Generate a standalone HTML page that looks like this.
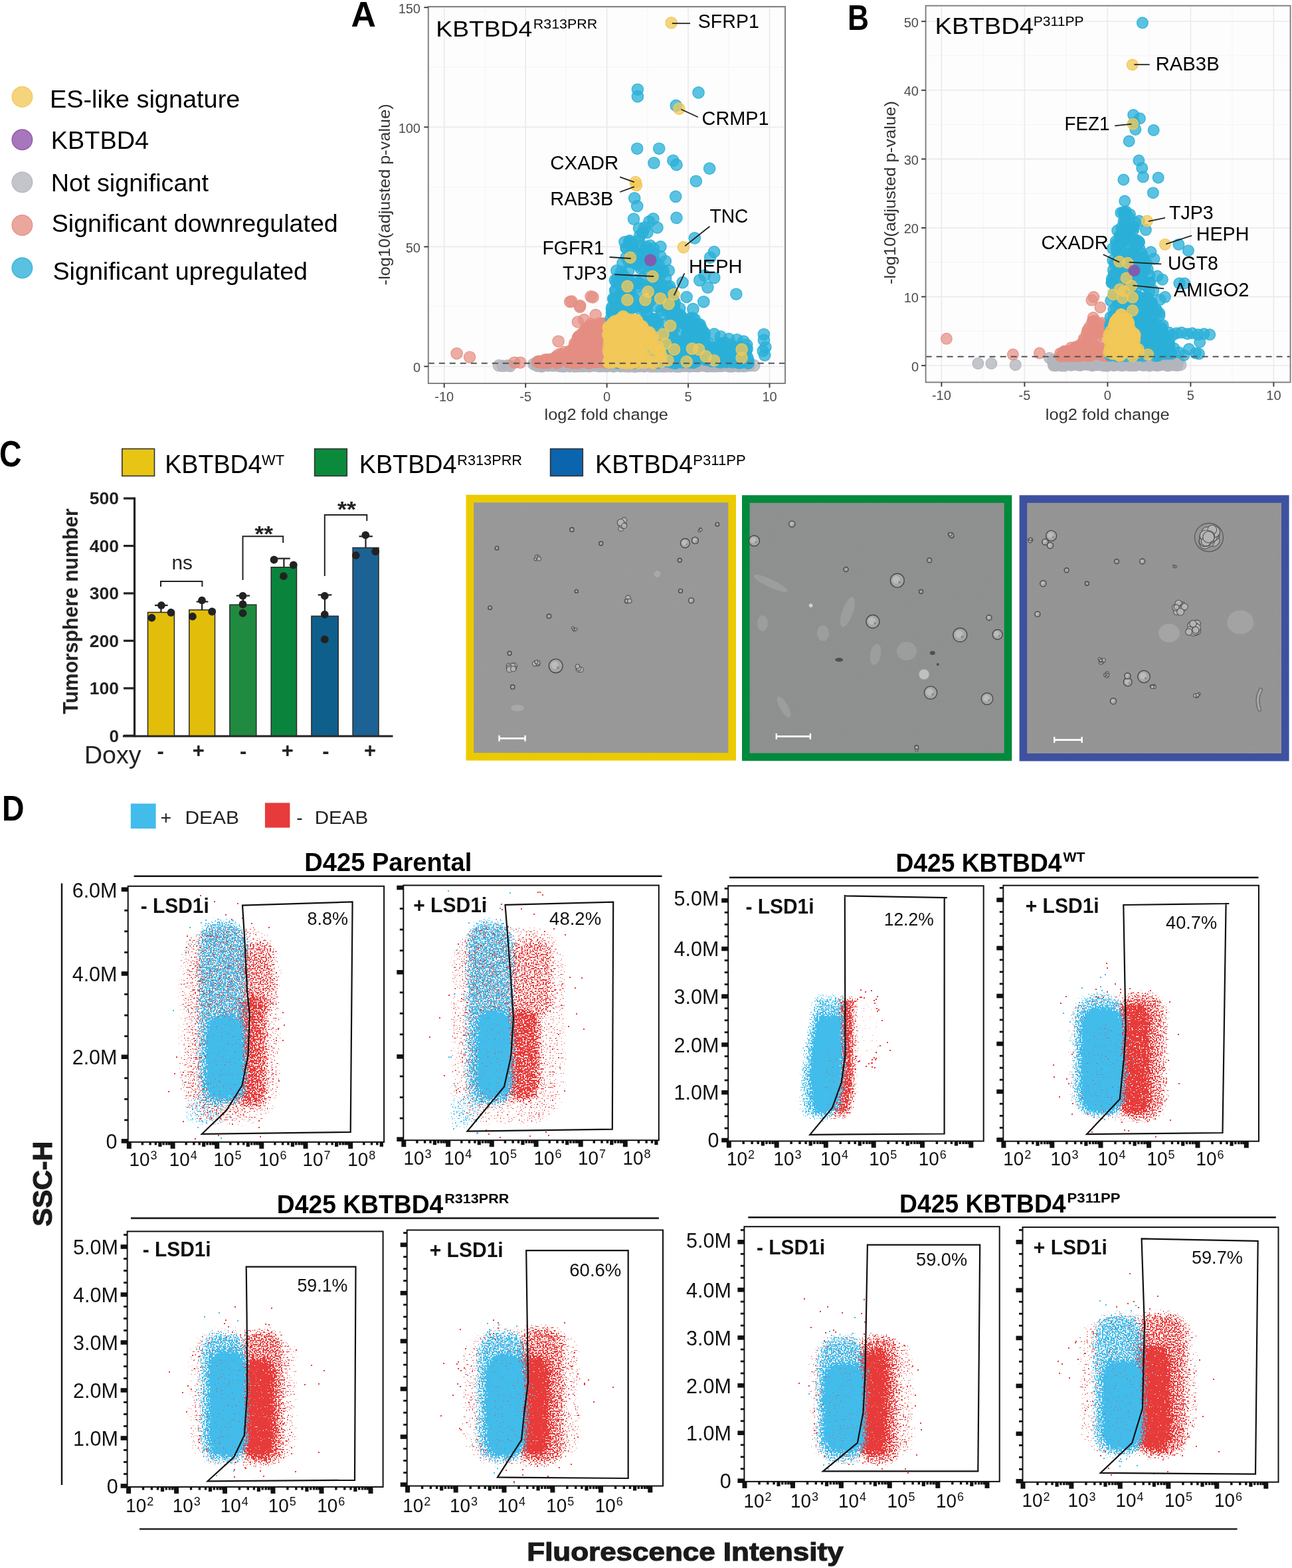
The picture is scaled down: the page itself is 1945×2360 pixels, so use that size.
<!DOCTYPE html><html><head><meta charset="utf-8"><style>html,body{margin:0;padding:0;background:#fff;}svg{display:block}text{font-family:"Liberation Sans",Arial,Helvetica,sans-serif}</style></head><body><svg width="1945" height="2360" viewBox="0 0 1945 2360"><rect width="1945" height="2360" fill="#fff"/><circle cx="33.4" cy="145.8" r="15.3" fill="#F2C858" fill-opacity="0.78" stroke="#F2C858" stroke-opacity="0.9" stroke-width="1.4"/><text x="74.9" y="161.9" font-size="36" textLength="286.5" lengthAdjust="spacingAndGlyphs">ES-like signature</text><circle cx="33.4" cy="210.3" r="15.3" fill="#8E4FA8" fill-opacity="0.78" stroke="#8E4FA8" stroke-opacity="0.9" stroke-width="1.4"/><text x="76.7" y="223.9" font-size="36" textLength="147.4" lengthAdjust="spacingAndGlyphs">KBTBD4</text><circle cx="33.4" cy="274.2" r="15.3" fill="#B3B5BD" fill-opacity="0.78" stroke="#B3B5BD" stroke-opacity="0.9" stroke-width="1.4"/><text x="76.7" y="287.7" font-size="36" textLength="237.3" lengthAdjust="spacingAndGlyphs">Not significant</text><circle cx="33.4" cy="339.0" r="15.3" fill="#E48E82" fill-opacity="0.78" stroke="#E48E82" stroke-opacity="0.9" stroke-width="1.4"/><text x="77.7" y="348.5" font-size="36" textLength="431.1" lengthAdjust="spacingAndGlyphs">Significant downregulated</text><circle cx="33.4" cy="403.3" r="15.3" fill="#2BB0D8" fill-opacity="0.78" stroke="#2BB0D8" stroke-opacity="0.9" stroke-width="1.4"/><text x="79.4" y="421.3" font-size="36" textLength="383.7" lengthAdjust="spacingAndGlyphs">Significant upregulated</text><rect x="644.8" y="10.0" width="537.2" height="567.0" fill="#fdfdfd"/><line x1="644.8" y1="461.4" x2="1182.0" y2="461.4" stroke="#f3f3f6" stroke-width="0.8"/><line x1="644.8" y1="281.4" x2="1182.0" y2="281.4" stroke="#f3f3f6" stroke-width="0.8"/><line x1="644.8" y1="101.2" x2="1182.0" y2="101.2" stroke="#f3f3f6" stroke-width="0.8"/><line x1="729.9" y1="10.0" x2="729.9" y2="577.0" stroke="#f3f3f6" stroke-width="0.8"/><line x1="852.4" y1="10.0" x2="852.4" y2="577.0" stroke="#f3f3f6" stroke-width="0.8"/><line x1="974.8" y1="10.0" x2="974.8" y2="577.0" stroke="#f3f3f6" stroke-width="0.8"/><line x1="1097.3" y1="10.0" x2="1097.3" y2="577.0" stroke="#f3f3f6" stroke-width="0.8"/><line x1="644.8" y1="551.5" x2="1182.0" y2="551.5" stroke="#e9e9ef" stroke-width="1.6"/><line x1="644.8" y1="371.4" x2="1182.0" y2="371.4" stroke="#e9e9ef" stroke-width="1.6"/><line x1="644.8" y1="191.3" x2="1182.0" y2="191.3" stroke="#e9e9ef" stroke-width="1.6"/><line x1="644.8" y1="11.2" x2="1182.0" y2="11.2" stroke="#e9e9ef" stroke-width="1.6"/><line x1="668.7" y1="10.0" x2="668.7" y2="577.0" stroke="#e9e9ef" stroke-width="1.6"/><line x1="791.2" y1="10.0" x2="791.2" y2="577.0" stroke="#e9e9ef" stroke-width="1.6"/><line x1="913.6" y1="10.0" x2="913.6" y2="577.0" stroke="#e9e9ef" stroke-width="1.6"/><line x1="1036.0" y1="10.0" x2="1036.0" y2="577.0" stroke="#e9e9ef" stroke-width="1.6"/><line x1="1158.5" y1="10.0" x2="1158.5" y2="577.0" stroke="#e9e9ef" stroke-width="1.6"/><g fill="#B3B5BD" fill-opacity="0.77" stroke="#B3B5BD" stroke-opacity="0.89" stroke-width="1.4"><circle cx="1004.9" cy="548.3" r="8.6"/><circle cx="1052.8" cy="550.7" r="8.6"/><circle cx="901.4" cy="548.4" r="8.6"/><circle cx="807.5" cy="548.5" r="8.6"/><circle cx="1059.6" cy="549.8" r="8.6"/><circle cx="902.3" cy="550.5" r="8.6"/><circle cx="887.0" cy="549.9" r="8.6"/><circle cx="966.5" cy="549.5" r="8.6"/><circle cx="1122.8" cy="548.6" r="8.6"/><circle cx="1003.9" cy="547.9" r="8.6"/><circle cx="874.4" cy="550.9" r="8.6"/><circle cx="1000.9" cy="551.3" r="8.6"/><circle cx="817.2" cy="549.6" r="8.6"/><circle cx="954.3" cy="548.2" r="8.6"/><circle cx="1006.2" cy="549.6" r="8.6"/><circle cx="964.0" cy="550.6" r="8.6"/><circle cx="809.6" cy="550.8" r="8.6"/><circle cx="1026.2" cy="550.8" r="8.6"/><circle cx="923.5" cy="551.5" r="8.6"/><circle cx="1070.1" cy="550.9" r="8.6"/><circle cx="891.0" cy="548.3" r="8.6"/><circle cx="968.1" cy="548.4" r="8.6"/><circle cx="1009.5" cy="548.8" r="8.6"/><circle cx="835.0" cy="549.6" r="8.6"/><circle cx="967.5" cy="548.4" r="8.6"/><circle cx="920.9" cy="549.3" r="8.6"/><circle cx="824.7" cy="550.1" r="8.6"/><circle cx="908.7" cy="551.0" r="8.6"/><circle cx="1065.7" cy="550.1" r="8.6"/><circle cx="1117.4" cy="549.4" r="8.6"/><circle cx="998.5" cy="549.2" r="8.6"/><circle cx="1021.2" cy="551.0" r="8.6"/><circle cx="946.0" cy="550.6" r="8.6"/><circle cx="934.0" cy="551.2" r="8.6"/><circle cx="1114.0" cy="550.7" r="8.6"/><circle cx="1019.7" cy="550.4" r="8.6"/><circle cx="1084.1" cy="549.1" r="8.6"/><circle cx="847.7" cy="548.5" r="8.6"/><circle cx="1106.7" cy="548.2" r="8.6"/><circle cx="987.2" cy="551.0" r="8.6"/><circle cx="867.1" cy="548.2" r="8.6"/><circle cx="981.7" cy="550.8" r="8.6"/><circle cx="1087.3" cy="549.2" r="8.6"/><circle cx="987.2" cy="550.1" r="8.6"/><circle cx="936.7" cy="550.6" r="8.6"/><circle cx="818.0" cy="548.3" r="8.6"/><circle cx="954.8" cy="549.5" r="8.6"/><circle cx="908.4" cy="548.8" r="8.6"/><circle cx="813.9" cy="550.2" r="8.6"/><circle cx="815.5" cy="551.1" r="8.6"/><circle cx="1113.8" cy="549.1" r="8.6"/><circle cx="942.2" cy="549.6" r="8.6"/><circle cx="1083.7" cy="550.3" r="8.6"/><circle cx="993.8" cy="549.0" r="8.6"/><circle cx="919.0" cy="549.6" r="8.6"/><circle cx="1049.5" cy="548.2" r="8.6"/><circle cx="853.9" cy="548.1" r="8.6"/><circle cx="807.5" cy="548.8" r="8.6"/><circle cx="1063.9" cy="551.0" r="8.6"/><circle cx="939.2" cy="548.6" r="8.6"/><circle cx="810.4" cy="549.2" r="8.6"/><circle cx="1058.3" cy="549.7" r="8.6"/><circle cx="1036.9" cy="550.7" r="8.6"/><circle cx="869.0" cy="550.2" r="8.6"/><circle cx="863.0" cy="550.3" r="8.6"/><circle cx="1107.7" cy="549.4" r="8.6"/><circle cx="914.1" cy="550.5" r="8.6"/><circle cx="1108.9" cy="549.9" r="8.6"/><circle cx="1118.0" cy="549.6" r="8.6"/><circle cx="971.8" cy="548.3" r="8.6"/><circle cx="1042.3" cy="549.4" r="8.6"/><circle cx="941.7" cy="548.3" r="8.6"/><circle cx="936.9" cy="548.2" r="8.6"/><circle cx="827.7" cy="550.0" r="8.6"/><circle cx="971.2" cy="548.1" r="8.6"/><circle cx="885.8" cy="548.6" r="8.6"/><circle cx="1021.2" cy="548.9" r="8.6"/><circle cx="1006.3" cy="548.0" r="8.6"/><circle cx="911.8" cy="550.1" r="8.6"/><circle cx="870.4" cy="551.3" r="8.6"/><circle cx="873.6" cy="548.2" r="8.6"/><circle cx="1073.3" cy="551.1" r="8.6"/><circle cx="998.1" cy="549.8" r="8.6"/><circle cx="995.2" cy="549.1" r="8.6"/><circle cx="903.5" cy="548.0" r="8.6"/><circle cx="954.2" cy="549.2" r="8.6"/><circle cx="1008.1" cy="550.8" r="8.6"/><circle cx="825.5" cy="550.0" r="8.6"/><circle cx="1049.1" cy="548.6" r="8.6"/><circle cx="1038.3" cy="551.1" r="8.6"/><circle cx="1096.6" cy="548.6" r="8.6"/><circle cx="1085.3" cy="549.6" r="8.6"/><circle cx="1097.4" cy="551.3" r="8.6"/><circle cx="815.5" cy="551.4" r="8.6"/><circle cx="886.3" cy="550.6" r="8.6"/><circle cx="865.5" cy="549.5" r="8.6"/><circle cx="818.3" cy="549.4" r="8.6"/><circle cx="858.7" cy="549.1" r="8.6"/><circle cx="812.6" cy="550.4" r="8.6"/><circle cx="1104.6" cy="549.6" r="8.6"/><circle cx="1064.2" cy="549.1" r="8.6"/><circle cx="1000.3" cy="550.8" r="8.6"/><circle cx="988.7" cy="551.4" r="8.6"/><circle cx="1061.1" cy="548.0" r="8.6"/><circle cx="1077.7" cy="551.3" r="8.6"/><circle cx="913.7" cy="550.4" r="8.6"/><circle cx="841.7" cy="549.2" r="8.6"/><circle cx="1059.7" cy="550.4" r="8.6"/><circle cx="1080.5" cy="548.6" r="8.6"/><circle cx="847.0" cy="548.7" r="8.6"/><circle cx="1086.8" cy="550.8" r="8.6"/><circle cx="988.5" cy="549.2" r="8.6"/><circle cx="999.8" cy="551.2" r="8.6"/><circle cx="1016.3" cy="549.2" r="8.6"/><circle cx="1068.1" cy="548.6" r="8.6"/><circle cx="910.0" cy="548.9" r="8.6"/><circle cx="1082.0" cy="548.3" r="8.6"/><circle cx="857.3" cy="551.4" r="8.6"/><circle cx="1013.0" cy="550.7" r="8.6"/><circle cx="985.3" cy="548.1" r="8.6"/><circle cx="926.6" cy="550.6" r="8.6"/><circle cx="951.2" cy="549.1" r="8.6"/><circle cx="838.0" cy="550.1" r="8.6"/><circle cx="848.4" cy="549.1" r="8.6"/><circle cx="1070.3" cy="550.1" r="8.6"/><circle cx="924.2" cy="549.6" r="8.6"/><circle cx="874.3" cy="550.6" r="8.6"/><circle cx="910.9" cy="549.9" r="8.6"/><circle cx="831.8" cy="548.8" r="8.6"/><circle cx="990.2" cy="550.4" r="8.6"/><circle cx="830.5" cy="548.8" r="8.6"/><circle cx="847.6" cy="551.0" r="8.6"/><circle cx="847.4" cy="551.2" r="8.6"/><circle cx="1094.4" cy="550.5" r="8.6"/><circle cx="903.4" cy="548.5" r="8.6"/><circle cx="1003.2" cy="550.8" r="8.6"/><circle cx="944.3" cy="548.3" r="8.6"/><circle cx="925.4" cy="548.9" r="8.6"/><circle cx="836.7" cy="548.9" r="8.6"/><circle cx="1053.0" cy="548.5" r="8.6"/><circle cx="1020.5" cy="550.2" r="8.6"/><circle cx="826.3" cy="549.6" r="8.6"/><circle cx="1047.0" cy="550.8" r="8.6"/><circle cx="890.6" cy="549.6" r="8.6"/><circle cx="1044.1" cy="548.3" r="8.6"/><circle cx="845.9" cy="550.8" r="8.6"/><circle cx="1060.4" cy="549.2" r="8.6"/><circle cx="1035.4" cy="547.9" r="8.6"/><circle cx="1104.9" cy="548.5" r="8.6"/><circle cx="1053.3" cy="550.1" r="8.6"/><circle cx="1010.0" cy="550.8" r="8.6"/><circle cx="1047.6" cy="548.8" r="8.6"/><circle cx="1035.5" cy="549.9" r="8.6"/><circle cx="926.2" cy="550.0" r="8.6"/><circle cx="816.5" cy="548.5" r="8.6"/><circle cx="978.5" cy="550.1" r="8.6"/><circle cx="980.3" cy="548.9" r="8.6"/><circle cx="927.3" cy="548.5" r="8.6"/><circle cx="1098.6" cy="550.1" r="8.6"/><circle cx="849.7" cy="548.8" r="8.6"/><circle cx="1122.0" cy="551.0" r="8.6"/><circle cx="1032.7" cy="548.5" r="8.6"/><circle cx="1098.9" cy="551.1" r="8.6"/><circle cx="835.1" cy="547.9" r="8.6"/><circle cx="843.0" cy="550.9" r="8.6"/><circle cx="988.9" cy="549.9" r="8.6"/><circle cx="1044.7" cy="550.8" r="8.6"/><circle cx="1097.0" cy="550.7" r="8.6"/><circle cx="1050.7" cy="551.3" r="8.6"/><circle cx="956.6" cy="551.4" r="8.6"/><circle cx="905.8" cy="550.4" r="8.6"/><circle cx="1035.0" cy="549.9" r="8.6"/><circle cx="823.9" cy="547.9" r="8.6"/><circle cx="1088.8" cy="548.2" r="8.6"/><circle cx="884.3" cy="550.1" r="8.6"/><circle cx="878.2" cy="551.1" r="8.6"/><circle cx="816.4" cy="549.7" r="8.6"/><circle cx="845.0" cy="550.9" r="8.6"/><circle cx="1079.8" cy="549.8" r="8.6"/><circle cx="864.3" cy="549.1" r="8.6"/><circle cx="890.5" cy="549.6" r="8.6"/><circle cx="895.9" cy="549.6" r="8.6"/><circle cx="1006.0" cy="549.6" r="8.6"/><circle cx="931.8" cy="548.7" r="8.6"/><circle cx="1083.9" cy="550.9" r="8.6"/><circle cx="849.2" cy="551.1" r="8.6"/><circle cx="1117.7" cy="548.1" r="8.6"/><circle cx="879.3" cy="548.0" r="8.6"/><circle cx="872.0" cy="549.7" r="8.6"/><circle cx="964.2" cy="548.2" r="8.6"/><circle cx="818.7" cy="550.4" r="8.6"/><circle cx="996.9" cy="551.3" r="8.6"/><circle cx="881.2" cy="549.8" r="8.6"/><circle cx="1086.3" cy="548.8" r="8.6"/><circle cx="1069.8" cy="548.8" r="8.6"/><circle cx="1031.2" cy="548.4" r="8.6"/><circle cx="1022.8" cy="548.9" r="8.6"/><circle cx="901.9" cy="550.9" r="8.6"/><circle cx="1046.7" cy="550.9" r="8.6"/><circle cx="1098.6" cy="549.4" r="8.6"/><circle cx="910.7" cy="548.1" r="8.6"/><circle cx="855.2" cy="549.6" r="8.6"/><circle cx="835.0" cy="548.0" r="8.6"/><circle cx="989.0" cy="548.6" r="8.6"/><circle cx="895.6" cy="548.6" r="8.6"/><circle cx="1029.6" cy="549.2" r="8.6"/><circle cx="1108.5" cy="549.9" r="8.6"/><circle cx="938.0" cy="549.0" r="8.6"/><circle cx="1071.7" cy="550.3" r="8.6"/><circle cx="1019.0" cy="550.7" r="8.6"/><circle cx="981.5" cy="548.7" r="8.6"/><circle cx="826.6" cy="548.9" r="8.6"/><circle cx="810.8" cy="548.0" r="8.6"/><circle cx="955.1" cy="550.0" r="8.6"/><circle cx="1035.2" cy="549.6" r="8.6"/><circle cx="1038.5" cy="551.2" r="8.6"/><circle cx="985.0" cy="549.5" r="8.6"/><circle cx="1102.6" cy="551.4" r="8.6"/><circle cx="950.0" cy="549.2" r="8.6"/><circle cx="981.2" cy="551.2" r="8.6"/><circle cx="994.7" cy="550.7" r="8.6"/><circle cx="868.1" cy="548.3" r="8.6"/><circle cx="868.8" cy="549.9" r="8.6"/><circle cx="1044.7" cy="549.0" r="8.6"/><circle cx="982.0" cy="548.6" r="8.6"/><circle cx="954.1" cy="549.3" r="8.6"/><circle cx="1066.6" cy="549.1" r="8.6"/><circle cx="1010.2" cy="550.0" r="8.6"/><circle cx="983.6" cy="550.1" r="8.6"/><circle cx="1042.8" cy="550.1" r="8.6"/><circle cx="954.4" cy="548.8" r="8.6"/><circle cx="966.2" cy="550.3" r="8.6"/><circle cx="1069.1" cy="550.1" r="8.6"/><circle cx="1074.8" cy="548.7" r="8.6"/><circle cx="948.2" cy="548.9" r="8.6"/><circle cx="816.8" cy="550.1" r="8.6"/><circle cx="1079.7" cy="549.4" r="8.6"/><circle cx="983.4" cy="549.1" r="8.6"/><circle cx="1021.6" cy="549.4" r="8.6"/><circle cx="939.8" cy="550.8" r="8.6"/><circle cx="899.0" cy="550.4" r="8.6"/><circle cx="943.0" cy="547.9" r="8.6"/><circle cx="918.1" cy="549.9" r="8.6"/><circle cx="924.2" cy="549.4" r="8.6"/><circle cx="1107.6" cy="548.3" r="8.6"/><circle cx="925.9" cy="550.5" r="8.6"/><circle cx="1087.4" cy="549.7" r="8.6"/><circle cx="1024.1" cy="551.2" r="8.6"/><circle cx="1081.7" cy="550.4" r="8.6"/><circle cx="963.3" cy="550.8" r="8.6"/><circle cx="939.6" cy="548.5" r="8.6"/><circle cx="1069.3" cy="549.8" r="8.6"/><circle cx="1050.3" cy="549.9" r="8.6"/><circle cx="924.7" cy="549.5" r="8.6"/><circle cx="869.9" cy="550.4" r="8.6"/><circle cx="1030.8" cy="548.7" r="8.6"/><circle cx="823.9" cy="548.9" r="8.6"/><circle cx="1066.1" cy="549.9" r="8.6"/><circle cx="825.7" cy="549.0" r="8.6"/><circle cx="884.2" cy="549.2" r="8.6"/><circle cx="925.7" cy="549.2" r="8.6"/><circle cx="888.0" cy="549.8" r="8.6"/><circle cx="972.9" cy="549.2" r="8.6"/><circle cx="870.5" cy="548.0" r="8.6"/><circle cx="897.9" cy="550.4" r="8.6"/><circle cx="887.4" cy="551.3" r="8.6"/><circle cx="940.5" cy="548.7" r="8.6"/><circle cx="1031.7" cy="550.8" r="8.6"/><circle cx="849.4" cy="550.3" r="8.6"/><circle cx="1050.4" cy="549.7" r="8.6"/><circle cx="1099.8" cy="549.1" r="8.6"/><circle cx="1003.5" cy="548.7" r="8.6"/><circle cx="1044.7" cy="550.3" r="8.6"/><circle cx="887.7" cy="549.9" r="8.6"/><circle cx="961.6" cy="551.0" r="8.6"/><circle cx="946.4" cy="549.2" r="8.6"/><circle cx="849.1" cy="551.0" r="8.6"/><circle cx="861.2" cy="550.5" r="8.6"/><circle cx="1112.0" cy="551.4" r="8.6"/><circle cx="864.3" cy="550.9" r="8.6"/><circle cx="956.9" cy="551.4" r="8.6"/><circle cx="951.7" cy="550.9" r="8.6"/><circle cx="891.7" cy="548.6" r="8.6"/><circle cx="864.4" cy="549.3" r="8.6"/><circle cx="935.2" cy="550.0" r="8.6"/><circle cx="1065.9" cy="550.9" r="8.6"/><circle cx="1100.0" cy="548.3" r="8.6"/><circle cx="1018.6" cy="551.3" r="8.6"/><circle cx="1017.0" cy="549.3" r="8.6"/><circle cx="1051.7" cy="550.7" r="8.6"/><circle cx="1109.4" cy="548.3" r="8.6"/><circle cx="842.3" cy="550.4" r="8.6"/><circle cx="816.2" cy="548.5" r="8.6"/><circle cx="1097.2" cy="547.9" r="8.6"/><circle cx="1000.7" cy="549.1" r="8.6"/><circle cx="1021.8" cy="549.4" r="8.6"/><circle cx="1109.1" cy="549.3" r="8.6"/><circle cx="912.7" cy="549.7" r="8.6"/><circle cx="811.8" cy="548.9" r="8.6"/><circle cx="1026.8" cy="550.0" r="8.6"/><circle cx="1076.9" cy="548.8" r="8.6"/><circle cx="913.0" cy="551.2" r="8.6"/><circle cx="847.9" cy="550.8" r="8.6"/><circle cx="902.6" cy="549.9" r="8.6"/><circle cx="1101.3" cy="550.5" r="8.6"/><circle cx="1091.9" cy="549.0" r="8.6"/><circle cx="1077.6" cy="550.0" r="8.6"/><circle cx="806.9" cy="548.7" r="8.6"/><circle cx="884.0" cy="551.0" r="8.6"/><circle cx="1060.4" cy="549.0" r="8.6"/><circle cx="873.5" cy="550.5" r="8.6"/><circle cx="1104.9" cy="550.5" r="8.6"/><circle cx="1029.5" cy="551.0" r="8.6"/><circle cx="1065.3" cy="551.1" r="8.6"/><circle cx="970.1" cy="551.4" r="8.6"/><circle cx="981.0" cy="548.5" r="8.6"/><circle cx="832.7" cy="550.5" r="8.6"/><circle cx="1049.3" cy="549.3" r="8.6"/><circle cx="905.4" cy="549.2" r="8.6"/><circle cx="950.6" cy="548.4" r="8.6"/><circle cx="899.1" cy="548.8" r="8.6"/><circle cx="1008.2" cy="548.8" r="8.6"/><circle cx="926.3" cy="548.9" r="8.6"/><circle cx="1028.2" cy="550.1" r="8.6"/><circle cx="814.3" cy="548.0" r="8.6"/><circle cx="1033.0" cy="550.8" r="8.6"/><circle cx="1038.5" cy="550.5" r="8.6"/><circle cx="955.3" cy="548.4" r="8.6"/><circle cx="948.5" cy="550.5" r="8.6"/><circle cx="903.1" cy="551.2" r="8.6"/><circle cx="1000.7" cy="550.4" r="8.6"/><circle cx="1004.0" cy="551.3" r="8.6"/><circle cx="908.5" cy="550.7" r="8.6"/><circle cx="915.9" cy="547.8" r="8.6"/><circle cx="963.1" cy="549.2" r="8.6"/><circle cx="953.9" cy="551.2" r="8.6"/><circle cx="995.2" cy="548.3" r="8.6"/><circle cx="928.8" cy="549.1" r="8.6"/><circle cx="1060.0" cy="548.1" r="8.6"/><circle cx="953.4" cy="549.4" r="8.6"/><circle cx="1025.4" cy="548.5" r="8.6"/><circle cx="902.5" cy="550.5" r="8.6"/><circle cx="972.5" cy="549.6" r="8.6"/><circle cx="869.7" cy="547.7" r="8.6"/><circle cx="982.9" cy="551.3" r="8.6"/><circle cx="943.4" cy="550.9" r="8.6"/><circle cx="980.7" cy="549.3" r="8.6"/><circle cx="974.8" cy="549.2" r="8.6"/><circle cx="932.6" cy="550.2" r="8.6"/><circle cx="1005.8" cy="548.5" r="8.6"/><circle cx="914.1" cy="548.3" r="8.6"/><circle cx="939.5" cy="550.7" r="8.6"/><circle cx="872.2" cy="549.6" r="8.6"/><circle cx="931.8" cy="549.0" r="8.6"/><circle cx="997.1" cy="551.0" r="8.6"/><circle cx="985.2" cy="548.6" r="8.6"/><circle cx="938.9" cy="550.4" r="8.6"/><circle cx="1009.7" cy="549.4" r="8.6"/><circle cx="983.2" cy="549.3" r="8.6"/><circle cx="1044.6" cy="548.3" r="8.6"/><circle cx="978.1" cy="551.1" r="8.6"/><circle cx="851.0" cy="548.1" r="8.6"/><circle cx="940.8" cy="551.3" r="8.6"/><circle cx="983.8" cy="550.7" r="8.6"/><circle cx="867.5" cy="547.8" r="8.6"/><circle cx="914.0" cy="550.8" r="8.6"/><circle cx="920.7" cy="549.4" r="8.6"/><circle cx="837.2" cy="549.8" r="8.6"/><circle cx="962.7" cy="550.1" r="8.6"/><circle cx="1047.3" cy="548.5" r="8.6"/><circle cx="862.1" cy="548.3" r="8.6"/><circle cx="891.2" cy="548.4" r="8.6"/><circle cx="954.2" cy="548.0" r="8.6"/><circle cx="967.1" cy="549.7" r="8.6"/><circle cx="964.9" cy="549.5" r="8.6"/><circle cx="935.0" cy="550.9" r="8.6"/><circle cx="923.9" cy="551.3" r="8.6"/><circle cx="867.9" cy="551.0" r="8.6"/><circle cx="1040.7" cy="550.1" r="8.6"/><circle cx="1015.1" cy="550.4" r="8.6"/><circle cx="917.2" cy="550.2" r="8.6"/><circle cx="947.6" cy="550.5" r="8.6"/><circle cx="936.1" cy="548.5" r="8.6"/><circle cx="929.0" cy="548.0" r="8.6"/><circle cx="897.2" cy="550.3" r="8.6"/><circle cx="1062.0" cy="550.5" r="8.6"/><circle cx="938.6" cy="549.8" r="8.6"/><circle cx="985.0" cy="547.8" r="8.6"/><circle cx="940.2" cy="548.7" r="8.6"/><circle cx="963.6" cy="551.0" r="8.6"/><circle cx="1026.5" cy="548.7" r="8.6"/><circle cx="954.4" cy="547.9" r="8.6"/><circle cx="1023.3" cy="551.1" r="8.6"/><circle cx="917.5" cy="547.8" r="8.6"/><circle cx="982.8" cy="547.9" r="8.6"/><circle cx="1018.7" cy="551.2" r="8.6"/><circle cx="987.1" cy="549.7" r="8.6"/><circle cx="917.7" cy="548.6" r="8.6"/><circle cx="905.3" cy="547.5" r="8.6"/><circle cx="932.2" cy="548.3" r="8.6"/><circle cx="918.6" cy="548.4" r="8.6"/><circle cx="965.6" cy="547.6" r="8.6"/><circle cx="940.6" cy="549.7" r="8.6"/><circle cx="913.3" cy="547.8" r="8.6"/><circle cx="890.7" cy="547.8" r="8.6"/><circle cx="918.7" cy="550.0" r="8.6"/><circle cx="947.8" cy="549.6" r="8.6"/><circle cx="984.5" cy="550.0" r="8.6"/><circle cx="967.8" cy="550.9" r="8.6"/><circle cx="981.3" cy="548.5" r="8.6"/><circle cx="1010.9" cy="548.8" r="8.6"/><circle cx="969.5" cy="550.6" r="8.6"/><circle cx="879.0" cy="550.4" r="8.6"/><circle cx="937.6" cy="548.5" r="8.6"/><circle cx="883.8" cy="550.2" r="8.6"/><circle cx="955.4" cy="550.8" r="8.6"/><circle cx="866.6" cy="548.7" r="8.6"/><circle cx="945.9" cy="550.3" r="8.6"/><circle cx="954.8" cy="551.4" r="8.6"/><circle cx="977.4" cy="549.2" r="8.6"/><circle cx="948.4" cy="550.1" r="8.6"/><circle cx="1076.3" cy="549.2" r="8.6"/><circle cx="927.6" cy="548.7" r="8.6"/><circle cx="988.8" cy="547.7" r="8.6"/><circle cx="926.6" cy="550.5" r="8.6"/><circle cx="902.4" cy="547.6" r="8.6"/><circle cx="927.0" cy="549.1" r="8.6"/><circle cx="879.5" cy="547.7" r="8.6"/><circle cx="957.6" cy="549.4" r="8.6"/><circle cx="863.4" cy="548.7" r="8.6"/><circle cx="989.4" cy="550.2" r="8.6"/><circle cx="946.5" cy="551.4" r="8.6"/><circle cx="981.3" cy="551.2" r="8.6"/><circle cx="893.1" cy="550.2" r="8.6"/><circle cx="1021.3" cy="551.4" r="8.6"/><circle cx="1007.1" cy="549.8" r="8.6"/><circle cx="996.3" cy="548.7" r="8.6"/><circle cx="942.6" cy="550.5" r="8.6"/><circle cx="987.9" cy="547.9" r="8.6"/><circle cx="946.2" cy="551.1" r="8.6"/><circle cx="1009.6" cy="551.4" r="8.6"/><circle cx="865.0" cy="551.4" r="8.6"/><circle cx="951.1" cy="549.0" r="8.6"/><circle cx="1014.8" cy="550.9" r="8.6"/><circle cx="990.2" cy="550.2" r="8.6"/><circle cx="992.8" cy="551.2" r="8.6"/><circle cx="988.2" cy="548.8" r="8.6"/><circle cx="957.9" cy="549.1" r="8.6"/><circle cx="904.9" cy="550.5" r="8.6"/><circle cx="972.9" cy="547.7" r="8.6"/><circle cx="751.0" cy="550.1" r="8.6"/><circle cx="756.9" cy="550.8" r="8.6"/><circle cx="764.2" cy="550.2" r="8.6"/><circle cx="767.9" cy="550.8" r="8.6"/><circle cx="803.4" cy="547.9" r="8.6"/><circle cx="807.1" cy="549.7" r="8.6"/><circle cx="1127.9" cy="550.4" r="8.6"/><circle cx="1135.2" cy="550.1" r="8.6"/><circle cx="1119.3" cy="551.1" r="8.6"/></g><g fill="#E48E82" fill-opacity="0.72" stroke="#E48E82" stroke-opacity="0.84" stroke-width="1.4"><circle cx="902.5" cy="508.4" r="8.6"/><circle cx="885.1" cy="546.3" r="8.6"/><circle cx="906.7" cy="544.2" r="8.6"/><circle cx="862.3" cy="529.9" r="8.6"/><circle cx="902.2" cy="497.6" r="8.6"/><circle cx="881.2" cy="540.0" r="8.6"/><circle cx="856.9" cy="532.9" r="8.6"/><circle cx="911.8" cy="535.5" r="8.6"/><circle cx="905.3" cy="525.2" r="8.6"/><circle cx="873.0" cy="527.9" r="8.6"/><circle cx="855.3" cy="541.4" r="8.6"/><circle cx="866.5" cy="524.6" r="8.6"/><circle cx="884.1" cy="499.1" r="8.6"/><circle cx="907.1" cy="530.8" r="8.6"/><circle cx="871.2" cy="509.2" r="8.6"/><circle cx="884.2" cy="543.2" r="8.6"/><circle cx="857.5" cy="529.1" r="8.6"/><circle cx="888.6" cy="544.8" r="8.6"/><circle cx="884.6" cy="521.7" r="8.6"/><circle cx="880.2" cy="498.2" r="8.6"/><circle cx="910.1" cy="541.6" r="8.6"/><circle cx="863.7" cy="537.0" r="8.6"/><circle cx="903.4" cy="509.9" r="8.6"/><circle cx="897.4" cy="512.6" r="8.6"/><circle cx="867.1" cy="519.8" r="8.6"/><circle cx="855.6" cy="537.2" r="8.6"/><circle cx="866.2" cy="533.4" r="8.6"/><circle cx="911.7" cy="517.9" r="8.6"/><circle cx="858.1" cy="539.8" r="8.6"/><circle cx="893.3" cy="544.6" r="8.6"/><circle cx="869.6" cy="546.3" r="8.6"/><circle cx="886.3" cy="528.4" r="8.6"/><circle cx="884.2" cy="533.6" r="8.6"/><circle cx="893.1" cy="539.0" r="8.6"/><circle cx="907.7" cy="487.1" r="8.6"/><circle cx="883.6" cy="524.4" r="8.6"/><circle cx="904.9" cy="532.2" r="8.6"/><circle cx="901.6" cy="531.9" r="8.6"/><circle cx="896.8" cy="529.0" r="8.6"/><circle cx="889.9" cy="491.4" r="8.6"/><circle cx="858.0" cy="532.3" r="8.6"/><circle cx="886.4" cy="528.5" r="8.6"/><circle cx="875.2" cy="544.8" r="8.6"/><circle cx="869.9" cy="524.6" r="8.6"/><circle cx="860.5" cy="532.5" r="8.6"/><circle cx="910.9" cy="487.3" r="8.6"/><circle cx="906.7" cy="497.9" r="8.6"/><circle cx="865.2" cy="516.8" r="8.6"/><circle cx="866.6" cy="518.4" r="8.6"/><circle cx="906.0" cy="510.8" r="8.6"/><circle cx="885.2" cy="538.3" r="8.6"/><circle cx="885.1" cy="533.7" r="8.6"/><circle cx="862.2" cy="544.4" r="8.6"/><circle cx="901.5" cy="486.9" r="8.6"/><circle cx="863.1" cy="546.5" r="8.6"/><circle cx="870.2" cy="543.1" r="8.6"/><circle cx="865.8" cy="529.9" r="8.6"/><circle cx="879.4" cy="528.3" r="8.6"/><circle cx="866.8" cy="526.0" r="8.6"/><circle cx="871.7" cy="533.0" r="8.6"/><circle cx="881.8" cy="499.3" r="8.6"/><circle cx="869.2" cy="521.2" r="8.6"/><circle cx="872.9" cy="509.5" r="8.6"/><circle cx="877.8" cy="525.3" r="8.6"/><circle cx="906.0" cy="507.2" r="8.6"/><circle cx="860.3" cy="544.6" r="8.6"/><circle cx="912.6" cy="545.8" r="8.6"/><circle cx="872.4" cy="506.8" r="8.6"/><circle cx="855.7" cy="545.0" r="8.6"/><circle cx="867.3" cy="544.8" r="8.6"/><circle cx="882.3" cy="517.8" r="8.6"/><circle cx="873.4" cy="543.6" r="8.6"/><circle cx="902.1" cy="496.2" r="8.6"/><circle cx="887.6" cy="541.2" r="8.6"/><circle cx="886.4" cy="513.4" r="8.6"/><circle cx="879.8" cy="503.9" r="8.6"/><circle cx="877.6" cy="525.1" r="8.6"/><circle cx="861.5" cy="534.3" r="8.6"/><circle cx="899.5" cy="500.7" r="8.6"/><circle cx="869.8" cy="508.3" r="8.6"/><circle cx="896.8" cy="523.2" r="8.6"/><circle cx="879.0" cy="509.6" r="8.6"/><circle cx="865.1" cy="528.7" r="8.6"/><circle cx="896.7" cy="517.0" r="8.6"/><circle cx="905.7" cy="521.1" r="8.6"/><circle cx="881.9" cy="534.8" r="8.6"/><circle cx="908.4" cy="531.0" r="8.6"/><circle cx="895.3" cy="524.5" r="8.6"/><circle cx="909.3" cy="488.9" r="8.6"/><circle cx="856.6" cy="530.6" r="8.6"/><circle cx="890.1" cy="544.0" r="8.6"/><circle cx="883.8" cy="545.1" r="8.6"/><circle cx="886.8" cy="538.9" r="8.6"/><circle cx="876.3" cy="535.4" r="8.6"/><circle cx="889.9" cy="498.7" r="8.6"/><circle cx="909.4" cy="530.4" r="8.6"/><circle cx="888.0" cy="546.5" r="8.6"/><circle cx="876.5" cy="501.9" r="8.6"/><circle cx="861.8" cy="525.5" r="8.6"/><circle cx="892.9" cy="532.2" r="8.6"/><circle cx="900.2" cy="531.6" r="8.6"/><circle cx="907.0" cy="543.5" r="8.6"/><circle cx="861.8" cy="528.9" r="8.6"/><circle cx="881.0" cy="541.4" r="8.6"/><circle cx="884.8" cy="533.4" r="8.6"/><circle cx="886.8" cy="505.8" r="8.6"/><circle cx="904.8" cy="544.5" r="8.6"/><circle cx="889.4" cy="487.7" r="8.6"/><circle cx="881.6" cy="507.8" r="8.6"/><circle cx="860.5" cy="527.2" r="8.6"/><circle cx="888.7" cy="494.8" r="8.6"/><circle cx="900.7" cy="490.7" r="8.6"/><circle cx="858.2" cy="534.0" r="8.6"/><circle cx="866.3" cy="539.9" r="8.6"/><circle cx="873.8" cy="523.5" r="8.6"/><circle cx="891.4" cy="490.0" r="8.6"/><circle cx="855.6" cy="544.6" r="8.6"/><circle cx="875.9" cy="510.3" r="8.6"/><circle cx="886.9" cy="520.5" r="8.6"/><circle cx="899.1" cy="506.3" r="8.6"/><circle cx="871.7" cy="544.4" r="8.6"/><circle cx="881.8" cy="500.8" r="8.6"/><circle cx="889.7" cy="544.8" r="8.6"/><circle cx="880.5" cy="530.2" r="8.6"/><circle cx="888.8" cy="515.1" r="8.6"/><circle cx="910.3" cy="530.0" r="8.6"/><circle cx="878.6" cy="519.1" r="8.6"/><circle cx="906.5" cy="505.1" r="8.6"/><circle cx="882.3" cy="504.4" r="8.6"/><circle cx="883.1" cy="494.0" r="8.6"/><circle cx="871.3" cy="543.2" r="8.6"/><circle cx="903.2" cy="531.5" r="8.6"/><circle cx="904.2" cy="511.1" r="8.6"/><circle cx="884.5" cy="543.6" r="8.6"/><circle cx="900.7" cy="544.1" r="8.6"/><circle cx="911.1" cy="494.8" r="8.6"/><circle cx="872.5" cy="543.1" r="8.6"/><circle cx="906.4" cy="520.5" r="8.6"/><circle cx="862.1" cy="535.5" r="8.6"/><circle cx="869.2" cy="533.7" r="8.6"/><circle cx="892.1" cy="490.7" r="8.6"/><circle cx="901.5" cy="539.3" r="8.6"/><circle cx="882.6" cy="523.4" r="8.6"/><circle cx="912.5" cy="543.4" r="8.6"/><circle cx="884.6" cy="495.8" r="8.6"/><circle cx="878.1" cy="536.9" r="8.6"/><circle cx="887.2" cy="531.7" r="8.6"/><circle cx="908.9" cy="543.4" r="8.6"/><circle cx="866.9" cy="544.9" r="8.6"/><circle cx="896.3" cy="531.7" r="8.6"/><circle cx="907.3" cy="491.9" r="8.6"/><circle cx="909.4" cy="534.6" r="8.6"/><circle cx="854.9" cy="542.4" r="8.6"/><circle cx="910.9" cy="502.7" r="8.6"/><circle cx="858.3" cy="534.1" r="8.6"/><circle cx="908.3" cy="486.9" r="8.6"/><circle cx="896.6" cy="491.8" r="8.6"/><circle cx="903.9" cy="527.8" r="8.6"/><circle cx="860.6" cy="530.9" r="8.6"/><circle cx="862.8" cy="538.1" r="8.6"/><circle cx="912.9" cy="516.7" r="8.6"/><circle cx="885.2" cy="493.1" r="8.6"/><circle cx="871.4" cy="506.0" r="8.6"/><circle cx="908.0" cy="528.1" r="8.6"/><circle cx="873.9" cy="543.0" r="8.6"/><circle cx="908.2" cy="538.4" r="8.6"/><circle cx="855.3" cy="534.4" r="8.6"/><circle cx="889.7" cy="509.2" r="8.6"/><circle cx="897.6" cy="545.1" r="8.6"/><circle cx="860.2" cy="536.9" r="8.6"/><circle cx="810.8" cy="545.1" r="8.6"/><circle cx="844.4" cy="536.9" r="8.6"/><circle cx="838.5" cy="546.1" r="8.6"/><circle cx="819.9" cy="541.7" r="8.6"/><circle cx="814.3" cy="544.5" r="8.6"/><circle cx="810.7" cy="543.8" r="8.6"/><circle cx="816.7" cy="544.7" r="8.6"/><circle cx="835.1" cy="538.9" r="8.6"/><circle cx="854.2" cy="532.6" r="8.6"/><circle cx="825.3" cy="546.1" r="8.6"/><circle cx="842.9" cy="532.8" r="8.6"/><circle cx="809.1" cy="544.6" r="8.6"/><circle cx="816.9" cy="544.5" r="8.6"/><circle cx="833.9" cy="540.3" r="8.6"/><circle cx="856.8" cy="532.8" r="8.6"/><circle cx="827.5" cy="541.2" r="8.6"/><circle cx="831.2" cy="542.9" r="8.6"/><circle cx="826.2" cy="543.0" r="8.6"/><circle cx="822.1" cy="545.2" r="8.6"/><circle cx="815.6" cy="544.7" r="8.6"/><circle cx="822.7" cy="541.4" r="8.6"/><circle cx="849.8" cy="540.7" r="8.6"/><circle cx="838.6" cy="535.5" r="8.6"/><circle cx="825.9" cy="542.6" r="8.6"/><circle cx="830.0" cy="541.0" r="8.6"/><circle cx="855.3" cy="543.9" r="8.6"/><circle cx="855.6" cy="533.6" r="8.6"/><circle cx="847.3" cy="536.4" r="8.6"/><circle cx="850.9" cy="540.9" r="8.6"/><circle cx="843.0" cy="542.9" r="8.6"/><circle cx="833.2" cy="539.8" r="8.6"/><circle cx="818.1" cy="546.3" r="8.6"/><circle cx="847.0" cy="533.7" r="8.6"/><circle cx="840.9" cy="542.4" r="8.6"/><circle cx="840.5" cy="545.5" r="8.6"/><circle cx="899.6" cy="508.3" r="8.6"/><circle cx="897.8" cy="514.6" r="8.6"/><circle cx="883.0" cy="509.7" r="8.6"/><circle cx="892.0" cy="502.2" r="8.6"/><circle cx="888.2" cy="537.3" r="8.6"/><circle cx="895.0" cy="506.2" r="8.6"/><circle cx="909.4" cy="494.8" r="8.6"/><circle cx="876.6" cy="513.0" r="8.6"/><circle cx="884.3" cy="509.8" r="8.6"/><circle cx="888.8" cy="523.3" r="8.6"/><circle cx="893.0" cy="511.1" r="8.6"/><circle cx="900.8" cy="505.5" r="8.6"/><circle cx="900.2" cy="517.8" r="8.6"/><circle cx="900.1" cy="519.9" r="8.6"/><circle cx="897.5" cy="513.9" r="8.6"/><circle cx="895.8" cy="543.3" r="8.6"/><circle cx="893.3" cy="527.3" r="8.6"/><circle cx="889.1" cy="538.3" r="8.6"/><circle cx="899.4" cy="494.5" r="8.6"/><circle cx="887.9" cy="536.2" r="8.6"/><circle cx="898.0" cy="533.3" r="8.6"/><circle cx="908.3" cy="533.7" r="8.6"/><circle cx="888.2" cy="515.5" r="8.6"/><circle cx="878.9" cy="527.6" r="8.6"/><circle cx="884.9" cy="508.8" r="8.6"/><circle cx="911.9" cy="518.9" r="8.6"/><circle cx="904.4" cy="532.4" r="8.6"/><circle cx="896.4" cy="515.3" r="8.6"/><circle cx="885.4" cy="504.4" r="8.6"/><circle cx="902.7" cy="532.8" r="8.6"/><circle cx="885.5" cy="504.4" r="8.6"/><circle cx="912.1" cy="506.7" r="8.6"/><circle cx="907.5" cy="490.9" r="8.6"/><circle cx="902.5" cy="505.2" r="8.6"/><circle cx="882.8" cy="523.6" r="8.6"/><circle cx="898.1" cy="493.2" r="8.6"/><circle cx="885.9" cy="521.1" r="8.6"/><circle cx="875.3" cy="516.2" r="8.6"/><circle cx="891.3" cy="500.7" r="8.6"/><circle cx="883.3" cy="511.9" r="8.6"/><circle cx="687.6" cy="532.0" r="8.6"/><circle cx="707.1" cy="537.5" r="8.6"/><circle cx="774.5" cy="545.7" r="8.6"/><circle cx="783.3" cy="545.7" r="8.6"/><circle cx="840.6" cy="513.7" r="8.6"/><circle cx="860.5" cy="453.5" r="8.6"/><circle cx="872.9" cy="461.8" r="8.6"/><circle cx="892.5" cy="447.4" r="8.6"/><circle cx="869.8" cy="484.5" r="8.6"/><circle cx="896.7" cy="474.1" r="8.6"/><circle cx="889.6" cy="446.3" r="8.6"/><circle cx="858.3" cy="454.2" r="8.6"/><circle cx="873.2" cy="460.0" r="8.6"/><circle cx="825.4" cy="543.2" r="8.6"/><circle cx="818.1" cy="544.3" r="8.6"/><circle cx="849.9" cy="529.9" r="8.6"/><circle cx="879.3" cy="481.3" r="8.6"/></g><g fill="#2BB0D8" fill-opacity="0.77" stroke="#2BB0D8" stroke-opacity="0.89" stroke-width="1.4"><circle cx="985.4" cy="480.2" r="8.6"/><circle cx="917.6" cy="532.9" r="8.6"/><circle cx="1001.4" cy="529.9" r="8.6"/><circle cx="1004.0" cy="498.0" r="8.6"/><circle cx="964.5" cy="389.6" r="8.6"/><circle cx="991.9" cy="399.2" r="8.6"/><circle cx="985.4" cy="446.0" r="8.6"/><circle cx="1011.7" cy="461.4" r="8.6"/><circle cx="988.5" cy="431.3" r="8.6"/><circle cx="926.0" cy="451.1" r="8.6"/><circle cx="1040.0" cy="503.1" r="8.6"/><circle cx="976.3" cy="495.2" r="8.6"/><circle cx="1004.3" cy="534.3" r="8.6"/><circle cx="1008.0" cy="513.0" r="8.6"/><circle cx="1009.1" cy="453.3" r="8.6"/><circle cx="1053.7" cy="488.6" r="8.6"/><circle cx="1058.8" cy="524.5" r="8.6"/><circle cx="930.4" cy="505.6" r="8.6"/><circle cx="989.2" cy="539.0" r="8.6"/><circle cx="972.9" cy="371.5" r="8.6"/><circle cx="957.8" cy="392.8" r="8.6"/><circle cx="1081.0" cy="537.4" r="8.6"/><circle cx="964.8" cy="519.8" r="8.6"/><circle cx="921.6" cy="525.7" r="8.6"/><circle cx="1021.0" cy="523.8" r="8.6"/><circle cx="951.1" cy="366.8" r="8.6"/><circle cx="974.4" cy="350.0" r="8.6"/><circle cx="923.3" cy="481.4" r="8.6"/><circle cx="927.3" cy="539.1" r="8.6"/><circle cx="1053.0" cy="530.5" r="8.6"/><circle cx="995.9" cy="411.9" r="8.6"/><circle cx="1008.9" cy="536.3" r="8.6"/><circle cx="1014.6" cy="536.3" r="8.6"/><circle cx="983.9" cy="381.7" r="8.6"/><circle cx="933.4" cy="529.1" r="8.6"/><circle cx="960.9" cy="426.1" r="8.6"/><circle cx="943.3" cy="545.9" r="8.6"/><circle cx="973.4" cy="393.9" r="8.6"/><circle cx="943.2" cy="462.9" r="8.6"/><circle cx="1011.4" cy="438.6" r="8.6"/><circle cx="1017.5" cy="543.2" r="8.6"/><circle cx="1053.6" cy="537.0" r="8.6"/><circle cx="1055.6" cy="539.3" r="8.6"/><circle cx="1023.1" cy="464.0" r="8.6"/><circle cx="1060.2" cy="506.0" r="8.6"/><circle cx="977.4" cy="500.2" r="8.6"/><circle cx="973.5" cy="472.0" r="8.6"/><circle cx="927.4" cy="504.4" r="8.6"/><circle cx="980.6" cy="539.2" r="8.6"/><circle cx="972.2" cy="462.5" r="8.6"/><circle cx="925.4" cy="477.6" r="8.6"/><circle cx="972.4" cy="534.0" r="8.6"/><circle cx="1045.6" cy="531.1" r="8.6"/><circle cx="998.7" cy="446.9" r="8.6"/><circle cx="921.1" cy="493.3" r="8.6"/><circle cx="937.3" cy="512.1" r="8.6"/><circle cx="1011.8" cy="448.3" r="8.6"/><circle cx="933.5" cy="508.9" r="8.6"/><circle cx="984.1" cy="446.7" r="8.6"/><circle cx="1027.9" cy="525.2" r="8.6"/><circle cx="1017.0" cy="546.6" r="8.6"/><circle cx="957.4" cy="380.2" r="8.6"/><circle cx="918.7" cy="504.6" r="8.6"/><circle cx="942.4" cy="540.5" r="8.6"/><circle cx="944.0" cy="441.8" r="8.6"/><circle cx="931.3" cy="496.9" r="8.6"/><circle cx="997.3" cy="407.5" r="8.6"/><circle cx="1014.3" cy="478.5" r="8.6"/><circle cx="952.9" cy="538.2" r="8.6"/><circle cx="1126.5" cy="546.1" r="8.6"/><circle cx="1036.6" cy="536.7" r="8.6"/><circle cx="992.2" cy="508.5" r="8.6"/><circle cx="1042.7" cy="492.7" r="8.6"/><circle cx="992.0" cy="537.4" r="8.6"/><circle cx="926.8" cy="490.5" r="8.6"/><circle cx="958.9" cy="507.3" r="8.6"/><circle cx="994.7" cy="523.6" r="8.6"/><circle cx="1086.6" cy="521.3" r="8.6"/><circle cx="1011.2" cy="545.6" r="8.6"/><circle cx="962.1" cy="501.1" r="8.6"/><circle cx="992.2" cy="416.7" r="8.6"/><circle cx="1012.1" cy="457.0" r="8.6"/><circle cx="971.0" cy="376.7" r="8.6"/><circle cx="989.7" cy="515.8" r="8.6"/><circle cx="1050.2" cy="530.3" r="8.6"/><circle cx="977.3" cy="390.3" r="8.6"/><circle cx="955.6" cy="525.6" r="8.6"/><circle cx="974.4" cy="468.2" r="8.6"/><circle cx="1060.9" cy="501.5" r="8.6"/><circle cx="1020.2" cy="485.1" r="8.6"/><circle cx="1007.9" cy="523.8" r="8.6"/><circle cx="1015.8" cy="546.6" r="8.6"/><circle cx="924.2" cy="523.4" r="8.6"/><circle cx="1060.4" cy="535.0" r="8.6"/><circle cx="923.8" cy="469.8" r="8.6"/><circle cx="974.5" cy="514.0" r="8.6"/><circle cx="987.0" cy="407.2" r="8.6"/><circle cx="963.5" cy="446.6" r="8.6"/><circle cx="1024.3" cy="474.0" r="8.6"/><circle cx="970.4" cy="455.3" r="8.6"/><circle cx="932.5" cy="526.4" r="8.6"/><circle cx="967.9" cy="540.3" r="8.6"/><circle cx="938.7" cy="486.7" r="8.6"/><circle cx="1006.2" cy="509.8" r="8.6"/><circle cx="927.1" cy="510.2" r="8.6"/><circle cx="960.9" cy="460.8" r="8.6"/><circle cx="1015.8" cy="471.3" r="8.6"/><circle cx="990.1" cy="485.4" r="8.6"/><circle cx="1006.7" cy="462.4" r="8.6"/><circle cx="1096.1" cy="523.5" r="8.6"/><circle cx="946.1" cy="422.4" r="8.6"/><circle cx="992.1" cy="445.9" r="8.6"/><circle cx="971.9" cy="507.9" r="8.6"/><circle cx="978.5" cy="485.8" r="8.6"/><circle cx="950.4" cy="432.3" r="8.6"/><circle cx="959.1" cy="397.6" r="8.6"/><circle cx="965.1" cy="427.5" r="8.6"/><circle cx="928.3" cy="544.7" r="8.6"/><circle cx="933.2" cy="519.8" r="8.6"/><circle cx="1046.3" cy="539.2" r="8.6"/><circle cx="936.6" cy="506.0" r="8.6"/><circle cx="944.3" cy="463.0" r="8.6"/><circle cx="980.8" cy="514.3" r="8.6"/><circle cx="992.8" cy="440.6" r="8.6"/><circle cx="920.6" cy="543.9" r="8.6"/><circle cx="985.7" cy="485.7" r="8.6"/><circle cx="974.9" cy="457.1" r="8.6"/><circle cx="923.5" cy="524.9" r="8.6"/><circle cx="1066.1" cy="516.5" r="8.6"/><circle cx="929.1" cy="544.4" r="8.6"/><circle cx="983.8" cy="374.0" r="8.6"/><circle cx="918.2" cy="523.6" r="8.6"/><circle cx="1034.3" cy="544.7" r="8.6"/><circle cx="978.8" cy="369.5" r="8.6"/><circle cx="918.3" cy="529.5" r="8.6"/><circle cx="1095.4" cy="543.4" r="8.6"/><circle cx="936.3" cy="434.1" r="8.6"/><circle cx="957.7" cy="421.7" r="8.6"/><circle cx="978.6" cy="516.0" r="8.6"/><circle cx="980.0" cy="425.2" r="8.6"/><circle cx="983.7" cy="481.2" r="8.6"/><circle cx="944.6" cy="544.9" r="8.6"/><circle cx="963.4" cy="502.6" r="8.6"/><circle cx="986.3" cy="519.7" r="8.6"/><circle cx="944.7" cy="484.7" r="8.6"/><circle cx="952.5" cy="527.8" r="8.6"/><circle cx="991.4" cy="525.8" r="8.6"/><circle cx="984.6" cy="396.8" r="8.6"/><circle cx="945.3" cy="420.9" r="8.6"/><circle cx="918.4" cy="537.1" r="8.6"/><circle cx="1036.9" cy="508.8" r="8.6"/><circle cx="1057.0" cy="525.0" r="8.6"/><circle cx="940.9" cy="480.5" r="8.6"/><circle cx="945.9" cy="470.6" r="8.6"/><circle cx="935.5" cy="498.2" r="8.6"/><circle cx="948.4" cy="505.2" r="8.6"/><circle cx="973.3" cy="510.1" r="8.6"/><circle cx="996.6" cy="536.9" r="8.6"/><circle cx="928.6" cy="489.5" r="8.6"/><circle cx="927.7" cy="525.6" r="8.6"/><circle cx="918.9" cy="522.2" r="8.6"/><circle cx="1002.2" cy="418.8" r="8.6"/><circle cx="918.2" cy="529.4" r="8.6"/><circle cx="993.9" cy="521.0" r="8.6"/><circle cx="1040.3" cy="544.1" r="8.6"/><circle cx="921.4" cy="493.1" r="8.6"/><circle cx="1028.2" cy="530.0" r="8.6"/><circle cx="1029.4" cy="520.1" r="8.6"/><circle cx="1039.8" cy="543.1" r="8.6"/><circle cx="961.6" cy="534.6" r="8.6"/><circle cx="977.2" cy="377.2" r="8.6"/><circle cx="950.5" cy="393.9" r="8.6"/><circle cx="936.9" cy="544.5" r="8.6"/><circle cx="988.0" cy="541.3" r="8.6"/><circle cx="989.4" cy="546.2" r="8.6"/><circle cx="1005.6" cy="529.8" r="8.6"/><circle cx="972.8" cy="458.5" r="8.6"/><circle cx="1006.9" cy="441.7" r="8.6"/><circle cx="1018.7" cy="519.4" r="8.6"/><circle cx="1008.2" cy="458.9" r="8.6"/><circle cx="1014.9" cy="463.7" r="8.6"/><circle cx="931.1" cy="473.0" r="8.6"/><circle cx="918.7" cy="497.6" r="8.6"/><circle cx="951.2" cy="494.8" r="8.6"/><circle cx="1037.4" cy="485.2" r="8.6"/><circle cx="926.1" cy="527.2" r="8.6"/><circle cx="1036.4" cy="529.6" r="8.6"/><circle cx="1015.8" cy="520.4" r="8.6"/><circle cx="957.6" cy="493.2" r="8.6"/><circle cx="943.1" cy="519.4" r="8.6"/><circle cx="928.0" cy="425.2" r="8.6"/><circle cx="971.8" cy="500.8" r="8.6"/><circle cx="1014.4" cy="541.1" r="8.6"/><circle cx="996.1" cy="428.3" r="8.6"/><circle cx="989.3" cy="461.3" r="8.6"/><circle cx="938.5" cy="443.7" r="8.6"/><circle cx="1027.2" cy="521.5" r="8.6"/><circle cx="924.5" cy="521.6" r="8.6"/><circle cx="923.1" cy="449.7" r="8.6"/><circle cx="973.9" cy="489.0" r="8.6"/><circle cx="1009.2" cy="499.9" r="8.6"/><circle cx="991.4" cy="503.8" r="8.6"/><circle cx="994.3" cy="506.8" r="8.6"/><circle cx="935.2" cy="408.7" r="8.6"/><circle cx="1022.1" cy="479.1" r="8.6"/><circle cx="986.7" cy="431.0" r="8.6"/><circle cx="924.9" cy="452.2" r="8.6"/><circle cx="941.9" cy="430.7" r="8.6"/><circle cx="927.7" cy="521.3" r="8.6"/><circle cx="989.2" cy="522.7" r="8.6"/><circle cx="1011.7" cy="507.8" r="8.6"/><circle cx="922.4" cy="472.3" r="8.6"/><circle cx="963.1" cy="354.8" r="8.6"/><circle cx="1075.9" cy="539.0" r="8.6"/><circle cx="982.0" cy="387.6" r="8.6"/><circle cx="1050.4" cy="530.5" r="8.6"/><circle cx="1026.7" cy="480.0" r="8.6"/><circle cx="1033.4" cy="487.9" r="8.6"/><circle cx="946.2" cy="474.1" r="8.6"/><circle cx="986.1" cy="494.6" r="8.6"/><circle cx="1099.3" cy="533.3" r="8.6"/><circle cx="919.5" cy="516.3" r="8.6"/><circle cx="929.2" cy="419.1" r="8.6"/><circle cx="1038.4" cy="545.4" r="8.6"/><circle cx="930.6" cy="486.5" r="8.6"/><circle cx="968.3" cy="383.2" r="8.6"/><circle cx="1000.9" cy="457.6" r="8.6"/><circle cx="942.0" cy="464.5" r="8.6"/><circle cx="951.4" cy="394.0" r="8.6"/><circle cx="931.9" cy="425.8" r="8.6"/><circle cx="956.9" cy="396.7" r="8.6"/><circle cx="940.1" cy="500.2" r="8.6"/><circle cx="988.7" cy="504.6" r="8.6"/><circle cx="971.3" cy="512.8" r="8.6"/><circle cx="1028.2" cy="541.5" r="8.6"/><circle cx="950.1" cy="480.1" r="8.6"/><circle cx="1027.5" cy="529.4" r="8.6"/><circle cx="1033.5" cy="492.7" r="8.6"/><circle cx="1037.8" cy="508.3" r="8.6"/><circle cx="1009.6" cy="492.2" r="8.6"/><circle cx="990.9" cy="515.8" r="8.6"/><circle cx="980.8" cy="429.9" r="8.6"/><circle cx="937.4" cy="396.4" r="8.6"/><circle cx="961.2" cy="387.1" r="8.6"/><circle cx="962.2" cy="361.8" r="8.6"/><circle cx="1086.9" cy="532.2" r="8.6"/><circle cx="934.8" cy="415.4" r="8.6"/><circle cx="948.8" cy="445.3" r="8.6"/><circle cx="979.6" cy="452.2" r="8.6"/><circle cx="918.6" cy="498.4" r="8.6"/><circle cx="1006.9" cy="464.8" r="8.6"/><circle cx="926.6" cy="542.5" r="8.6"/><circle cx="985.3" cy="480.2" r="8.6"/><circle cx="966.3" cy="501.1" r="8.6"/><circle cx="996.4" cy="430.7" r="8.6"/><circle cx="999.2" cy="516.7" r="8.6"/><circle cx="938.4" cy="414.0" r="8.6"/><circle cx="983.1" cy="405.8" r="8.6"/><circle cx="1050.4" cy="532.3" r="8.6"/><circle cx="1015.2" cy="487.0" r="8.6"/><circle cx="963.8" cy="370.3" r="8.6"/><circle cx="967.4" cy="402.0" r="8.6"/><circle cx="974.8" cy="484.5" r="8.6"/><circle cx="951.2" cy="376.7" r="8.6"/><circle cx="937.9" cy="534.4" r="8.6"/><circle cx="934.2" cy="443.9" r="8.6"/><circle cx="931.6" cy="477.5" r="8.6"/><circle cx="1045.6" cy="540.6" r="8.6"/><circle cx="964.3" cy="404.0" r="8.6"/><circle cx="986.5" cy="514.9" r="8.6"/><circle cx="985.3" cy="391.8" r="8.6"/><circle cx="1050.4" cy="519.7" r="8.6"/><circle cx="1090.9" cy="535.4" r="8.6"/><circle cx="1008.3" cy="498.3" r="8.6"/><circle cx="1074.3" cy="542.9" r="8.6"/><circle cx="964.1" cy="540.0" r="8.6"/><circle cx="1041.3" cy="501.8" r="8.6"/><circle cx="947.1" cy="363.9" r="8.6"/><circle cx="975.5" cy="432.5" r="8.6"/><circle cx="947.0" cy="478.3" r="8.6"/><circle cx="944.8" cy="508.2" r="8.6"/><circle cx="998.6" cy="408.3" r="8.6"/><circle cx="973.2" cy="457.3" r="8.6"/><circle cx="942.9" cy="504.1" r="8.6"/><circle cx="958.9" cy="512.6" r="8.6"/><circle cx="1008.4" cy="525.4" r="8.6"/><circle cx="958.0" cy="544.7" r="8.6"/><circle cx="953.0" cy="448.1" r="8.6"/><circle cx="1002.5" cy="451.2" r="8.6"/><circle cx="958.4" cy="515.8" r="8.6"/><circle cx="1039.1" cy="541.4" r="8.6"/><circle cx="921.6" cy="531.9" r="8.6"/><circle cx="1050.9" cy="487.8" r="8.6"/><circle cx="929.1" cy="483.7" r="8.6"/><circle cx="938.2" cy="444.6" r="8.6"/><circle cx="969.3" cy="492.9" r="8.6"/><circle cx="930.9" cy="528.7" r="8.6"/><circle cx="927.3" cy="476.4" r="8.6"/><circle cx="1004.5" cy="544.1" r="8.6"/><circle cx="947.7" cy="489.7" r="8.6"/><circle cx="919.0" cy="515.7" r="8.6"/><circle cx="1005.7" cy="450.9" r="8.6"/><circle cx="967.7" cy="418.9" r="8.6"/><circle cx="995.7" cy="467.1" r="8.6"/><circle cx="1048.1" cy="544.0" r="8.6"/><circle cx="962.2" cy="464.3" r="8.6"/><circle cx="982.1" cy="416.0" r="8.6"/><circle cx="1126.4" cy="546.6" r="8.6"/><circle cx="982.8" cy="504.3" r="8.6"/><circle cx="974.1" cy="517.3" r="8.6"/><circle cx="946.0" cy="407.5" r="8.6"/><circle cx="957.8" cy="383.2" r="8.6"/><circle cx="1013.8" cy="496.2" r="8.6"/><circle cx="938.1" cy="520.4" r="8.6"/><circle cx="921.3" cy="525.2" r="8.6"/><circle cx="954.8" cy="546.5" r="8.6"/><circle cx="1009.7" cy="478.5" r="8.6"/><circle cx="981.6" cy="540.1" r="8.6"/><circle cx="1044.5" cy="505.1" r="8.6"/><circle cx="981.3" cy="393.2" r="8.6"/><circle cx="921.2" cy="516.7" r="8.6"/><circle cx="1068.2" cy="524.5" r="8.6"/><circle cx="1040.8" cy="538.4" r="8.6"/><circle cx="956.3" cy="461.6" r="8.6"/><circle cx="992.3" cy="439.9" r="8.6"/><circle cx="1022.8" cy="535.1" r="8.6"/><circle cx="927.2" cy="538.3" r="8.6"/><circle cx="988.1" cy="485.4" r="8.6"/><circle cx="999.1" cy="538.1" r="8.6"/><circle cx="976.6" cy="409.8" r="8.6"/><circle cx="1091.7" cy="537.1" r="8.6"/><circle cx="923.2" cy="497.2" r="8.6"/><circle cx="920.9" cy="470.8" r="8.6"/><circle cx="990.2" cy="402.8" r="8.6"/><circle cx="941.0" cy="500.5" r="8.6"/><circle cx="1018.0" cy="471.4" r="8.6"/><circle cx="998.6" cy="516.6" r="8.6"/><circle cx="1053.1" cy="495.6" r="8.6"/><circle cx="1076.5" cy="532.4" r="8.6"/><circle cx="952.5" cy="387.5" r="8.6"/><circle cx="947.3" cy="542.6" r="8.6"/><circle cx="1052.8" cy="508.4" r="8.6"/><circle cx="967.8" cy="453.2" r="8.6"/><circle cx="924.1" cy="517.1" r="8.6"/><circle cx="971.0" cy="342.4" r="8.6"/><circle cx="974.0" cy="459.4" r="8.6"/><circle cx="928.8" cy="537.5" r="8.6"/><circle cx="941.1" cy="426.7" r="8.6"/><circle cx="938.6" cy="464.4" r="8.6"/><circle cx="1002.8" cy="487.4" r="8.6"/><circle cx="927.7" cy="515.3" r="8.6"/><circle cx="1069.1" cy="531.9" r="8.6"/><circle cx="949.9" cy="518.2" r="8.6"/><circle cx="987.2" cy="538.5" r="8.6"/><circle cx="934.0" cy="429.0" r="8.6"/><circle cx="933.2" cy="449.3" r="8.6"/><circle cx="1014.8" cy="540.7" r="8.6"/><circle cx="924.6" cy="449.3" r="8.6"/><circle cx="960.1" cy="431.0" r="8.6"/><circle cx="1080.1" cy="543.4" r="8.6"/><circle cx="966.7" cy="462.3" r="8.6"/><circle cx="1060.7" cy="537.6" r="8.6"/><circle cx="1028.6" cy="527.1" r="8.6"/><circle cx="950.1" cy="510.9" r="8.6"/><circle cx="969.2" cy="485.1" r="8.6"/><circle cx="921.7" cy="462.2" r="8.6"/><circle cx="1038.8" cy="497.3" r="8.6"/><circle cx="1036.3" cy="486.9" r="8.6"/><circle cx="962.0" cy="343.5" r="8.6"/><circle cx="954.2" cy="428.5" r="8.6"/><circle cx="1011.2" cy="495.3" r="8.6"/><circle cx="1025.8" cy="540.4" r="8.6"/><circle cx="920.3" cy="488.9" r="8.6"/><circle cx="981.3" cy="515.1" r="8.6"/><circle cx="1012.4" cy="470.1" r="8.6"/><circle cx="943.1" cy="373.0" r="8.6"/><circle cx="1008.1" cy="430.8" r="8.6"/><circle cx="969.8" cy="461.5" r="8.6"/><circle cx="1030.2" cy="542.3" r="8.6"/><circle cx="937.0" cy="459.2" r="8.6"/><circle cx="952.7" cy="372.3" r="8.6"/><circle cx="1005.4" cy="432.3" r="8.6"/><circle cx="917.8" cy="505.6" r="8.6"/><circle cx="983.8" cy="399.3" r="8.6"/><circle cx="1009.4" cy="473.7" r="8.6"/><circle cx="926.2" cy="490.9" r="8.6"/><circle cx="964.5" cy="487.4" r="8.6"/><circle cx="935.6" cy="414.9" r="8.6"/><circle cx="1003.3" cy="453.0" r="8.6"/><circle cx="994.9" cy="528.4" r="8.6"/><circle cx="996.1" cy="472.8" r="8.6"/><circle cx="1000.6" cy="523.4" r="8.6"/><circle cx="971.4" cy="495.0" r="8.6"/><circle cx="952.1" cy="545.0" r="8.6"/><circle cx="969.6" cy="541.7" r="8.6"/><circle cx="927.1" cy="437.4" r="8.6"/><circle cx="946.3" cy="393.7" r="8.6"/><circle cx="983.5" cy="419.0" r="8.6"/><circle cx="925.8" cy="533.5" r="8.6"/><circle cx="926.1" cy="437.1" r="8.6"/><circle cx="967.8" cy="481.9" r="8.6"/><circle cx="942.9" cy="387.1" r="8.6"/><circle cx="976.9" cy="515.9" r="8.6"/><circle cx="1004.2" cy="465.9" r="8.6"/><circle cx="955.2" cy="492.2" r="8.6"/><circle cx="958.9" cy="501.8" r="8.6"/><circle cx="922.5" cy="528.0" r="8.6"/><circle cx="930.9" cy="546.3" r="8.6"/><circle cx="1049.9" cy="498.9" r="8.6"/><circle cx="947.4" cy="447.8" r="8.6"/><circle cx="1018.9" cy="489.9" r="8.6"/><circle cx="926.3" cy="464.0" r="8.6"/><circle cx="942.5" cy="373.0" r="8.6"/><circle cx="1118.5" cy="534.0" r="8.6"/><circle cx="1023.4" cy="529.4" r="8.6"/><circle cx="924.5" cy="479.1" r="8.6"/><circle cx="953.8" cy="504.7" r="8.6"/><circle cx="1081.0" cy="544.6" r="8.6"/><circle cx="989.9" cy="536.3" r="8.6"/><circle cx="933.4" cy="446.5" r="8.6"/><circle cx="1019.2" cy="514.2" r="8.6"/><circle cx="1033.6" cy="482.4" r="8.6"/><circle cx="1021.0" cy="519.6" r="8.6"/><circle cx="1110.1" cy="528.5" r="8.6"/><circle cx="1092.5" cy="516.3" r="8.6"/><circle cx="1014.3" cy="480.6" r="8.6"/><circle cx="1097.3" cy="525.0" r="8.6"/><circle cx="1093.7" cy="544.9" r="8.6"/><circle cx="1021.2" cy="479.6" r="8.6"/><circle cx="1082.0" cy="538.9" r="8.6"/><circle cx="1012.6" cy="493.2" r="8.6"/><circle cx="1022.0" cy="482.5" r="8.6"/><circle cx="1050.8" cy="496.4" r="8.6"/><circle cx="1022.6" cy="506.3" r="8.6"/><circle cx="1023.0" cy="480.3" r="8.6"/><circle cx="1076.0" cy="539.4" r="8.6"/><circle cx="1122.4" cy="530.6" r="8.6"/><circle cx="1050.3" cy="492.8" r="8.6"/><circle cx="1055.3" cy="493.3" r="8.6"/><circle cx="1045.8" cy="480.6" r="8.6"/><circle cx="1018.8" cy="479.6" r="8.6"/><circle cx="1045.1" cy="520.3" r="8.6"/><circle cx="1084.8" cy="545.5" r="8.6"/><circle cx="1037.3" cy="540.5" r="8.6"/><circle cx="1096.7" cy="540.9" r="8.6"/><circle cx="1068.9" cy="535.5" r="8.6"/><circle cx="1038.7" cy="479.4" r="8.6"/><circle cx="1070.0" cy="523.2" r="8.6"/><circle cx="1092.6" cy="522.0" r="8.6"/><circle cx="1041.9" cy="542.4" r="8.6"/><circle cx="1065.3" cy="540.6" r="8.6"/><circle cx="1013.9" cy="451.7" r="8.6"/><circle cx="1083.7" cy="534.0" r="8.6"/><circle cx="1027.3" cy="485.2" r="8.6"/><circle cx="1072.9" cy="541.3" r="8.6"/><circle cx="1124.6" cy="525.1" r="8.6"/><circle cx="1118.3" cy="526.0" r="8.6"/><circle cx="1072.7" cy="536.8" r="8.6"/><circle cx="1086.6" cy="542.6" r="8.6"/><circle cx="1082.6" cy="544.9" r="8.6"/><circle cx="1013.1" cy="473.5" r="8.6"/><circle cx="1051.0" cy="504.1" r="8.6"/><circle cx="1101.3" cy="522.8" r="8.6"/><circle cx="1082.4" cy="518.7" r="8.6"/><circle cx="1087.4" cy="517.2" r="8.6"/><circle cx="1114.8" cy="545.8" r="8.6"/><circle cx="1042.4" cy="522.0" r="8.6"/><circle cx="1040.6" cy="536.1" r="8.6"/><circle cx="1112.1" cy="546.2" r="8.6"/><circle cx="1032.5" cy="489.0" r="8.6"/><circle cx="1037.3" cy="530.1" r="8.6"/><circle cx="1122.9" cy="528.6" r="8.6"/><circle cx="1063.2" cy="541.6" r="8.6"/><circle cx="1042.5" cy="478.5" r="8.6"/><circle cx="1102.6" cy="545.1" r="8.6"/><circle cx="1092.9" cy="536.2" r="8.6"/><circle cx="1094.4" cy="538.7" r="8.6"/><circle cx="1026.5" cy="545.5" r="8.6"/><circle cx="1045.6" cy="489.5" r="8.6"/><circle cx="1114.1" cy="529.3" r="8.6"/><circle cx="1097.6" cy="541.7" r="8.6"/><circle cx="1052.3" cy="492.2" r="8.6"/><circle cx="1125.1" cy="537.9" r="8.6"/><circle cx="1100.9" cy="519.6" r="8.6"/><circle cx="1126.3" cy="542.0" r="8.6"/><circle cx="1086.8" cy="535.2" r="8.6"/><circle cx="1065.1" cy="528.5" r="8.6"/><circle cx="1043.6" cy="545.8" r="8.6"/><circle cx="1099.8" cy="526.9" r="8.6"/><circle cx="1108.3" cy="543.1" r="8.6"/><circle cx="1038.8" cy="505.7" r="8.6"/><circle cx="1119.4" cy="535.6" r="8.6"/><circle cx="1034.7" cy="503.9" r="8.6"/><circle cx="1121.8" cy="525.6" r="8.6"/><circle cx="1115.0" cy="536.8" r="8.6"/><circle cx="1041.8" cy="486.4" r="8.6"/><circle cx="1102.3" cy="522.4" r="8.6"/><circle cx="1056.6" cy="532.8" r="8.6"/><circle cx="1039.2" cy="484.8" r="8.6"/><circle cx="1117.4" cy="538.1" r="8.6"/><circle cx="1112.2" cy="537.3" r="8.6"/><circle cx="1063.1" cy="522.4" r="8.6"/><circle cx="1037.0" cy="529.4" r="8.6"/><circle cx="1042.3" cy="530.8" r="8.6"/><circle cx="1070.9" cy="543.7" r="8.6"/><circle cx="1101.4" cy="542.4" r="8.6"/><circle cx="1062.7" cy="518.4" r="8.6"/><circle cx="1027.4" cy="515.6" r="8.6"/><circle cx="1076.4" cy="528.2" r="8.6"/><circle cx="1114.3" cy="526.4" r="8.6"/><circle cx="1025.5" cy="477.3" r="8.6"/><circle cx="1074.8" cy="523.1" r="8.6"/><circle cx="1030.0" cy="511.5" r="8.6"/><circle cx="1092.1" cy="522.7" r="8.6"/><circle cx="1104.3" cy="541.3" r="8.6"/><circle cx="1107.4" cy="531.6" r="8.6"/><circle cx="1088.5" cy="520.1" r="8.6"/><circle cx="1058.2" cy="498.7" r="8.6"/><circle cx="1113.0" cy="525.5" r="8.6"/><circle cx="1055.3" cy="518.4" r="8.6"/><circle cx="1031.5" cy="488.4" r="8.6"/><circle cx="1114.1" cy="543.1" r="8.6"/><circle cx="1097.3" cy="526.7" r="8.6"/><circle cx="1015.8" cy="455.5" r="8.6"/><circle cx="1066.7" cy="537.2" r="8.6"/><circle cx="1015.0" cy="469.0" r="8.6"/><circle cx="1050.4" cy="516.0" r="8.6"/><circle cx="1034.0" cy="502.5" r="8.6"/><circle cx="1057.3" cy="504.0" r="8.6"/><circle cx="1088.3" cy="524.5" r="8.6"/><circle cx="1040.5" cy="543.2" r="8.6"/><circle cx="1112.8" cy="521.8" r="8.6"/><circle cx="1085.6" cy="516.9" r="8.6"/><circle cx="1092.9" cy="529.0" r="8.6"/><circle cx="1059.8" cy="530.5" r="8.6"/><circle cx="1067.9" cy="539.3" r="8.6"/><circle cx="1060.8" cy="523.5" r="8.6"/><circle cx="1015.2" cy="510.2" r="8.6"/><circle cx="1044.3" cy="505.2" r="8.6"/><circle cx="1105.0" cy="530.0" r="8.6"/><circle cx="959.9" cy="134.7" r="8.6"/><circle cx="959.9" cy="145.2" r="8.6"/><circle cx="1051.5" cy="139.4" r="8.6"/><circle cx="1017.7" cy="158.9" r="8.6"/><circle cx="959.2" cy="223.7" r="8.6"/><circle cx="992.2" cy="223.7" r="8.6"/><circle cx="984.4" cy="245.3" r="8.6"/><circle cx="1013.3" cy="241.7" r="8.6"/><circle cx="1018.4" cy="247.9" r="8.6"/><circle cx="1068.1" cy="253.6" r="8.6"/><circle cx="1047.8" cy="272.7" r="8.6"/><circle cx="955.2" cy="298.3" r="8.6"/><circle cx="959.2" cy="310.2" r="8.6"/><circle cx="954.0" cy="329.6" r="8.6"/><circle cx="1017.2" cy="295.8" r="8.6"/><circle cx="1018.4" cy="327.8" r="8.6"/><circle cx="1045.8" cy="358.4" r="8.6"/><circle cx="1075.0" cy="379.0" r="8.6"/><circle cx="1069.1" cy="387.6" r="8.6"/><circle cx="1027.5" cy="425.1" r="8.6"/><circle cx="1108.3" cy="442.7" r="8.6"/><circle cx="1149.9" cy="503.2" r="8.6"/><circle cx="1149.9" cy="511.9" r="8.6"/><circle cx="1148.7" cy="528.1" r="8.6"/><circle cx="1151.2" cy="534.6" r="8.6"/><circle cx="1152.4" cy="522.7" r="8.6"/><circle cx="977.3" cy="333.6" r="8.6"/><circle cx="983.4" cy="329.3" r="8.6"/><circle cx="989.5" cy="342.6" r="8.6"/><circle cx="967.5" cy="349.8" r="8.6"/><circle cx="994.4" cy="371.4" r="8.6"/><circle cx="947.9" cy="362.4" r="8.6"/><circle cx="940.5" cy="364.2" r="8.6"/><circle cx="962.6" cy="382.2" r="8.6"/><circle cx="1060.5" cy="414.6" r="8.6"/><circle cx="1065.4" cy="432.6" r="8.6"/><circle cx="1053.2" cy="421.8" r="8.6"/><circle cx="1075.2" cy="418.2" r="8.6"/><circle cx="1059.3" cy="454.2" r="8.6"/><circle cx="1033.6" cy="447.0" r="8.6"/><circle cx="1043.4" cy="465.1" r="8.6"/><circle cx="1006.7" cy="407.4" r="8.6"/><circle cx="1001.8" cy="393.0" r="8.6"/><circle cx="994.4" cy="385.8" r="8.6"/><circle cx="928.3" cy="407.4" r="8.6"/><circle cx="925.8" cy="421.8" r="8.6"/><circle cx="1119.3" cy="513.7" r="8.6"/><circle cx="1124.2" cy="519.1" r="8.6"/><circle cx="1109.5" cy="511.2" r="8.6"/><circle cx="1097.3" cy="510.1" r="8.6"/><circle cx="1085.0" cy="506.5" r="8.6"/><circle cx="1075.2" cy="502.9" r="8.6"/><circle cx="920.9" cy="465.1" r="8.6"/><circle cx="919.7" cy="479.5" r="8.6"/></g><g fill="#F2C858" fill-opacity="0.77" stroke="#F2C858" stroke-opacity="0.89" stroke-width="1.4"><circle cx="920.0" cy="511.8" r="8.6"/><circle cx="939.9" cy="522.7" r="8.6"/><circle cx="934.2" cy="481.1" r="8.6"/><circle cx="961.4" cy="546.2" r="8.6"/><circle cx="983.0" cy="512.2" r="8.6"/><circle cx="921.6" cy="497.3" r="8.6"/><circle cx="950.0" cy="486.4" r="8.6"/><circle cx="963.3" cy="520.8" r="8.6"/><circle cx="922.1" cy="535.1" r="8.6"/><circle cx="917.8" cy="533.6" r="8.6"/><circle cx="928.2" cy="493.2" r="8.6"/><circle cx="953.6" cy="481.2" r="8.6"/><circle cx="936.3" cy="495.0" r="8.6"/><circle cx="948.4" cy="540.5" r="8.6"/><circle cx="917.0" cy="494.5" r="8.6"/><circle cx="939.0" cy="482.8" r="8.6"/><circle cx="963.2" cy="491.1" r="8.6"/><circle cx="938.5" cy="504.2" r="8.6"/><circle cx="957.2" cy="502.3" r="8.6"/><circle cx="968.3" cy="516.9" r="8.6"/><circle cx="942.2" cy="546.6" r="8.6"/><circle cx="952.1" cy="492.1" r="8.6"/><circle cx="963.6" cy="543.0" r="8.6"/><circle cx="961.7" cy="515.6" r="8.6"/><circle cx="971.8" cy="498.7" r="8.6"/><circle cx="945.0" cy="480.3" r="8.6"/><circle cx="941.0" cy="517.6" r="8.6"/><circle cx="932.8" cy="480.8" r="8.6"/><circle cx="994.7" cy="532.6" r="8.6"/><circle cx="942.1" cy="490.9" r="8.6"/><circle cx="952.8" cy="521.0" r="8.6"/><circle cx="989.7" cy="520.5" r="8.6"/><circle cx="949.6" cy="506.0" r="8.6"/><circle cx="928.7" cy="536.5" r="8.6"/><circle cx="946.8" cy="495.9" r="8.6"/><circle cx="983.2" cy="506.3" r="8.6"/><circle cx="969.6" cy="538.0" r="8.6"/><circle cx="949.8" cy="514.3" r="8.6"/><circle cx="967.9" cy="515.3" r="8.6"/><circle cx="922.1" cy="497.2" r="8.6"/><circle cx="924.3" cy="494.4" r="8.6"/><circle cx="992.8" cy="526.8" r="8.6"/><circle cx="921.7" cy="491.7" r="8.6"/><circle cx="931.1" cy="540.8" r="8.6"/><circle cx="924.6" cy="505.3" r="8.6"/><circle cx="940.0" cy="519.4" r="8.6"/><circle cx="925.3" cy="535.8" r="8.6"/><circle cx="954.3" cy="544.2" r="8.6"/><circle cx="944.2" cy="526.7" r="8.6"/><circle cx="966.8" cy="491.0" r="8.6"/><circle cx="938.5" cy="490.6" r="8.6"/><circle cx="941.2" cy="480.3" r="8.6"/><circle cx="957.1" cy="523.9" r="8.6"/><circle cx="916.2" cy="523.2" r="8.6"/><circle cx="957.5" cy="536.5" r="8.6"/><circle cx="969.4" cy="495.7" r="8.6"/><circle cx="929.8" cy="514.2" r="8.6"/><circle cx="917.8" cy="536.0" r="8.6"/><circle cx="933.8" cy="531.7" r="8.6"/><circle cx="978.5" cy="523.6" r="8.6"/><circle cx="981.5" cy="509.0" r="8.6"/><circle cx="948.3" cy="544.5" r="8.6"/><circle cx="946.0" cy="507.2" r="8.6"/><circle cx="944.6" cy="515.9" r="8.6"/><circle cx="973.3" cy="513.3" r="8.6"/><circle cx="929.9" cy="532.0" r="8.6"/><circle cx="965.1" cy="528.5" r="8.6"/><circle cx="959.6" cy="517.1" r="8.6"/><circle cx="983.6" cy="546.6" r="8.6"/><circle cx="963.3" cy="528.6" r="8.6"/><circle cx="928.6" cy="518.6" r="8.6"/><circle cx="948.6" cy="516.9" r="8.6"/><circle cx="947.8" cy="530.7" r="8.6"/><circle cx="916.0" cy="545.6" r="8.6"/><circle cx="927.2" cy="516.7" r="8.6"/><circle cx="919.0" cy="529.3" r="8.6"/><circle cx="929.9" cy="513.6" r="8.6"/><circle cx="954.5" cy="527.3" r="8.6"/><circle cx="922.1" cy="544.9" r="8.6"/><circle cx="941.9" cy="527.2" r="8.6"/><circle cx="920.7" cy="512.4" r="8.6"/><circle cx="965.1" cy="511.7" r="8.6"/><circle cx="948.1" cy="521.5" r="8.6"/><circle cx="949.0" cy="545.9" r="8.6"/><circle cx="960.7" cy="519.4" r="8.6"/><circle cx="941.2" cy="485.6" r="8.6"/><circle cx="919.0" cy="500.1" r="8.6"/><circle cx="939.0" cy="535.3" r="8.6"/><circle cx="948.8" cy="509.2" r="8.6"/><circle cx="936.6" cy="478.8" r="8.6"/><circle cx="945.7" cy="525.6" r="8.6"/><circle cx="921.5" cy="540.5" r="8.6"/><circle cx="944.5" cy="542.9" r="8.6"/><circle cx="995.2" cy="544.4" r="8.6"/><circle cx="959.8" cy="502.8" r="8.6"/><circle cx="929.1" cy="540.6" r="8.6"/><circle cx="946.9" cy="502.5" r="8.6"/><circle cx="953.3" cy="500.4" r="8.6"/><circle cx="945.7" cy="510.9" r="8.6"/><circle cx="916.8" cy="543.1" r="8.6"/><circle cx="976.5" cy="510.5" r="8.6"/><circle cx="951.8" cy="513.4" r="8.6"/><circle cx="942.6" cy="519.1" r="8.6"/><circle cx="979.5" cy="517.6" r="8.6"/><circle cx="951.7" cy="530.6" r="8.6"/><circle cx="966.3" cy="508.7" r="8.6"/><circle cx="958.2" cy="491.0" r="8.6"/><circle cx="951.8" cy="481.3" r="8.6"/><circle cx="924.1" cy="488.8" r="8.6"/><circle cx="962.1" cy="502.9" r="8.6"/><circle cx="954.9" cy="542.0" r="8.6"/><circle cx="951.6" cy="508.2" r="8.6"/><circle cx="915.9" cy="504.9" r="8.6"/><circle cx="930.1" cy="483.0" r="8.6"/><circle cx="959.0" cy="522.3" r="8.6"/><circle cx="920.8" cy="528.3" r="8.6"/><circle cx="923.7" cy="534.9" r="8.6"/><circle cx="920.3" cy="538.6" r="8.6"/><circle cx="916.1" cy="493.8" r="8.6"/><circle cx="925.8" cy="543.9" r="8.6"/><circle cx="939.7" cy="481.6" r="8.6"/><circle cx="966.2" cy="507.1" r="8.6"/><circle cx="956.1" cy="535.6" r="8.6"/><circle cx="970.3" cy="546.0" r="8.6"/><circle cx="920.4" cy="514.4" r="8.6"/><circle cx="939.5" cy="534.1" r="8.6"/><circle cx="958.3" cy="507.7" r="8.6"/><circle cx="924.9" cy="526.9" r="8.6"/><circle cx="917.1" cy="496.4" r="8.6"/><circle cx="924.7" cy="492.4" r="8.6"/><circle cx="950.6" cy="511.0" r="8.6"/><circle cx="989.3" cy="526.0" r="8.6"/><circle cx="991.7" cy="527.0" r="8.6"/><circle cx="954.4" cy="527.6" r="8.6"/><circle cx="925.2" cy="522.7" r="8.6"/><circle cx="956.3" cy="485.7" r="8.6"/><circle cx="970.0" cy="542.0" r="8.6"/><circle cx="941.6" cy="502.1" r="8.6"/><circle cx="954.1" cy="490.5" r="8.6"/><circle cx="981.7" cy="544.8" r="8.6"/><circle cx="926.6" cy="533.4" r="8.6"/><circle cx="934.7" cy="490.9" r="8.6"/><circle cx="952.8" cy="545.6" r="8.6"/><circle cx="919.6" cy="524.5" r="8.6"/><circle cx="980.2" cy="510.6" r="8.6"/><circle cx="922.3" cy="486.3" r="8.6"/><circle cx="950.5" cy="546.5" r="8.6"/><circle cx="921.7" cy="512.2" r="8.6"/><circle cx="920.6" cy="542.8" r="8.6"/><circle cx="932.2" cy="521.7" r="8.6"/><circle cx="953.0" cy="531.0" r="8.6"/><circle cx="944.0" cy="532.4" r="8.6"/><circle cx="947.2" cy="511.1" r="8.6"/><circle cx="920.5" cy="509.8" r="8.6"/><circle cx="922.6" cy="527.4" r="8.6"/><circle cx="935.4" cy="522.2" r="8.6"/><circle cx="920.4" cy="499.3" r="8.6"/><circle cx="932.2" cy="518.2" r="8.6"/><circle cx="939.2" cy="540.4" r="8.6"/><circle cx="919.9" cy="542.2" r="8.6"/><circle cx="975.2" cy="515.6" r="8.6"/><circle cx="915.9" cy="492.5" r="8.6"/><circle cx="941.2" cy="538.2" r="8.6"/><circle cx="931.9" cy="518.6" r="8.6"/><circle cx="939.5" cy="494.0" r="8.6"/><circle cx="972.7" cy="517.6" r="8.6"/><circle cx="917.2" cy="515.8" r="8.6"/><circle cx="957.0" cy="486.6" r="8.6"/><circle cx="918.0" cy="491.0" r="8.6"/><circle cx="951.1" cy="541.0" r="8.6"/><circle cx="922.7" cy="498.5" r="8.6"/><circle cx="930.6" cy="507.1" r="8.6"/><circle cx="918.8" cy="536.6" r="8.6"/><circle cx="925.5" cy="543.0" r="8.6"/><circle cx="961.5" cy="533.9" r="8.6"/><circle cx="964.7" cy="529.1" r="8.6"/><circle cx="936.5" cy="491.5" r="8.6"/><circle cx="920.4" cy="544.4" r="8.6"/><circle cx="960.4" cy="509.3" r="8.6"/><circle cx="920.1" cy="533.7" r="8.6"/><circle cx="928.2" cy="515.4" r="8.6"/><circle cx="934.4" cy="509.9" r="8.6"/><circle cx="934.1" cy="544.7" r="8.6"/><circle cx="942.2" cy="527.6" r="8.6"/><circle cx="936.8" cy="544.0" r="8.6"/><circle cx="960.1" cy="503.5" r="8.6"/><circle cx="916.0" cy="544.3" r="8.6"/><circle cx="933.4" cy="500.1" r="8.6"/><circle cx="918.2" cy="494.7" r="8.6"/><circle cx="926.6" cy="494.7" r="8.6"/><circle cx="925.2" cy="518.7" r="8.6"/><circle cx="936.3" cy="484.3" r="8.6"/><circle cx="968.6" cy="516.7" r="8.6"/><circle cx="966.6" cy="522.9" r="8.6"/><circle cx="938.0" cy="476.2" r="8.6"/><circle cx="923.9" cy="522.7" r="8.6"/><circle cx="975.7" cy="508.2" r="8.6"/><circle cx="958.6" cy="494.8" r="8.6"/><circle cx="928.1" cy="519.5" r="8.6"/><circle cx="964.3" cy="524.1" r="8.6"/><circle cx="931.8" cy="520.3" r="8.6"/><circle cx="953.1" cy="542.1" r="8.6"/><circle cx="915.7" cy="503.0" r="8.6"/><circle cx="945.0" cy="514.5" r="8.6"/><circle cx="977.9" cy="507.4" r="8.6"/><circle cx="935.7" cy="501.2" r="8.6"/><circle cx="917.9" cy="515.3" r="8.6"/><circle cx="950.0" cy="517.7" r="8.6"/><circle cx="940.3" cy="532.1" r="8.6"/><circle cx="915.7" cy="528.6" r="8.6"/><circle cx="932.8" cy="510.6" r="8.6"/><circle cx="954.6" cy="494.1" r="8.6"/><circle cx="947.8" cy="483.8" r="8.6"/><circle cx="922.0" cy="514.1" r="8.6"/><circle cx="942.2" cy="490.3" r="8.6"/><circle cx="935.5" cy="545.9" r="8.6"/><circle cx="943.2" cy="528.4" r="8.6"/><circle cx="924.4" cy="513.7" r="8.6"/><circle cx="958.2" cy="483.0" r="8.6"/><circle cx="921.4" cy="541.8" r="8.6"/><circle cx="962.0" cy="514.7" r="8.6"/><circle cx="956.6" cy="499.9" r="8.6"/><circle cx="958.8" cy="482.2" r="8.6"/><circle cx="980.0" cy="538.9" r="8.6"/><circle cx="932.1" cy="512.7" r="8.6"/><circle cx="959.9" cy="516.8" r="8.6"/><circle cx="930.7" cy="544.3" r="8.6"/><circle cx="919.1" cy="495.1" r="8.6"/><circle cx="942.5" cy="515.9" r="8.6"/><circle cx="969.5" cy="518.1" r="8.6"/><circle cx="929.9" cy="486.7" r="8.6"/><circle cx="917.2" cy="510.8" r="8.6"/><circle cx="940.2" cy="526.5" r="8.6"/><circle cx="964.1" cy="490.2" r="8.6"/><circle cx="964.5" cy="532.9" r="8.6"/><circle cx="961.1" cy="511.2" r="8.6"/><circle cx="924.5" cy="540.8" r="8.6"/><circle cx="953.7" cy="500.2" r="8.6"/><circle cx="995.2" cy="536.2" r="8.6"/><circle cx="944.8" cy="546.2" r="8.6"/><circle cx="948.6" cy="506.0" r="8.6"/><circle cx="977.5" cy="500.0" r="8.6"/><circle cx="915.5" cy="503.8" r="8.6"/><circle cx="974.9" cy="499.8" r="8.6"/><circle cx="931.8" cy="532.5" r="8.6"/><circle cx="927.6" cy="521.7" r="8.6"/><circle cx="925.7" cy="483.2" r="8.6"/><circle cx="961.4" cy="511.3" r="8.6"/><circle cx="922.8" cy="510.9" r="8.6"/><circle cx="957.7" cy="523.7" r="8.6"/><circle cx="938.5" cy="478.0" r="8.6"/><circle cx="935.7" cy="497.4" r="8.6"/><circle cx="946.4" cy="528.2" r="8.6"/><circle cx="937.6" cy="539.8" r="8.6"/><circle cx="952.3" cy="520.5" r="8.6"/><circle cx="941.9" cy="513.1" r="8.6"/><circle cx="964.1" cy="519.5" r="8.6"/><circle cx="924.2" cy="502.6" r="8.6"/><circle cx="951.9" cy="537.4" r="8.6"/><circle cx="950.6" cy="542.0" r="8.6"/><circle cx="1010.6" cy="34.3" r="8.6"/><circle cx="1022.3" cy="163.6" r="8.6"/><circle cx="956.7" cy="274.1" r="8.6"/><circle cx="957.9" cy="278.8" r="8.6"/><circle cx="1028.9" cy="372.1" r="8.6"/><circle cx="948.9" cy="387.6" r="8.6"/><circle cx="982.4" cy="416.1" r="8.6"/><circle cx="1014.5" cy="443.1" r="8.6"/><circle cx="944.5" cy="430.8" r="8.6"/><circle cx="944.5" cy="451.4" r="8.6"/><circle cx="975.6" cy="439.1" r="8.6"/><circle cx="971.4" cy="451.4" r="8.6"/><circle cx="994.2" cy="449.2" r="8.6"/><circle cx="1006.7" cy="457.5" r="8.6"/><circle cx="998.3" cy="503.2" r="8.6"/><circle cx="1005.4" cy="542.5" r="8.6"/><circle cx="1015.0" cy="525.9" r="8.6"/><circle cx="1041.9" cy="524.8" r="8.6"/><circle cx="1052.2" cy="525.9" r="8.6"/><circle cx="1062.5" cy="536.4" r="8.6"/><circle cx="1075.0" cy="542.5" r="8.6"/><circle cx="1116.6" cy="525.9" r="8.6"/><circle cx="1116.6" cy="538.5" r="8.6"/><circle cx="1033.6" cy="544.3" r="8.6"/><circle cx="1001.8" cy="517.3" r="8.6"/><circle cx="1009.1" cy="490.3" r="8.6"/></g><circle cx="979.2" cy="391.6" r="9.3" fill="#8E4FA8" fill-opacity="0.85"/><line x1="644.8" y1="546.8" x2="1182.0" y2="546.8" stroke="#555" stroke-width="2" stroke-dasharray="9 7"/><rect x="644.8" y="10.0" width="537.2" height="567.0" fill="none" stroke="#7d7d7d" stroke-width="1.9"/><line x1="638.3" y1="551.5" x2="644.8" y2="551.5" stroke="#3a3a3a" stroke-width="1.9"/><text x="633.0" y="559.8" font-size="20" text-anchor="end" fill="#4d4d4d">0</text><line x1="638.3" y1="371.4" x2="644.8" y2="371.4" stroke="#3a3a3a" stroke-width="1.9"/><text x="633.0" y="379.7" font-size="20" text-anchor="end" fill="#4d4d4d">50</text><line x1="638.3" y1="191.3" x2="644.8" y2="191.3" stroke="#3a3a3a" stroke-width="1.9"/><text x="633.0" y="199.6" font-size="20" text-anchor="end" fill="#4d4d4d">100</text><line x1="638.3" y1="11.2" x2="644.8" y2="11.2" stroke="#3a3a3a" stroke-width="1.9"/><text x="633.0" y="19.5" font-size="20" text-anchor="end" fill="#4d4d4d">150</text><line x1="668.7" y1="577.0" x2="668.7" y2="583.5" stroke="#3a3a3a" stroke-width="1.9"/><text x="668.7" y="603.5" font-size="20" text-anchor="middle" fill="#4d4d4d">-10</text><line x1="791.2" y1="577.0" x2="791.2" y2="583.5" stroke="#3a3a3a" stroke-width="1.9"/><text x="791.2" y="603.5" font-size="20" text-anchor="middle" fill="#4d4d4d">-5</text><line x1="913.6" y1="577.0" x2="913.6" y2="583.5" stroke="#3a3a3a" stroke-width="1.9"/><text x="913.6" y="603.5" font-size="20" text-anchor="middle" fill="#4d4d4d">0</text><line x1="1036.0" y1="577.0" x2="1036.0" y2="583.5" stroke="#3a3a3a" stroke-width="1.9"/><text x="1036.0" y="603.5" font-size="20" text-anchor="middle" fill="#4d4d4d">5</text><line x1="1158.5" y1="577.0" x2="1158.5" y2="583.5" stroke="#3a3a3a" stroke-width="1.9"/><text x="1158.5" y="603.5" font-size="20" text-anchor="middle" fill="#4d4d4d">10</text><text x="1050.8" y="42.3" font-size="29" textLength="92.0" lengthAdjust="spacingAndGlyphs">SFRP1</text><text x="1056.6" y="188.0" font-size="29" textLength="101.0" lengthAdjust="spacingAndGlyphs">CRMP1</text><text x="828.3" y="255.4" font-size="29" textLength="103.0" lengthAdjust="spacingAndGlyphs">CXADR</text><text x="828.3" y="308.7" font-size="29" textLength="95.0" lengthAdjust="spacingAndGlyphs">RAB3B</text><text x="1068.4" y="334.9" font-size="29" textLength="58.0" lengthAdjust="spacingAndGlyphs">TNC</text><text x="816.5" y="383.0" font-size="29" textLength="93.0" lengthAdjust="spacingAndGlyphs">FGFR1</text><text x="847.0" y="421.0" font-size="29" textLength="66.7" lengthAdjust="spacingAndGlyphs">TJP3</text><text x="1037.0" y="411.3" font-size="29" textLength="80.3" lengthAdjust="spacingAndGlyphs">HEPH</text><line x1="1011.8" y1="35.2" x2="1039.0" y2="35.2" stroke="#222" stroke-width="1.8"/><line x1="1025.3" y1="164.5" x2="1050.8" y2="176.3" stroke="#222" stroke-width="1.8"/><line x1="933.2" y1="266.4" x2="954.8" y2="274.2" stroke="#222" stroke-width="1.8"/><line x1="933.2" y1="289.0" x2="954.8" y2="281.2" stroke="#222" stroke-width="1.8"/><line x1="1031.2" y1="370.2" x2="1068.4" y2="340.8" stroke="#222" stroke-width="1.8"/><line x1="917.6" y1="387.0" x2="949.7" y2="389.0" stroke="#222" stroke-width="1.8"/><line x1="925.4" y1="413.2" x2="984.2" y2="416.0" stroke="#222" stroke-width="1.8"/><line x1="1030.4" y1="411.3" x2="1014.7" y2="444.6" stroke="#222" stroke-width="1.8"/><text x="656.3" y="54.8" font-size="33" textLength="144.9" lengthAdjust="spacingAndGlyphs">KBTBD4</text><text x="802.8" y="43.1" font-size="21" textLength="96.4" lengthAdjust="spacingAndGlyphs">R313PRR</text><text x="819.5" y="632.4" font-size="24.5" fill="#333" textLength="186.5" lengthAdjust="spacingAndGlyphs">log2 fold change</text><text x="0.0" y="0.0" font-size="24" text-anchor="middle" fill="#333" textLength="273.0" lengthAdjust="spacingAndGlyphs" transform="translate(587.3 292.8) rotate(-90)">-log10(adjusted p-value)</text><text x="528.5" y="40.1" font-size="54.5" font-weight="bold" textLength="37.4" lengthAdjust="spacingAndGlyphs">A</text><rect x="1393.6" y="8.6" width="549.0" height="566.8" fill="#fdfdfd"/><line x1="1393.6" y1="498.4" x2="1942.6" y2="498.4" stroke="#f3f3f6" stroke-width="0.8"/><line x1="1393.6" y1="394.8" x2="1942.6" y2="394.8" stroke="#f3f3f6" stroke-width="0.8"/><line x1="1393.6" y1="291.2" x2="1942.6" y2="291.2" stroke="#f3f3f6" stroke-width="0.8"/><line x1="1393.6" y1="187.6" x2="1942.6" y2="187.6" stroke="#f3f3f6" stroke-width="0.8"/><line x1="1393.6" y1="84.0" x2="1942.6" y2="84.0" stroke="#f3f3f6" stroke-width="0.8"/><line x1="1479.9" y1="8.6" x2="1479.9" y2="575.4" stroke="#f3f3f6" stroke-width="0.8"/><line x1="1604.9" y1="8.6" x2="1604.9" y2="575.4" stroke="#f3f3f6" stroke-width="0.8"/><line x1="1729.9" y1="8.6" x2="1729.9" y2="575.4" stroke="#f3f3f6" stroke-width="0.8"/><line x1="1854.9" y1="8.6" x2="1854.9" y2="575.4" stroke="#f3f3f6" stroke-width="0.8"/><line x1="1393.6" y1="550.2" x2="1942.6" y2="550.2" stroke="#e9e9ef" stroke-width="1.6"/><line x1="1393.6" y1="446.6" x2="1942.6" y2="446.6" stroke="#e9e9ef" stroke-width="1.6"/><line x1="1393.6" y1="343.0" x2="1942.6" y2="343.0" stroke="#e9e9ef" stroke-width="1.6"/><line x1="1393.6" y1="239.4" x2="1942.6" y2="239.4" stroke="#e9e9ef" stroke-width="1.6"/><line x1="1393.6" y1="135.8" x2="1942.6" y2="135.8" stroke="#e9e9ef" stroke-width="1.6"/><line x1="1393.6" y1="32.2" x2="1942.6" y2="32.2" stroke="#e9e9ef" stroke-width="1.6"/><line x1="1417.4" y1="8.6" x2="1417.4" y2="575.4" stroke="#e9e9ef" stroke-width="1.6"/><line x1="1542.4" y1="8.6" x2="1542.4" y2="575.4" stroke="#e9e9ef" stroke-width="1.6"/><line x1="1667.4" y1="8.6" x2="1667.4" y2="575.4" stroke="#e9e9ef" stroke-width="1.6"/><line x1="1792.4" y1="8.6" x2="1792.4" y2="575.4" stroke="#e9e9ef" stroke-width="1.6"/><line x1="1917.4" y1="8.6" x2="1917.4" y2="575.4" stroke="#e9e9ef" stroke-width="1.6"/><g fill="#B3B5BD" fill-opacity="0.77" stroke="#B3B5BD" stroke-opacity="0.89" stroke-width="1.4"><circle cx="1669.9" cy="546.1" r="8.3"/><circle cx="1733.9" cy="549.7" r="8.3"/><circle cx="1660.3" cy="543.4" r="8.3"/><circle cx="1649.2" cy="542.9" r="8.3"/><circle cx="1721.4" cy="550.3" r="8.3"/><circle cx="1658.1" cy="543.6" r="8.3"/><circle cx="1684.9" cy="544.4" r="8.3"/><circle cx="1773.0" cy="544.4" r="8.3"/><circle cx="1688.6" cy="542.8" r="8.3"/><circle cx="1666.6" cy="550.6" r="8.3"/><circle cx="1636.7" cy="545.2" r="8.3"/><circle cx="1765.1" cy="545.1" r="8.3"/><circle cx="1638.8" cy="541.5" r="8.3"/><circle cx="1660.9" cy="548.6" r="8.3"/><circle cx="1690.0" cy="547.5" r="8.3"/><circle cx="1606.1" cy="544.1" r="8.3"/><circle cx="1716.3" cy="541.7" r="8.3"/><circle cx="1610.9" cy="542.2" r="8.3"/><circle cx="1736.4" cy="548.4" r="8.3"/><circle cx="1676.0" cy="544.8" r="8.3"/><circle cx="1644.7" cy="549.7" r="8.3"/><circle cx="1743.9" cy="549.2" r="8.3"/><circle cx="1678.1" cy="546.6" r="8.3"/><circle cx="1756.5" cy="545.5" r="8.3"/><circle cx="1665.5" cy="541.6" r="8.3"/><circle cx="1651.9" cy="543.9" r="8.3"/><circle cx="1629.4" cy="543.7" r="8.3"/><circle cx="1727.6" cy="543.0" r="8.3"/><circle cx="1677.0" cy="548.6" r="8.3"/><circle cx="1705.0" cy="542.2" r="8.3"/><circle cx="1643.8" cy="550.5" r="8.3"/><circle cx="1620.0" cy="542.0" r="8.3"/><circle cx="1586.1" cy="550.2" r="8.3"/><circle cx="1603.6" cy="542.4" r="8.3"/><circle cx="1657.7" cy="544.3" r="8.3"/><circle cx="1719.0" cy="546.7" r="8.3"/><circle cx="1724.1" cy="546.4" r="8.3"/><circle cx="1687.9" cy="547.9" r="8.3"/><circle cx="1585.3" cy="545.2" r="8.3"/><circle cx="1635.4" cy="548.2" r="8.3"/><circle cx="1751.9" cy="547.3" r="8.3"/><circle cx="1604.3" cy="544.8" r="8.3"/><circle cx="1687.2" cy="550.2" r="8.3"/><circle cx="1651.2" cy="545.0" r="8.3"/><circle cx="1638.0" cy="541.5" r="8.3"/><circle cx="1736.7" cy="546.0" r="8.3"/><circle cx="1758.9" cy="550.4" r="8.3"/><circle cx="1627.6" cy="542.2" r="8.3"/><circle cx="1681.6" cy="549.1" r="8.3"/><circle cx="1693.2" cy="543.9" r="8.3"/><circle cx="1699.5" cy="550.3" r="8.3"/><circle cx="1591.9" cy="546.9" r="8.3"/><circle cx="1588.0" cy="549.9" r="8.3"/><circle cx="1707.0" cy="546.6" r="8.3"/><circle cx="1601.1" cy="542.5" r="8.3"/><circle cx="1654.9" cy="542.5" r="8.3"/><circle cx="1700.7" cy="544.9" r="8.3"/><circle cx="1665.5" cy="544.5" r="8.3"/><circle cx="1631.2" cy="548.3" r="8.3"/><circle cx="1751.1" cy="548.8" r="8.3"/><circle cx="1658.2" cy="543.8" r="8.3"/><circle cx="1647.6" cy="547.3" r="8.3"/><circle cx="1757.6" cy="548.8" r="8.3"/><circle cx="1630.7" cy="542.5" r="8.3"/><circle cx="1637.2" cy="547.6" r="8.3"/><circle cx="1752.5" cy="547.7" r="8.3"/><circle cx="1774.3" cy="543.1" r="8.3"/><circle cx="1745.8" cy="548.6" r="8.3"/><circle cx="1626.1" cy="543.7" r="8.3"/><circle cx="1742.0" cy="548.6" r="8.3"/><circle cx="1624.0" cy="548.4" r="8.3"/><circle cx="1611.0" cy="546.8" r="8.3"/><circle cx="1680.5" cy="544.9" r="8.3"/><circle cx="1595.4" cy="548.9" r="8.3"/><circle cx="1607.1" cy="548.2" r="8.3"/><circle cx="1620.2" cy="542.0" r="8.3"/><circle cx="1655.8" cy="549.4" r="8.3"/><circle cx="1711.5" cy="541.6" r="8.3"/><circle cx="1735.8" cy="544.7" r="8.3"/><circle cx="1656.8" cy="547.0" r="8.3"/><circle cx="1642.3" cy="543.2" r="8.3"/><circle cx="1737.5" cy="546.2" r="8.3"/><circle cx="1748.7" cy="544.6" r="8.3"/><circle cx="1715.2" cy="548.2" r="8.3"/><circle cx="1630.8" cy="548.6" r="8.3"/><circle cx="1758.3" cy="543.3" r="8.3"/><circle cx="1755.8" cy="543.0" r="8.3"/><circle cx="1737.8" cy="546.7" r="8.3"/><circle cx="1730.4" cy="549.2" r="8.3"/><circle cx="1709.5" cy="550.3" r="8.3"/><circle cx="1768.4" cy="542.5" r="8.3"/><circle cx="1616.2" cy="543.6" r="8.3"/><circle cx="1741.4" cy="550.3" r="8.3"/><circle cx="1692.5" cy="546.8" r="8.3"/><circle cx="1702.5" cy="542.5" r="8.3"/><circle cx="1722.3" cy="548.7" r="8.3"/><circle cx="1690.3" cy="545.5" r="8.3"/><circle cx="1587.1" cy="549.5" r="8.3"/><circle cx="1653.2" cy="549.1" r="8.3"/><circle cx="1630.0" cy="544.4" r="8.3"/><circle cx="1767.5" cy="546.4" r="8.3"/><circle cx="1707.7" cy="543.6" r="8.3"/><circle cx="1712.8" cy="544.6" r="8.3"/><circle cx="1585.1" cy="542.6" r="8.3"/><circle cx="1615.5" cy="549.0" r="8.3"/><circle cx="1681.8" cy="545.2" r="8.3"/><circle cx="1728.5" cy="548.0" r="8.3"/><circle cx="1764.5" cy="544.9" r="8.3"/><circle cx="1745.3" cy="546.3" r="8.3"/><circle cx="1598.4" cy="550.6" r="8.3"/><circle cx="1706.5" cy="546.7" r="8.3"/><circle cx="1668.6" cy="547.7" r="8.3"/><circle cx="1618.8" cy="546.3" r="8.3"/><circle cx="1633.3" cy="542.4" r="8.3"/><circle cx="1618.9" cy="541.7" r="8.3"/><circle cx="1748.4" cy="547.1" r="8.3"/><circle cx="1731.7" cy="545.3" r="8.3"/><circle cx="1673.4" cy="543.1" r="8.3"/><circle cx="1742.8" cy="548.8" r="8.3"/><circle cx="1757.0" cy="550.4" r="8.3"/><circle cx="1585.9" cy="546.2" r="8.3"/><circle cx="1642.2" cy="546.8" r="8.3"/><circle cx="1675.9" cy="546.4" r="8.3"/><circle cx="1757.4" cy="542.2" r="8.3"/><circle cx="1650.7" cy="548.0" r="8.3"/><circle cx="1709.2" cy="548.9" r="8.3"/><circle cx="1661.0" cy="544.0" r="8.3"/><circle cx="1586.0" cy="543.5" r="8.3"/><circle cx="1724.3" cy="547.1" r="8.3"/><circle cx="1632.0" cy="545.7" r="8.3"/><circle cx="1641.1" cy="543.1" r="8.3"/><circle cx="1697.1" cy="547.9" r="8.3"/><circle cx="1738.4" cy="545.1" r="8.3"/><circle cx="1610.0" cy="546.9" r="8.3"/><circle cx="1677.9" cy="541.9" r="8.3"/><circle cx="1645.8" cy="546.5" r="8.3"/><circle cx="1770.5" cy="546.7" r="8.3"/><circle cx="1742.1" cy="549.8" r="8.3"/><circle cx="1659.7" cy="549.0" r="8.3"/><circle cx="1752.9" cy="545.6" r="8.3"/><circle cx="1626.4" cy="549.9" r="8.3"/><circle cx="1664.9" cy="549.8" r="8.3"/><circle cx="1677.1" cy="543.9" r="8.3"/><circle cx="1643.9" cy="549.2" r="8.3"/><circle cx="1653.6" cy="549.2" r="8.3"/><circle cx="1745.2" cy="549.8" r="8.3"/><circle cx="1725.7" cy="547.6" r="8.3"/><circle cx="1723.3" cy="543.5" r="8.3"/><circle cx="1610.6" cy="543.7" r="8.3"/><circle cx="1764.6" cy="545.4" r="8.3"/><circle cx="1707.4" cy="547.7" r="8.3"/><circle cx="1618.1" cy="543.8" r="8.3"/><circle cx="1740.8" cy="548.8" r="8.3"/><circle cx="1606.5" cy="547.4" r="8.3"/><circle cx="1703.9" cy="547.3" r="8.3"/><circle cx="1768.1" cy="543.3" r="8.3"/><circle cx="1759.0" cy="545.1" r="8.3"/><circle cx="1728.5" cy="541.9" r="8.3"/><circle cx="1591.7" cy="545.4" r="8.3"/><circle cx="1620.4" cy="543.3" r="8.3"/><circle cx="1629.1" cy="543.8" r="8.3"/><circle cx="1648.1" cy="544.6" r="8.3"/><circle cx="1713.9" cy="542.2" r="8.3"/><circle cx="1750.7" cy="546.6" r="8.3"/><circle cx="1715.8" cy="549.0" r="8.3"/><circle cx="1603.5" cy="544.1" r="8.3"/><circle cx="1757.2" cy="543.8" r="8.3"/><circle cx="1683.1" cy="544.8" r="8.3"/><circle cx="1723.6" cy="545.4" r="8.3"/><circle cx="1653.9" cy="542.8" r="8.3"/><circle cx="1655.1" cy="542.3" r="8.3"/><circle cx="1736.8" cy="543.3" r="8.3"/><circle cx="1743.3" cy="541.5" r="8.3"/><circle cx="1773.0" cy="546.0" r="8.3"/><circle cx="1656.6" cy="543.9" r="8.3"/><circle cx="1768.8" cy="544.8" r="8.3"/><circle cx="1589.8" cy="550.4" r="8.3"/><circle cx="1673.1" cy="543.4" r="8.3"/><circle cx="1753.5" cy="547.2" r="8.3"/><circle cx="1683.2" cy="545.9" r="8.3"/><circle cx="1602.9" cy="550.7" r="8.3"/><circle cx="1684.4" cy="546.0" r="8.3"/><circle cx="1749.0" cy="549.0" r="8.3"/><circle cx="1746.9" cy="548.2" r="8.3"/><circle cx="1687.4" cy="544.1" r="8.3"/><circle cx="1612.5" cy="541.9" r="8.3"/><circle cx="1766.9" cy="541.7" r="8.3"/><circle cx="1585.3" cy="544.7" r="8.3"/><circle cx="1712.4" cy="542.5" r="8.3"/><circle cx="1623.2" cy="549.6" r="8.3"/><circle cx="1738.7" cy="548.3" r="8.3"/><circle cx="1597.4" cy="549.9" r="8.3"/><circle cx="1707.5" cy="545.7" r="8.3"/><circle cx="1727.0" cy="543.2" r="8.3"/><circle cx="1585.4" cy="542.0" r="8.3"/><circle cx="1752.0" cy="542.0" r="8.3"/><circle cx="1730.9" cy="547.1" r="8.3"/><circle cx="1632.1" cy="542.2" r="8.3"/><circle cx="1664.7" cy="546.2" r="8.3"/><circle cx="1717.6" cy="544.3" r="8.3"/><circle cx="1716.7" cy="544.9" r="8.3"/><circle cx="1681.5" cy="543.6" r="8.3"/><circle cx="1660.1" cy="548.3" r="8.3"/><circle cx="1757.6" cy="542.8" r="8.3"/><circle cx="1721.3" cy="549.1" r="8.3"/><circle cx="1593.6" cy="542.1" r="8.3"/><circle cx="1764.1" cy="548.2" r="8.3"/><circle cx="1704.5" cy="550.5" r="8.3"/><circle cx="1659.7" cy="544.2" r="8.3"/><circle cx="1653.5" cy="543.2" r="8.3"/><circle cx="1758.3" cy="549.4" r="8.3"/><circle cx="1715.7" cy="547.2" r="8.3"/><circle cx="1618.0" cy="547.5" r="8.3"/><circle cx="1676.4" cy="542.4" r="8.3"/><circle cx="1730.3" cy="550.7" r="8.3"/><circle cx="1595.6" cy="541.5" r="8.3"/><circle cx="1690.7" cy="545.0" r="8.3"/><circle cx="1651.9" cy="543.0" r="8.3"/><circle cx="1690.7" cy="545.2" r="8.3"/><circle cx="1632.3" cy="543.5" r="8.3"/><circle cx="1625.6" cy="549.4" r="8.3"/><circle cx="1698.4" cy="543.0" r="8.3"/><circle cx="1640.6" cy="547.9" r="8.3"/><circle cx="1613.3" cy="545.1" r="8.3"/><circle cx="1731.3" cy="549.5" r="8.3"/><circle cx="1686.6" cy="545.7" r="8.3"/><circle cx="1605.2" cy="545.8" r="8.3"/><circle cx="1636.6" cy="548.9" r="8.3"/><circle cx="1772.2" cy="549.9" r="8.3"/><circle cx="1650.2" cy="544.9" r="8.3"/><circle cx="1661.8" cy="550.6" r="8.3"/><circle cx="1749.5" cy="548.5" r="8.3"/><circle cx="1663.2" cy="542.2" r="8.3"/><circle cx="1769.1" cy="542.2" r="8.3"/><circle cx="1663.0" cy="543.8" r="8.3"/><circle cx="1746.1" cy="548.9" r="8.3"/><circle cx="1769.1" cy="549.8" r="8.3"/><circle cx="1709.9" cy="548.5" r="8.3"/><circle cx="1625.8" cy="549.4" r="8.3"/><circle cx="1763.9" cy="549.5" r="8.3"/><circle cx="1758.3" cy="549.2" r="8.3"/><circle cx="1647.5" cy="548.7" r="8.3"/><circle cx="1772.6" cy="549.9" r="8.3"/><circle cx="1748.5" cy="547.9" r="8.3"/><circle cx="1765.8" cy="543.7" r="8.3"/><circle cx="1635.0" cy="546.0" r="8.3"/><circle cx="1615.5" cy="546.9" r="8.3"/><circle cx="1589.9" cy="544.4" r="8.3"/><circle cx="1697.6" cy="548.2" r="8.3"/><circle cx="1587.4" cy="542.0" r="8.3"/><circle cx="1608.6" cy="547.7" r="8.3"/><circle cx="1589.7" cy="547.1" r="8.3"/><circle cx="1661.2" cy="545.7" r="8.3"/><circle cx="1646.4" cy="548.4" r="8.3"/><circle cx="1734.2" cy="548.1" r="8.3"/><circle cx="1648.0" cy="546.1" r="8.3"/><circle cx="1636.9" cy="543.9" r="8.3"/><circle cx="1600.9" cy="547.7" r="8.3"/><circle cx="1664.9" cy="548.3" r="8.3"/><circle cx="1744.5" cy="547.4" r="8.3"/><circle cx="1685.3" cy="546.1" r="8.3"/><circle cx="1699.0" cy="548.6" r="8.3"/><circle cx="1706.0" cy="541.4" r="8.3"/><circle cx="1686.6" cy="549.1" r="8.3"/><circle cx="1650.8" cy="547.6" r="8.3"/><circle cx="1612.7" cy="549.9" r="8.3"/><circle cx="1620.8" cy="541.5" r="8.3"/><circle cx="1676.7" cy="544.9" r="8.3"/><circle cx="1685.6" cy="541.1" r="8.3"/><circle cx="1685.3" cy="541.3" r="8.3"/><circle cx="1693.2" cy="543.9" r="8.3"/><circle cx="1645.2" cy="549.5" r="8.3"/><circle cx="1676.6" cy="550.1" r="8.3"/><circle cx="1701.7" cy="540.9" r="8.3"/><circle cx="1663.9" cy="549.2" r="8.3"/><circle cx="1607.5" cy="546.9" r="8.3"/><circle cx="1661.8" cy="549.8" r="8.3"/><circle cx="1683.6" cy="542.9" r="8.3"/><circle cx="1652.9" cy="547.7" r="8.3"/><circle cx="1645.9" cy="545.4" r="8.3"/><circle cx="1629.4" cy="546.7" r="8.3"/><circle cx="1733.4" cy="546.9" r="8.3"/><circle cx="1688.9" cy="543.2" r="8.3"/><circle cx="1639.7" cy="542.1" r="8.3"/><circle cx="1687.1" cy="548.8" r="8.3"/><circle cx="1685.1" cy="541.2" r="8.3"/><circle cx="1707.0" cy="544.6" r="8.3"/><circle cx="1645.6" cy="541.0" r="8.3"/><circle cx="1707.0" cy="545.2" r="8.3"/><circle cx="1696.0" cy="542.7" r="8.3"/><circle cx="1639.9" cy="546.9" r="8.3"/><circle cx="1677.9" cy="541.1" r="8.3"/><circle cx="1679.2" cy="547.9" r="8.3"/><circle cx="1681.7" cy="542.8" r="8.3"/><circle cx="1611.5" cy="545.1" r="8.3"/><circle cx="1679.8" cy="544.2" r="8.3"/><circle cx="1662.0" cy="545.0" r="8.3"/><circle cx="1696.4" cy="542.0" r="8.3"/><circle cx="1678.6" cy="545.9" r="8.3"/><circle cx="1656.3" cy="543.9" r="8.3"/><circle cx="1644.7" cy="541.2" r="8.3"/><circle cx="1665.0" cy="549.6" r="8.3"/><circle cx="1680.6" cy="542.6" r="8.3"/><circle cx="1671.0" cy="548.1" r="8.3"/><circle cx="1633.1" cy="547.2" r="8.3"/><circle cx="1718.0" cy="543.0" r="8.3"/><circle cx="1696.9" cy="546.6" r="8.3"/><circle cx="1674.6" cy="549.4" r="8.3"/><circle cx="1678.5" cy="545.0" r="8.3"/><circle cx="1688.6" cy="544.1" r="8.3"/><circle cx="1679.5" cy="545.0" r="8.3"/><circle cx="1667.1" cy="541.3" r="8.3"/><circle cx="1705.0" cy="547.3" r="8.3"/><circle cx="1668.4" cy="544.6" r="8.3"/><circle cx="1664.7" cy="546.4" r="8.3"/><circle cx="1674.4" cy="546.2" r="8.3"/><circle cx="1670.1" cy="546.7" r="8.3"/><circle cx="1677.9" cy="547.8" r="8.3"/><circle cx="1769.4" cy="545.7" r="8.3"/><circle cx="1658.8" cy="543.7" r="8.3"/><circle cx="1686.3" cy="544.3" r="8.3"/><circle cx="1698.1" cy="541.5" r="8.3"/><circle cx="1632.0" cy="542.8" r="8.3"/><circle cx="1665.6" cy="546.8" r="8.3"/><circle cx="1630.4" cy="544.3" r="8.3"/><circle cx="1653.1" cy="542.1" r="8.3"/><circle cx="1631.3" cy="545.8" r="8.3"/><circle cx="1678.6" cy="549.9" r="8.3"/><circle cx="1656.2" cy="540.9" r="8.3"/><circle cx="1702.1" cy="549.6" r="8.3"/><circle cx="1664.6" cy="547.3" r="8.3"/><circle cx="1661.9" cy="546.5" r="8.3"/><circle cx="1656.0" cy="545.6" r="8.3"/><circle cx="1649.6" cy="549.6" r="8.3"/><circle cx="1702.3" cy="541.4" r="8.3"/><circle cx="1635.1" cy="541.4" r="8.3"/><circle cx="1707.3" cy="544.4" r="8.3"/><circle cx="1667.2" cy="549.8" r="8.3"/><circle cx="1637.2" cy="546.4" r="8.3"/><circle cx="1675.4" cy="547.8" r="8.3"/><circle cx="1654.8" cy="547.6" r="8.3"/><circle cx="1653.8" cy="547.7" r="8.3"/><circle cx="1708.8" cy="545.9" r="8.3"/><circle cx="1690.4" cy="550.3" r="8.3"/><circle cx="1593.7" cy="546.5" r="8.3"/><circle cx="1666.7" cy="550.6" r="8.3"/><circle cx="1666.4" cy="549.7" r="8.3"/><circle cx="1658.7" cy="546.7" r="8.3"/><circle cx="1717.4" cy="543.9" r="8.3"/><circle cx="1647.8" cy="547.2" r="8.3"/><circle cx="1648.4" cy="546.3" r="8.3"/><circle cx="1676.4" cy="549.9" r="8.3"/><circle cx="1704.4" cy="546.0" r="8.3"/><circle cx="1631.9" cy="543.9" r="8.3"/><circle cx="1666.5" cy="543.7" r="8.3"/><circle cx="1663.5" cy="546.0" r="8.3"/><circle cx="1690.0" cy="548.7" r="8.3"/><circle cx="1737.8" cy="545.0" r="8.3"/><circle cx="1695.8" cy="543.1" r="8.3"/><circle cx="1659.3" cy="549.2" r="8.3"/><circle cx="1472.4" cy="547.1" r="8.3"/><circle cx="1492.4" cy="547.1" r="8.3"/><circle cx="1528.7" cy="549.2" r="8.3"/><circle cx="1579.9" cy="538.8" r="8.3"/><circle cx="1587.4" cy="544.0" r="8.3"/><circle cx="1777.4" cy="549.2" r="8.3"/><circle cx="1769.9" cy="546.1" r="8.3"/></g><g fill="#E48E82" fill-opacity="0.72" stroke="#E48E82" stroke-opacity="0.84" stroke-width="1.4"><circle cx="1666.0" cy="536.0" r="8.3"/><circle cx="1638.6" cy="528.5" r="8.3"/><circle cx="1612.9" cy="531.0" r="8.3"/><circle cx="1638.0" cy="522.0" r="8.3"/><circle cx="1645.8" cy="478.1" r="8.3"/><circle cx="1606.9" cy="534.6" r="8.3"/><circle cx="1638.3" cy="522.8" r="8.3"/><circle cx="1617.4" cy="530.0" r="8.3"/><circle cx="1644.5" cy="484.2" r="8.3"/><circle cx="1661.9" cy="490.9" r="8.3"/><circle cx="1619.6" cy="521.9" r="8.3"/><circle cx="1645.5" cy="529.9" r="8.3"/><circle cx="1662.8" cy="527.0" r="8.3"/><circle cx="1643.5" cy="501.2" r="8.3"/><circle cx="1659.6" cy="498.3" r="8.3"/><circle cx="1664.9" cy="534.9" r="8.3"/><circle cx="1597.6" cy="535.5" r="8.3"/><circle cx="1635.9" cy="524.3" r="8.3"/><circle cx="1600.8" cy="535.3" r="8.3"/><circle cx="1636.2" cy="524.8" r="8.3"/><circle cx="1649.3" cy="509.8" r="8.3"/><circle cx="1657.4" cy="488.2" r="8.3"/><circle cx="1630.1" cy="529.5" r="8.3"/><circle cx="1610.1" cy="533.9" r="8.3"/><circle cx="1620.2" cy="531.6" r="8.3"/><circle cx="1607.7" cy="532.2" r="8.3"/><circle cx="1602.9" cy="529.3" r="8.3"/><circle cx="1634.1" cy="534.7" r="8.3"/><circle cx="1618.3" cy="533.5" r="8.3"/><circle cx="1606.0" cy="532.4" r="8.3"/><circle cx="1608.0" cy="535.3" r="8.3"/><circle cx="1644.9" cy="516.2" r="8.3"/><circle cx="1642.8" cy="515.8" r="8.3"/><circle cx="1630.8" cy="530.5" r="8.3"/><circle cx="1625.3" cy="527.9" r="8.3"/><circle cx="1619.3" cy="523.3" r="8.3"/><circle cx="1612.4" cy="534.4" r="8.3"/><circle cx="1619.4" cy="524.0" r="8.3"/><circle cx="1655.3" cy="501.3" r="8.3"/><circle cx="1620.6" cy="526.1" r="8.3"/><circle cx="1653.8" cy="524.1" r="8.3"/><circle cx="1642.5" cy="501.9" r="8.3"/><circle cx="1622.7" cy="534.6" r="8.3"/><circle cx="1638.2" cy="530.6" r="8.3"/><circle cx="1621.1" cy="528.0" r="8.3"/><circle cx="1663.5" cy="531.7" r="8.3"/><circle cx="1600.2" cy="533.0" r="8.3"/><circle cx="1662.1" cy="535.1" r="8.3"/><circle cx="1640.7" cy="535.8" r="8.3"/><circle cx="1634.2" cy="534.2" r="8.3"/><circle cx="1641.9" cy="522.4" r="8.3"/><circle cx="1641.5" cy="527.4" r="8.3"/><circle cx="1600.2" cy="535.4" r="8.3"/><circle cx="1614.4" cy="534.9" r="8.3"/><circle cx="1609.0" cy="531.1" r="8.3"/><circle cx="1626.1" cy="518.9" r="8.3"/><circle cx="1630.4" cy="524.7" r="8.3"/><circle cx="1645.5" cy="486.3" r="8.3"/><circle cx="1636.6" cy="535.7" r="8.3"/><circle cx="1627.6" cy="535.9" r="8.3"/><circle cx="1638.0" cy="535.0" r="8.3"/><circle cx="1633.3" cy="533.7" r="8.3"/><circle cx="1655.9" cy="532.9" r="8.3"/><circle cx="1641.9" cy="503.3" r="8.3"/><circle cx="1614.5" cy="529.3" r="8.3"/><circle cx="1618.4" cy="533.5" r="8.3"/><circle cx="1613.4" cy="536.2" r="8.3"/><circle cx="1642.8" cy="534.4" r="8.3"/><circle cx="1608.9" cy="535.7" r="8.3"/><circle cx="1652.2" cy="501.8" r="8.3"/><circle cx="1628.2" cy="524.3" r="8.3"/><circle cx="1652.5" cy="493.4" r="8.3"/><circle cx="1631.5" cy="530.3" r="8.3"/><circle cx="1631.7" cy="509.8" r="8.3"/><circle cx="1635.5" cy="522.6" r="8.3"/><circle cx="1658.2" cy="534.7" r="8.3"/><circle cx="1599.4" cy="531.3" r="8.3"/><circle cx="1662.0" cy="535.0" r="8.3"/><circle cx="1596.6" cy="536.2" r="8.3"/><circle cx="1636.0" cy="533.4" r="8.3"/><circle cx="1634.9" cy="516.3" r="8.3"/><circle cx="1596.0" cy="531.9" r="8.3"/><circle cx="1612.9" cy="530.2" r="8.3"/><circle cx="1620.1" cy="531.9" r="8.3"/><circle cx="1623.6" cy="536.2" r="8.3"/><circle cx="1625.5" cy="532.4" r="8.3"/><circle cx="1620.4" cy="534.6" r="8.3"/><circle cx="1618.8" cy="526.1" r="8.3"/><circle cx="1665.0" cy="530.0" r="8.3"/><circle cx="1656.7" cy="498.8" r="8.3"/><circle cx="1602.1" cy="536.2" r="8.3"/><circle cx="1657.9" cy="525.9" r="8.3"/><circle cx="1602.5" cy="531.5" r="8.3"/><circle cx="1645.2" cy="483.6" r="8.3"/><circle cx="1630.5" cy="530.5" r="8.3"/><circle cx="1617.6" cy="534.3" r="8.3"/><circle cx="1640.2" cy="492.2" r="8.3"/><circle cx="1600.9" cy="534.1" r="8.3"/><circle cx="1620.0" cy="535.6" r="8.3"/><circle cx="1637.3" cy="497.0" r="8.3"/><circle cx="1614.6" cy="527.1" r="8.3"/><circle cx="1659.1" cy="524.2" r="8.3"/><circle cx="1660.4" cy="493.3" r="8.3"/><circle cx="1640.9" cy="530.3" r="8.3"/><circle cx="1614.7" cy="535.5" r="8.3"/><circle cx="1658.7" cy="486.0" r="8.3"/><circle cx="1601.1" cy="532.9" r="8.3"/><circle cx="1610.1" cy="528.0" r="8.3"/><circle cx="1635.7" cy="502.7" r="8.3"/><circle cx="1646.7" cy="533.0" r="8.3"/><circle cx="1621.5" cy="527.2" r="8.3"/><circle cx="1659.9" cy="518.6" r="8.3"/><circle cx="1608.3" cy="534.1" r="8.3"/><circle cx="1612.6" cy="535.1" r="8.3"/><circle cx="1619.4" cy="533.5" r="8.3"/><circle cx="1631.3" cy="513.3" r="8.3"/><circle cx="1662.9" cy="531.0" r="8.3"/><circle cx="1635.5" cy="515.0" r="8.3"/><circle cx="1605.8" cy="532.0" r="8.3"/><circle cx="1609.2" cy="533.2" r="8.3"/><circle cx="1424.9" cy="509.8" r="8.3"/><circle cx="1524.9" cy="533.6" r="8.3"/><circle cx="1564.9" cy="531.6" r="8.3"/><circle cx="1646.4" cy="447.1" r="8.3"/><circle cx="1643.4" cy="451.8" r="8.3"/><circle cx="1656.4" cy="462.7" r="8.3"/><circle cx="1648.4" cy="482.9" r="8.3"/><circle cx="1643.2" cy="501.5" r="8.3"/><circle cx="1612.4" cy="523.3" r="8.3"/><circle cx="1602.4" cy="528.4" r="8.3"/><circle cx="1629.9" cy="517.0" r="8.3"/><circle cx="1637.4" cy="498.4" r="8.3"/></g><g fill="#2BB0D8" fill-opacity="0.77" stroke="#2BB0D8" stroke-opacity="0.89" stroke-width="1.4"><circle cx="1741.8" cy="468.6" r="8.3"/><circle cx="1693.4" cy="429.5" r="8.3"/><circle cx="1672.0" cy="513.1" r="8.3"/><circle cx="1729.5" cy="500.9" r="8.3"/><circle cx="1728.4" cy="448.0" r="8.3"/><circle cx="1748.3" cy="492.1" r="8.3"/><circle cx="1684.6" cy="515.2" r="8.3"/><circle cx="1672.9" cy="501.9" r="8.3"/><circle cx="1737.2" cy="518.7" r="8.3"/><circle cx="1729.7" cy="425.7" r="8.3"/><circle cx="1672.0" cy="530.1" r="8.3"/><circle cx="1701.8" cy="492.1" r="8.3"/><circle cx="1677.9" cy="397.2" r="8.3"/><circle cx="1703.3" cy="383.1" r="8.3"/><circle cx="1687.5" cy="353.5" r="8.3"/><circle cx="1721.7" cy="512.1" r="8.3"/><circle cx="1700.6" cy="479.2" r="8.3"/><circle cx="1706.2" cy="381.9" r="8.3"/><circle cx="1688.5" cy="531.1" r="8.3"/><circle cx="1701.7" cy="419.8" r="8.3"/><circle cx="1723.4" cy="521.2" r="8.3"/><circle cx="1714.4" cy="364.7" r="8.3"/><circle cx="1724.4" cy="475.8" r="8.3"/><circle cx="1699.8" cy="429.6" r="8.3"/><circle cx="1730.0" cy="517.4" r="8.3"/><circle cx="1685.0" cy="535.1" r="8.3"/><circle cx="1739.7" cy="536.1" r="8.3"/><circle cx="1696.6" cy="420.1" r="8.3"/><circle cx="1752.9" cy="532.8" r="8.3"/><circle cx="1696.8" cy="440.7" r="8.3"/><circle cx="1674.2" cy="483.0" r="8.3"/><circle cx="1676.5" cy="494.6" r="8.3"/><circle cx="1711.6" cy="534.4" r="8.3"/><circle cx="1721.1" cy="387.3" r="8.3"/><circle cx="1672.1" cy="490.2" r="8.3"/><circle cx="1674.2" cy="504.6" r="8.3"/><circle cx="1734.5" cy="486.5" r="8.3"/><circle cx="1673.5" cy="490.1" r="8.3"/><circle cx="1717.3" cy="416.9" r="8.3"/><circle cx="1745.4" cy="471.6" r="8.3"/><circle cx="1733.9" cy="509.6" r="8.3"/><circle cx="1705.4" cy="485.5" r="8.3"/><circle cx="1705.5" cy="530.6" r="8.3"/><circle cx="1734.7" cy="459.3" r="8.3"/><circle cx="1741.1" cy="504.6" r="8.3"/><circle cx="1694.4" cy="467.7" r="8.3"/><circle cx="1680.6" cy="373.5" r="8.3"/><circle cx="1709.3" cy="416.0" r="8.3"/><circle cx="1717.3" cy="472.1" r="8.3"/><circle cx="1700.0" cy="495.5" r="8.3"/><circle cx="1701.3" cy="529.8" r="8.3"/><circle cx="1685.3" cy="533.3" r="8.3"/><circle cx="1706.1" cy="393.0" r="8.3"/><circle cx="1685.7" cy="442.0" r="8.3"/><circle cx="1715.3" cy="515.2" r="8.3"/><circle cx="1728.9" cy="525.2" r="8.3"/><circle cx="1716.0" cy="403.9" r="8.3"/><circle cx="1684.7" cy="439.5" r="8.3"/><circle cx="1707.1" cy="445.3" r="8.3"/><circle cx="1694.9" cy="530.7" r="8.3"/><circle cx="1706.7" cy="378.4" r="8.3"/><circle cx="1709.9" cy="438.7" r="8.3"/><circle cx="1715.9" cy="447.5" r="8.3"/><circle cx="1692.7" cy="401.0" r="8.3"/><circle cx="1675.2" cy="504.3" r="8.3"/><circle cx="1708.5" cy="527.7" r="8.3"/><circle cx="1703.7" cy="519.5" r="8.3"/><circle cx="1730.3" cy="453.3" r="8.3"/><circle cx="1719.2" cy="480.7" r="8.3"/><circle cx="1731.0" cy="511.2" r="8.3"/><circle cx="1686.2" cy="534.7" r="8.3"/><circle cx="1729.3" cy="467.9" r="8.3"/><circle cx="1721.8" cy="400.0" r="8.3"/><circle cx="1738.7" cy="507.0" r="8.3"/><circle cx="1743.3" cy="518.4" r="8.3"/><circle cx="1672.3" cy="515.5" r="8.3"/><circle cx="1723.5" cy="498.5" r="8.3"/><circle cx="1731.1" cy="455.2" r="8.3"/><circle cx="1700.9" cy="347.3" r="8.3"/><circle cx="1677.2" cy="492.0" r="8.3"/><circle cx="1679.8" cy="499.5" r="8.3"/><circle cx="1733.5" cy="518.8" r="8.3"/><circle cx="1734.1" cy="515.8" r="8.3"/><circle cx="1719.3" cy="427.5" r="8.3"/><circle cx="1699.5" cy="530.7" r="8.3"/><circle cx="1717.3" cy="509.5" r="8.3"/><circle cx="1723.7" cy="510.5" r="8.3"/><circle cx="1723.6" cy="516.6" r="8.3"/><circle cx="1750.7" cy="489.5" r="8.3"/><circle cx="1672.0" cy="495.2" r="8.3"/><circle cx="1678.6" cy="528.9" r="8.3"/><circle cx="1689.6" cy="358.4" r="8.3"/><circle cx="1749.3" cy="497.4" r="8.3"/><circle cx="1687.4" cy="363.2" r="8.3"/><circle cx="1726.3" cy="475.1" r="8.3"/><circle cx="1711.2" cy="386.0" r="8.3"/><circle cx="1706.9" cy="474.4" r="8.3"/><circle cx="1739.4" cy="486.5" r="8.3"/><circle cx="1703.9" cy="432.9" r="8.3"/><circle cx="1718.7" cy="414.1" r="8.3"/><circle cx="1729.9" cy="487.2" r="8.3"/><circle cx="1731.5" cy="496.2" r="8.3"/><circle cx="1682.2" cy="347.1" r="8.3"/><circle cx="1694.3" cy="327.4" r="8.3"/><circle cx="1713.9" cy="527.3" r="8.3"/><circle cx="1759.4" cy="531.2" r="8.3"/><circle cx="1745.4" cy="475.2" r="8.3"/><circle cx="1728.2" cy="491.7" r="8.3"/><circle cx="1695.5" cy="409.9" r="8.3"/><circle cx="1711.2" cy="522.6" r="8.3"/><circle cx="1695.1" cy="536.1" r="8.3"/><circle cx="1676.6" cy="466.1" r="8.3"/><circle cx="1686.1" cy="356.2" r="8.3"/><circle cx="1725.1" cy="470.8" r="8.3"/><circle cx="1676.5" cy="475.4" r="8.3"/><circle cx="1721.6" cy="487.6" r="8.3"/><circle cx="1687.0" cy="535.9" r="8.3"/><circle cx="1681.1" cy="366.2" r="8.3"/><circle cx="1727.7" cy="405.4" r="8.3"/><circle cx="1736.3" cy="520.1" r="8.3"/><circle cx="1695.1" cy="445.7" r="8.3"/><circle cx="1684.1" cy="472.1" r="8.3"/><circle cx="1697.3" cy="517.2" r="8.3"/><circle cx="1723.4" cy="501.5" r="8.3"/><circle cx="1676.0" cy="406.4" r="8.3"/><circle cx="1711.3" cy="365.2" r="8.3"/><circle cx="1747.3" cy="521.4" r="8.3"/><circle cx="1672.9" cy="489.0" r="8.3"/><circle cx="1728.0" cy="512.2" r="8.3"/><circle cx="1724.6" cy="518.6" r="8.3"/><circle cx="1735.8" cy="517.4" r="8.3"/><circle cx="1688.7" cy="518.7" r="8.3"/><circle cx="1712.8" cy="476.9" r="8.3"/><circle cx="1722.2" cy="393.3" r="8.3"/><circle cx="1729.2" cy="490.8" r="8.3"/><circle cx="1701.5" cy="347.1" r="8.3"/><circle cx="1749.1" cy="495.9" r="8.3"/><circle cx="1682.5" cy="404.0" r="8.3"/><circle cx="1715.7" cy="464.2" r="8.3"/><circle cx="1713.6" cy="513.2" r="8.3"/><circle cx="1688.2" cy="362.4" r="8.3"/><circle cx="1694.2" cy="446.7" r="8.3"/><circle cx="1717.1" cy="518.4" r="8.3"/><circle cx="1685.6" cy="454.2" r="8.3"/><circle cx="1705.4" cy="359.4" r="8.3"/><circle cx="1700.3" cy="477.3" r="8.3"/><circle cx="1704.5" cy="402.8" r="8.3"/><circle cx="1733.8" cy="463.4" r="8.3"/><circle cx="1698.8" cy="516.7" r="8.3"/><circle cx="1724.6" cy="502.8" r="8.3"/><circle cx="1712.8" cy="368.4" r="8.3"/><circle cx="1706.0" cy="346.6" r="8.3"/><circle cx="1744.1" cy="532.0" r="8.3"/><circle cx="1695.2" cy="367.6" r="8.3"/><circle cx="1684.1" cy="367.5" r="8.3"/><circle cx="1691.2" cy="362.7" r="8.3"/><circle cx="1736.0" cy="512.9" r="8.3"/><circle cx="1698.8" cy="383.7" r="8.3"/><circle cx="1725.7" cy="446.9" r="8.3"/><circle cx="1697.2" cy="384.0" r="8.3"/><circle cx="1714.8" cy="527.2" r="8.3"/><circle cx="1723.8" cy="403.9" r="8.3"/><circle cx="1674.0" cy="423.5" r="8.3"/><circle cx="1728.5" cy="529.0" r="8.3"/><circle cx="1672.3" cy="487.4" r="8.3"/><circle cx="1706.3" cy="461.4" r="8.3"/><circle cx="1727.9" cy="529.0" r="8.3"/><circle cx="1676.8" cy="413.6" r="8.3"/><circle cx="1701.0" cy="322.7" r="8.3"/><circle cx="1708.8" cy="335.1" r="8.3"/><circle cx="1680.8" cy="536.1" r="8.3"/><circle cx="1743.6" cy="515.7" r="8.3"/><circle cx="1672.0" cy="533.2" r="8.3"/><circle cx="1712.4" cy="361.8" r="8.3"/><circle cx="1694.6" cy="493.4" r="8.3"/><circle cx="1740.8" cy="465.7" r="8.3"/><circle cx="1681.1" cy="519.8" r="8.3"/><circle cx="1702.6" cy="462.4" r="8.3"/><circle cx="1691.9" cy="526.0" r="8.3"/><circle cx="1684.2" cy="476.5" r="8.3"/><circle cx="1698.2" cy="513.2" r="8.3"/><circle cx="1714.1" cy="487.0" r="8.3"/><circle cx="1684.8" cy="371.4" r="8.3"/><circle cx="1721.6" cy="498.3" r="8.3"/><circle cx="1713.2" cy="520.6" r="8.3"/><circle cx="1701.9" cy="519.3" r="8.3"/><circle cx="1683.2" cy="530.9" r="8.3"/><circle cx="1717.6" cy="398.9" r="8.3"/><circle cx="1692.9" cy="319.4" r="8.3"/><circle cx="1704.8" cy="531.0" r="8.3"/><circle cx="1723.4" cy="501.0" r="8.3"/><circle cx="1689.0" cy="534.3" r="8.3"/><circle cx="1684.9" cy="423.5" r="8.3"/><circle cx="1734.4" cy="480.0" r="8.3"/><circle cx="1686.1" cy="422.5" r="8.3"/><circle cx="1696.6" cy="528.1" r="8.3"/><circle cx="1734.3" cy="497.6" r="8.3"/><circle cx="1691.6" cy="332.9" r="8.3"/><circle cx="1682.9" cy="531.0" r="8.3"/><circle cx="1754.0" cy="528.8" r="8.3"/><circle cx="1718.8" cy="533.7" r="8.3"/><circle cx="1716.5" cy="520.8" r="8.3"/><circle cx="1705.5" cy="526.2" r="8.3"/><circle cx="1698.0" cy="367.5" r="8.3"/><circle cx="1708.6" cy="404.7" r="8.3"/><circle cx="1710.1" cy="521.0" r="8.3"/><circle cx="1687.8" cy="483.5" r="8.3"/><circle cx="1716.5" cy="526.4" r="8.3"/><circle cx="1678.9" cy="510.5" r="8.3"/><circle cx="1673.8" cy="419.7" r="8.3"/><circle cx="1682.1" cy="485.7" r="8.3"/><circle cx="1744.4" cy="495.2" r="8.3"/><circle cx="1738.7" cy="520.4" r="8.3"/><circle cx="1692.4" cy="466.2" r="8.3"/><circle cx="1678.4" cy="478.0" r="8.3"/><circle cx="1719.6" cy="387.8" r="8.3"/><circle cx="1730.6" cy="414.5" r="8.3"/><circle cx="1709.4" cy="491.9" r="8.3"/><circle cx="1696.2" cy="482.9" r="8.3"/><circle cx="1672.7" cy="522.7" r="8.3"/><circle cx="1704.9" cy="487.0" r="8.3"/><circle cx="1707.2" cy="508.1" r="8.3"/><circle cx="1672.5" cy="533.5" r="8.3"/><circle cx="1693.9" cy="485.7" r="8.3"/><circle cx="1734.0" cy="473.3" r="8.3"/><circle cx="1736.6" cy="522.3" r="8.3"/><circle cx="1683.0" cy="456.7" r="8.3"/><circle cx="1682.3" cy="528.1" r="8.3"/><circle cx="1747.8" cy="502.2" r="8.3"/><circle cx="1705.3" cy="362.0" r="8.3"/><circle cx="1726.6" cy="498.2" r="8.3"/><circle cx="1695.1" cy="494.3" r="8.3"/><circle cx="1722.8" cy="511.3" r="8.3"/><circle cx="1702.1" cy="527.6" r="8.3"/><circle cx="1742.2" cy="534.5" r="8.3"/><circle cx="1671.8" cy="488.9" r="8.3"/><circle cx="1676.0" cy="445.2" r="8.3"/><circle cx="1715.9" cy="374.8" r="8.3"/><circle cx="1699.4" cy="456.8" r="8.3"/><circle cx="1714.6" cy="517.6" r="8.3"/><circle cx="1735.7" cy="505.5" r="8.3"/><circle cx="1715.1" cy="364.4" r="8.3"/><circle cx="1704.4" cy="433.9" r="8.3"/><circle cx="1720.4" cy="452.6" r="8.3"/><circle cx="1704.1" cy="525.9" r="8.3"/><circle cx="1682.6" cy="513.1" r="8.3"/><circle cx="1696.3" cy="383.0" r="8.3"/><circle cx="1698.6" cy="497.0" r="8.3"/><circle cx="1732.0" cy="457.4" r="8.3"/><circle cx="1694.8" cy="344.5" r="8.3"/><circle cx="1713.5" cy="446.1" r="8.3"/><circle cx="1711.5" cy="412.8" r="8.3"/><circle cx="1755.1" cy="506.2" r="8.3"/><circle cx="1695.0" cy="480.9" r="8.3"/><circle cx="1680.0" cy="463.2" r="8.3"/><circle cx="1760.0" cy="517.8" r="8.3"/><circle cx="1707.4" cy="341.9" r="8.3"/><circle cx="1714.7" cy="535.2" r="8.3"/><circle cx="1761.2" cy="525.9" r="8.3"/><circle cx="1697.7" cy="359.5" r="8.3"/><circle cx="1689.2" cy="397.9" r="8.3"/><circle cx="1671.3" cy="489.0" r="8.3"/><circle cx="1699.4" cy="443.2" r="8.3"/><circle cx="1705.3" cy="341.3" r="8.3"/><circle cx="1672.5" cy="532.4" r="8.3"/><circle cx="1685.9" cy="455.9" r="8.3"/><circle cx="1671.7" cy="477.4" r="8.3"/><circle cx="1721.9" cy="456.5" r="8.3"/><circle cx="1685.7" cy="354.4" r="8.3"/><circle cx="1675.3" cy="391.6" r="8.3"/><circle cx="1690.6" cy="467.4" r="8.3"/><circle cx="1695.1" cy="461.2" r="8.3"/><circle cx="1686.3" cy="437.2" r="8.3"/><circle cx="1681.8" cy="377.9" r="8.3"/><circle cx="1688.3" cy="342.4" r="8.3"/><circle cx="1706.5" cy="361.7" r="8.3"/><circle cx="1706.1" cy="534.8" r="8.3"/><circle cx="1698.7" cy="477.7" r="8.3"/><circle cx="1696.8" cy="464.5" r="8.3"/><circle cx="1676.9" cy="441.2" r="8.3"/><circle cx="1685.4" cy="360.7" r="8.3"/><circle cx="1733.8" cy="488.3" r="8.3"/><circle cx="1695.6" cy="474.5" r="8.3"/><circle cx="1726.2" cy="395.9" r="8.3"/><circle cx="1701.3" cy="482.1" r="8.3"/><circle cx="1673.4" cy="425.3" r="8.3"/><circle cx="1729.1" cy="426.0" r="8.3"/><circle cx="1689.3" cy="347.7" r="8.3"/><circle cx="1693.7" cy="333.5" r="8.3"/><circle cx="1750.6" cy="526.1" r="8.3"/><circle cx="1694.5" cy="523.8" r="8.3"/><circle cx="1680.9" cy="408.3" r="8.3"/><circle cx="1709.6" cy="368.1" r="8.3"/><circle cx="1685.8" cy="520.3" r="8.3"/><circle cx="1708.8" cy="533.7" r="8.3"/><circle cx="1695.5" cy="496.8" r="8.3"/><circle cx="1686.2" cy="456.8" r="8.3"/><circle cx="1708.5" cy="409.9" r="8.3"/><circle cx="1730.2" cy="438.8" r="8.3"/><circle cx="1701.1" cy="489.9" r="8.3"/><circle cx="1729.3" cy="459.8" r="8.3"/><circle cx="1754.0" cy="505.6" r="8.3"/><circle cx="1678.4" cy="494.0" r="8.3"/><circle cx="1719.2" cy="413.8" r="8.3"/><circle cx="1730.8" cy="508.9" r="8.3"/><circle cx="1671.5" cy="535.4" r="8.3"/><circle cx="1702.3" cy="490.6" r="8.3"/><circle cx="1715.2" cy="531.0" r="8.3"/><circle cx="1672.9" cy="505.4" r="8.3"/><circle cx="1758.9" cy="532.6" r="8.3"/><circle cx="1722.2" cy="402.6" r="8.3"/><circle cx="1700.4" cy="462.6" r="8.3"/><circle cx="1699.6" cy="491.0" r="8.3"/><circle cx="1679.2" cy="474.4" r="8.3"/><circle cx="1724.5" cy="430.0" r="8.3"/><circle cx="1691.2" cy="351.3" r="8.3"/><circle cx="1739.6" cy="514.5" r="8.3"/><circle cx="1720.4" cy="458.2" r="8.3"/><circle cx="1700.7" cy="529.4" r="8.3"/><circle cx="1696.8" cy="510.3" r="8.3"/><circle cx="1675.9" cy="486.3" r="8.3"/><circle cx="1709.6" cy="476.8" r="8.3"/><circle cx="1754.5" cy="524.2" r="8.3"/><circle cx="1683.6" cy="516.7" r="8.3"/><circle cx="1677.2" cy="413.4" r="8.3"/><circle cx="1718.8" cy="496.9" r="8.3"/><circle cx="1760.3" cy="519.9" r="8.3"/><circle cx="1707.4" cy="459.8" r="8.3"/><circle cx="1691.0" cy="510.5" r="8.3"/><circle cx="1687.8" cy="488.8" r="8.3"/><circle cx="1723.2" cy="526.9" r="8.3"/><circle cx="1673.4" cy="515.1" r="8.3"/><circle cx="1741.9" cy="532.3" r="8.3"/><circle cx="1681.5" cy="378.9" r="8.3"/><circle cx="1727.5" cy="470.7" r="8.3"/><circle cx="1705.5" cy="419.7" r="8.3"/><circle cx="1736.3" cy="437.3" r="8.3"/><circle cx="1716.2" cy="389.7" r="8.3"/><circle cx="1692.0" cy="403.1" r="8.3"/><circle cx="1721.6" cy="459.8" r="8.3"/><circle cx="1690.3" cy="410.8" r="8.3"/><circle cx="1681.9" cy="529.5" r="8.3"/><circle cx="1728.7" cy="510.0" r="8.3"/><circle cx="1759.5" cy="532.2" r="8.3"/><circle cx="1690.7" cy="319.7" r="8.3"/><circle cx="1684.6" cy="482.9" r="8.3"/><circle cx="1743.8" cy="535.2" r="8.3"/><circle cx="1675.4" cy="532.2" r="8.3"/><circle cx="1680.1" cy="518.3" r="8.3"/><circle cx="1682.7" cy="505.3" r="8.3"/><circle cx="1686.4" cy="365.0" r="8.3"/><circle cx="1700.3" cy="516.5" r="8.3"/><circle cx="1722.6" cy="506.6" r="8.3"/><circle cx="1679.8" cy="363.0" r="8.3"/><circle cx="1690.3" cy="359.8" r="8.3"/><circle cx="1726.0" cy="461.9" r="8.3"/><circle cx="1729.1" cy="499.4" r="8.3"/><circle cx="1731.4" cy="425.0" r="8.3"/><circle cx="1723.4" cy="428.9" r="8.3"/><circle cx="1689.3" cy="485.0" r="8.3"/><circle cx="1671.2" cy="494.6" r="8.3"/><circle cx="1733.7" cy="455.0" r="8.3"/><circle cx="1692.5" cy="462.7" r="8.3"/><circle cx="1721.3" cy="536.0" r="8.3"/><circle cx="1732.9" cy="490.9" r="8.3"/><circle cx="1672.2" cy="452.7" r="8.3"/><circle cx="1675.7" cy="426.7" r="8.3"/><circle cx="1734.0" cy="516.5" r="8.3"/><circle cx="1733.2" cy="495.0" r="8.3"/><circle cx="1680.3" cy="504.9" r="8.3"/><circle cx="1682.1" cy="513.2" r="8.3"/><circle cx="1718.7" cy="381.9" r="8.3"/><circle cx="1707.1" cy="361.0" r="8.3"/><circle cx="1710.1" cy="426.6" r="8.3"/><circle cx="1698.7" cy="478.6" r="8.3"/><circle cx="1741.5" cy="503.6" r="8.3"/><circle cx="1687.5" cy="389.7" r="8.3"/><circle cx="1756.7" cy="527.3" r="8.3"/><circle cx="1684.5" cy="385.8" r="8.3"/><circle cx="1738.2" cy="520.2" r="8.3"/><circle cx="1764.9" cy="504.6" r="8.3"/><circle cx="1771.2" cy="501.5" r="8.3"/><circle cx="1778.7" cy="500.5" r="8.3"/><circle cx="1787.4" cy="502.5" r="8.3"/><circle cx="1794.9" cy="501.5" r="8.3"/><circle cx="1803.7" cy="503.6" r="8.3"/><circle cx="1812.4" cy="502.5" r="8.3"/><circle cx="1821.2" cy="503.6" r="8.3"/><circle cx="1759.9" cy="512.9" r="8.3"/><circle cx="1767.4" cy="524.3" r="8.3"/><circle cx="1774.9" cy="530.5" r="8.3"/><circle cx="1789.9" cy="525.3" r="8.3"/><circle cx="1799.9" cy="531.6" r="8.3"/><circle cx="1806.2" cy="515.0" r="8.3"/><circle cx="1804.9" cy="532.6" r="8.3"/><circle cx="1763.7" cy="532.6" r="8.3"/><circle cx="1782.4" cy="534.7" r="8.3"/><circle cx="1719.9" cy="34.3" r="8.3"/><circle cx="1706.2" cy="173.1" r="8.3"/><circle cx="1715.9" cy="178.3" r="8.3"/><circle cx="1707.4" cy="184.5" r="8.3"/><circle cx="1709.4" cy="194.9" r="8.3"/><circle cx="1699.7" cy="212.5" r="8.3"/><circle cx="1736.7" cy="195.9" r="8.3"/><circle cx="1714.4" cy="241.5" r="8.3"/><circle cx="1719.2" cy="252.9" r="8.3"/><circle cx="1720.9" cy="266.3" r="8.3"/><circle cx="1743.7" cy="267.4" r="8.3"/><circle cx="1691.4" cy="270.5" r="8.3"/><circle cx="1735.9" cy="290.2" r="8.3"/><circle cx="1693.2" cy="302.6" r="8.3"/><circle cx="1774.4" cy="367.9" r="8.3"/><circle cx="1788.9" cy="377.2" r="8.3"/><circle cx="1775.4" cy="426.4" r="8.3"/><circle cx="1783.2" cy="426.4" r="8.3"/><circle cx="1753.9" cy="447.1" r="8.3"/><circle cx="1746.4" cy="451.1" r="8.3"/><circle cx="1694.9" cy="318.1" r="8.3"/><circle cx="1687.4" cy="320.2" r="8.3"/><circle cx="1699.9" cy="327.5" r="8.3"/><circle cx="1724.9" cy="346.1" r="8.3"/><circle cx="1714.9" cy="332.6" r="8.3"/><circle cx="1732.4" cy="379.3" r="8.3"/><circle cx="1737.4" cy="389.6" r="8.3"/><circle cx="1742.4" cy="415.5" r="8.3"/><circle cx="1749.9" cy="420.7" r="8.3"/><circle cx="1674.9" cy="374.1" r="8.3"/><circle cx="1679.9" cy="394.8" r="8.3"/><circle cx="1752.4" cy="502.5" r="8.3"/><circle cx="1759.9" cy="500.5" r="8.3"/><circle cx="1749.9" cy="513.9" r="8.3"/></g><g fill="#F2C858" fill-opacity="0.77" stroke="#F2C858" stroke-opacity="0.89" stroke-width="1.4"><circle cx="1696.4" cy="519.9" r="8.3"/><circle cx="1693.2" cy="482.0" r="8.3"/><circle cx="1681.7" cy="517.4" r="8.3"/><circle cx="1696.9" cy="514.5" r="8.3"/><circle cx="1690.0" cy="509.7" r="8.3"/><circle cx="1675.3" cy="513.9" r="8.3"/><circle cx="1676.4" cy="517.6" r="8.3"/><circle cx="1694.7" cy="524.5" r="8.3"/><circle cx="1683.1" cy="478.9" r="8.3"/><circle cx="1698.8" cy="502.3" r="8.3"/><circle cx="1677.2" cy="488.9" r="8.3"/><circle cx="1696.6" cy="487.6" r="8.3"/><circle cx="1683.5" cy="485.7" r="8.3"/><circle cx="1679.1" cy="501.4" r="8.3"/><circle cx="1675.2" cy="532.7" r="8.3"/><circle cx="1669.1" cy="511.4" r="8.3"/><circle cx="1699.4" cy="486.9" r="8.3"/><circle cx="1669.2" cy="530.3" r="8.3"/><circle cx="1678.3" cy="514.3" r="8.3"/><circle cx="1669.1" cy="509.8" r="8.3"/><circle cx="1680.4" cy="482.7" r="8.3"/><circle cx="1693.1" cy="484.0" r="8.3"/><circle cx="1669.3" cy="504.2" r="8.3"/><circle cx="1698.7" cy="484.7" r="8.3"/><circle cx="1678.6" cy="512.6" r="8.3"/><circle cx="1689.7" cy="501.5" r="8.3"/><circle cx="1698.7" cy="497.3" r="8.3"/><circle cx="1684.9" cy="535.7" r="8.3"/><circle cx="1672.1" cy="513.0" r="8.3"/><circle cx="1672.0" cy="498.3" r="8.3"/><circle cx="1691.0" cy="479.8" r="8.3"/><circle cx="1694.9" cy="494.6" r="8.3"/><circle cx="1705.0" cy="529.6" r="8.3"/><circle cx="1683.3" cy="520.2" r="8.3"/><circle cx="1701.0" cy="500.5" r="8.3"/><circle cx="1681.7" cy="482.3" r="8.3"/><circle cx="1687.0" cy="519.3" r="8.3"/><circle cx="1675.5" cy="521.6" r="8.3"/><circle cx="1693.4" cy="523.5" r="8.3"/><circle cx="1684.5" cy="495.8" r="8.3"/><circle cx="1687.6" cy="490.2" r="8.3"/><circle cx="1670.8" cy="523.2" r="8.3"/><circle cx="1681.2" cy="523.4" r="8.3"/><circle cx="1693.0" cy="508.5" r="8.3"/><circle cx="1695.3" cy="523.2" r="8.3"/><circle cx="1687.7" cy="491.5" r="8.3"/><circle cx="1697.0" cy="488.9" r="8.3"/><circle cx="1678.1" cy="532.5" r="8.3"/><circle cx="1702.8" cy="521.0" r="8.3"/><circle cx="1683.5" cy="522.9" r="8.3"/><circle cx="1708.2" cy="512.7" r="8.3"/><circle cx="1708.3" cy="524.4" r="8.3"/><circle cx="1698.6" cy="529.2" r="8.3"/><circle cx="1692.7" cy="481.7" r="8.3"/><circle cx="1690.5" cy="514.8" r="8.3"/><circle cx="1679.2" cy="485.2" r="8.3"/><circle cx="1689.0" cy="531.9" r="8.3"/><circle cx="1681.9" cy="479.4" r="8.3"/><circle cx="1690.6" cy="529.1" r="8.3"/><circle cx="1681.9" cy="506.6" r="8.3"/><circle cx="1692.7" cy="490.3" r="8.3"/><circle cx="1674.6" cy="514.7" r="8.3"/><circle cx="1677.0" cy="508.6" r="8.3"/><circle cx="1682.7" cy="480.3" r="8.3"/><circle cx="1708.2" cy="506.9" r="8.3"/><circle cx="1674.2" cy="521.9" r="8.3"/><circle cx="1681.7" cy="526.7" r="8.3"/><circle cx="1685.5" cy="488.8" r="8.3"/><circle cx="1683.7" cy="519.2" r="8.3"/><circle cx="1670.8" cy="528.8" r="8.3"/><circle cx="1696.8" cy="480.5" r="8.3"/><circle cx="1687.1" cy="508.5" r="8.3"/><circle cx="1697.4" cy="486.9" r="8.3"/><circle cx="1682.0" cy="492.5" r="8.3"/><circle cx="1674.4" cy="517.9" r="8.3"/><circle cx="1677.1" cy="489.5" r="8.3"/><circle cx="1714.2" cy="530.2" r="8.3"/><circle cx="1705.2" cy="536.1" r="8.3"/><circle cx="1701.7" cy="496.0" r="8.3"/><circle cx="1705.4" cy="516.2" r="8.3"/><circle cx="1683.8" cy="520.5" r="8.3"/><circle cx="1686.5" cy="505.7" r="8.3"/><circle cx="1687.5" cy="473.0" r="8.3"/><circle cx="1678.6" cy="483.6" r="8.3"/><circle cx="1706.5" cy="524.0" r="8.3"/><circle cx="1708.7" cy="503.7" r="8.3"/><circle cx="1694.3" cy="492.9" r="8.3"/><circle cx="1709.4" cy="523.9" r="8.3"/><circle cx="1681.7" cy="500.3" r="8.3"/><circle cx="1679.3" cy="509.9" r="8.3"/><circle cx="1699.0" cy="501.9" r="8.3"/><circle cx="1696.1" cy="492.5" r="8.3"/><circle cx="1685.0" cy="533.6" r="8.3"/><circle cx="1681.3" cy="501.4" r="8.3"/><circle cx="1683.8" cy="486.7" r="8.3"/><circle cx="1704.6" cy="531.3" r="8.3"/><circle cx="1687.0" cy="509.7" r="8.3"/><circle cx="1693.8" cy="481.3" r="8.3"/><circle cx="1698.8" cy="519.3" r="8.3"/><circle cx="1693.9" cy="516.4" r="8.3"/><circle cx="1698.9" cy="530.7" r="8.3"/><circle cx="1674.0" cy="514.2" r="8.3"/><circle cx="1683.9" cy="502.5" r="8.3"/><circle cx="1701.2" cy="498.9" r="8.3"/><circle cx="1685.5" cy="490.1" r="8.3"/><circle cx="1713.8" cy="525.4" r="8.3"/><circle cx="1692.0" cy="531.0" r="8.3"/><circle cx="1692.6" cy="485.7" r="8.3"/><circle cx="1693.0" cy="508.2" r="8.3"/><circle cx="1685.7" cy="482.5" r="8.3"/><circle cx="1694.4" cy="482.1" r="8.3"/><circle cx="1700.8" cy="530.9" r="8.3"/><circle cx="1689.0" cy="510.6" r="8.3"/><circle cx="1691.2" cy="495.9" r="8.3"/><circle cx="1680.5" cy="487.9" r="8.3"/><circle cx="1673.1" cy="531.7" r="8.3"/><circle cx="1706.9" cy="501.7" r="8.3"/><circle cx="1687.0" cy="535.2" r="8.3"/><circle cx="1687.8" cy="528.2" r="8.3"/><circle cx="1688.4" cy="473.4" r="8.3"/><circle cx="1704.7" cy="97.5" r="8.3"/><circle cx="1705.4" cy="186.6" r="8.3"/><circle cx="1726.9" cy="332.6" r="8.3"/><circle cx="1753.9" cy="367.9" r="8.3"/><circle cx="1685.2" cy="393.8" r="8.3"/><circle cx="1697.7" cy="395.8" r="8.3"/><circle cx="1695.7" cy="418.6" r="8.3"/><circle cx="1703.4" cy="430.0" r="8.3"/><circle cx="1675.7" cy="443.5" r="8.3"/><circle cx="1685.9" cy="435.2" r="8.3"/><circle cx="1704.9" cy="447.6" r="8.3"/><circle cx="1704.9" cy="467.3" r="8.3"/><circle cx="1689.9" cy="448.7" r="8.3"/><circle cx="1728.2" cy="533.6" r="8.3"/><circle cx="1692.4" cy="438.3" r="8.3"/></g><circle cx="1707.4" cy="407.2" r="9" fill="#8E4FA8" fill-opacity="0.85"/><line x1="1393.6" y1="536.7" x2="1942.6" y2="536.7" stroke="#555" stroke-width="2" stroke-dasharray="9 7"/><rect x="1393.6" y="8.6" width="549.0" height="566.8" fill="none" stroke="#7d7d7d" stroke-width="1.9"/><line x1="1387.1" y1="550.2" x2="1393.6" y2="550.2" stroke="#3a3a3a" stroke-width="1.9"/><text x="1383.0" y="558.5" font-size="20" text-anchor="end" fill="#4d4d4d">0</text><line x1="1387.1" y1="446.6" x2="1393.6" y2="446.6" stroke="#3a3a3a" stroke-width="1.9"/><text x="1383.0" y="454.9" font-size="20" text-anchor="end" fill="#4d4d4d">10</text><line x1="1387.1" y1="343.0" x2="1393.6" y2="343.0" stroke="#3a3a3a" stroke-width="1.9"/><text x="1383.0" y="351.3" font-size="20" text-anchor="end" fill="#4d4d4d">20</text><line x1="1387.1" y1="239.4" x2="1393.6" y2="239.4" stroke="#3a3a3a" stroke-width="1.9"/><text x="1383.0" y="247.7" font-size="20" text-anchor="end" fill="#4d4d4d">30</text><line x1="1387.1" y1="135.8" x2="1393.6" y2="135.8" stroke="#3a3a3a" stroke-width="1.9"/><text x="1383.0" y="144.1" font-size="20" text-anchor="end" fill="#4d4d4d">40</text><line x1="1387.1" y1="32.2" x2="1393.6" y2="32.2" stroke="#3a3a3a" stroke-width="1.9"/><text x="1383.0" y="40.5" font-size="20" text-anchor="end" fill="#4d4d4d">50</text><line x1="1417.4" y1="575.4" x2="1417.4" y2="581.9" stroke="#3a3a3a" stroke-width="1.9"/><text x="1417.4" y="601.9" font-size="20" text-anchor="middle" fill="#4d4d4d">-10</text><line x1="1542.4" y1="575.4" x2="1542.4" y2="581.9" stroke="#3a3a3a" stroke-width="1.9"/><text x="1542.4" y="601.9" font-size="20" text-anchor="middle" fill="#4d4d4d">-5</text><line x1="1667.4" y1="575.4" x2="1667.4" y2="581.9" stroke="#3a3a3a" stroke-width="1.9"/><text x="1667.4" y="601.9" font-size="20" text-anchor="middle" fill="#4d4d4d">0</text><line x1="1792.4" y1="575.4" x2="1792.4" y2="581.9" stroke="#3a3a3a" stroke-width="1.9"/><text x="1792.4" y="601.9" font-size="20" text-anchor="middle" fill="#4d4d4d">5</text><line x1="1917.4" y1="575.4" x2="1917.4" y2="581.9" stroke="#3a3a3a" stroke-width="1.9"/><text x="1917.4" y="601.9" font-size="20" text-anchor="middle" fill="#4d4d4d">10</text><text x="1739.7" y="105.8" font-size="29" textLength="96.0" lengthAdjust="spacingAndGlyphs">RAB3B</text><text x="1602.4" y="195.6" font-size="29" textLength="68.1" lengthAdjust="spacingAndGlyphs">FEZ1</text><text x="1759.9" y="329.7" font-size="29" textLength="66.9" lengthAdjust="spacingAndGlyphs">TJP3</text><text x="1800.7" y="362.4" font-size="29" textLength="79.7" lengthAdjust="spacingAndGlyphs">HEPH</text><text x="1567.4" y="375.2" font-size="29" textLength="101.1" lengthAdjust="spacingAndGlyphs">CXADR</text><text x="1758.0" y="406.3" font-size="29" textLength="75.8" lengthAdjust="spacingAndGlyphs">UGT8</text><text x="1766.9" y="446.3" font-size="29" textLength="113.5" lengthAdjust="spacingAndGlyphs">AMIGO2</text><line x1="1707.4" y1="97.2" x2="1730.7" y2="97.2" stroke="#222" stroke-width="1.8"/><line x1="1678.2" y1="189.3" x2="1703.5" y2="186.6" stroke="#222" stroke-width="1.8"/><line x1="1728.8" y1="333.2" x2="1754.0" y2="327.8" stroke="#222" stroke-width="1.8"/><line x1="1755.2" y1="367.4" x2="1794.1" y2="354.6" stroke="#222" stroke-width="1.8"/><line x1="1660.7" y1="383.0" x2="1685.2" y2="394.6" stroke="#222" stroke-width="1.8"/><line x1="1699.6" y1="394.6" x2="1748.2" y2="397.4" stroke="#222" stroke-width="1.8"/><line x1="1705.5" y1="429.6" x2="1752.1" y2="434.3" stroke="#222" stroke-width="1.8"/><text x="1407.5" y="50.5" font-size="35" textLength="148.5" lengthAdjust="spacingAndGlyphs">KBTBD4</text><text x="1555.8" y="38.9" font-size="21" textLength="75.8" lengthAdjust="spacingAndGlyphs">P311PP</text><text x="1573.8" y="631.6" font-size="24.5" fill="#333" textLength="187.0" lengthAdjust="spacingAndGlyphs">log2 fold change</text><text x="0.0" y="0.0" font-size="24" text-anchor="middle" fill="#333" textLength="276.0" lengthAdjust="spacingAndGlyphs" transform="translate(1348 290) rotate(-90)">-log10(adjusted p-value)</text><text x="1276.1" y="44.5" font-size="54" font-weight="bold" textLength="32.0" lengthAdjust="spacingAndGlyphs">B</text><text x="-1.0" y="701.5" font-size="56" font-weight="bold" textLength="33.5" lengthAdjust="spacingAndGlyphs">C</text><rect x="183.8" y="675.5" width="48.7" height="40.9" fill="#E8C515" stroke="#333" stroke-width="1.6"/><text x="248.3" y="712.3" font-size="38.5" textLength="146.2" lengthAdjust="spacingAndGlyphs">KBTBD4</text><text x="394.1" y="700.3" font-size="22" textLength="34.1" lengthAdjust="spacingAndGlyphs">WT</text><rect x="473.6" y="675.5" width="48.7" height="40.9" fill="#0B8A3C" stroke="#333" stroke-width="1.6"/><text x="540.8" y="712.3" font-size="38.5" textLength="146.7" lengthAdjust="spacingAndGlyphs">KBTBD4</text><text x="688.3" y="700.3" font-size="22" textLength="97.7" lengthAdjust="spacingAndGlyphs">R313PRR</text><rect x="828.6" y="675.5" width="48.7" height="40.9" fill="#0B64AE" stroke="#333" stroke-width="1.6"/><text x="895.9" y="712.3" font-size="38.5" textLength="147.2" lengthAdjust="spacingAndGlyphs">KBTBD4</text><text x="1043.3" y="700.3" font-size="22" textLength="79.4" lengthAdjust="spacingAndGlyphs">P311PP</text><line x1="202.5" y1="748.5" x2="202.5" y2="1109.3" stroke="#222" stroke-width="3.2"/><line x1="184.9" y1="1108.0" x2="591.5" y2="1108.0" stroke="#222" stroke-width="3.2"/><line x1="186.0" y1="1107.3" x2="202.5" y2="1107.3" stroke="#222" stroke-width="3.2"/><text x="179.0" y="1116.6" font-size="26" font-weight="bold" text-anchor="end" fill="#222" textLength="14.5" lengthAdjust="spacingAndGlyphs">0</text><line x1="186.0" y1="1035.9" x2="202.5" y2="1035.9" stroke="#222" stroke-width="3.2"/><text x="179.0" y="1045.2" font-size="26" font-weight="bold" text-anchor="end" fill="#222" textLength="44.2" lengthAdjust="spacingAndGlyphs">100</text><line x1="186.0" y1="964.4" x2="202.5" y2="964.4" stroke="#222" stroke-width="3.2"/><text x="179.0" y="973.7" font-size="26" font-weight="bold" text-anchor="end" fill="#222" textLength="44.2" lengthAdjust="spacingAndGlyphs">200</text><line x1="186.0" y1="893.0" x2="202.5" y2="893.0" stroke="#222" stroke-width="3.2"/><text x="179.0" y="902.3" font-size="26" font-weight="bold" text-anchor="end" fill="#222" textLength="44.2" lengthAdjust="spacingAndGlyphs">300</text><line x1="186.0" y1="821.6" x2="202.5" y2="821.6" stroke="#222" stroke-width="3.2"/><text x="179.0" y="830.9" font-size="26" font-weight="bold" text-anchor="end" fill="#222" textLength="44.2" lengthAdjust="spacingAndGlyphs">400</text><line x1="186.0" y1="750.1" x2="202.5" y2="750.1" stroke="#222" stroke-width="3.2"/><text x="179.0" y="759.4" font-size="26" font-weight="bold" text-anchor="end" fill="#222" textLength="44.2" lengthAdjust="spacingAndGlyphs">500</text><text x="0.0" y="0.0" font-size="31" font-weight="bold" text-anchor="middle" fill="#222" textLength="309.5" lengthAdjust="spacingAndGlyphs" transform="translate(116.5 920) rotate(-90)">Tumorsphere number</text><rect x="222.5" y="921.6" width="39.9" height="185.7" fill="#E2BE0A" stroke="#2a2a2a" stroke-width="1.5"/><line x1="242.4" y1="921.6" x2="242.4" y2="911.1" stroke="#222" stroke-width="2.2"/><line x1="233.0" y1="911.1" x2="252.6" y2="911.1" stroke="#222" stroke-width="2.2"/><circle cx="228.4" cy="929.9" r="5.9" fill="#222"/><circle cx="242.9" cy="911.1" r="5.9" fill="#222"/><circle cx="257.4" cy="922.0" r="5.9" fill="#222"/><rect x="284.8" y="918.0" width="38.7" height="189.3" fill="#E2BE0A" stroke="#2a2a2a" stroke-width="1.5"/><line x1="304.1" y1="918.0" x2="304.1" y2="905.6" stroke="#222" stroke-width="2.2"/><line x1="295.7" y1="905.6" x2="313.4" y2="905.6" stroke="#222" stroke-width="2.2"/><circle cx="289.9" cy="927.9" r="5.9" fill="#222"/><circle cx="304.0" cy="903.6" r="5.9" fill="#222"/><circle cx="319.2" cy="920.5" r="5.9" fill="#222"/><rect x="345.9" y="910.2" width="39.9" height="197.1" fill="#1F8A40" stroke="#2a2a2a" stroke-width="1.5"/><line x1="365.9" y1="910.2" x2="365.9" y2="896.6" stroke="#222" stroke-width="2.2"/><line x1="355.7" y1="896.6" x2="376.0" y2="896.6" stroke="#222" stroke-width="2.2"/><circle cx="365.5" cy="896.9" r="5.9" fill="#222"/><circle cx="365.5" cy="909.5" r="5.9" fill="#222"/><circle cx="365.5" cy="922.8" r="5.9" fill="#222"/><rect x="408.2" y="853.7" width="38.3" height="253.6" fill="#0A843C" stroke="#2a2a2a" stroke-width="1.5"/><line x1="427.4" y1="853.7" x2="427.4" y2="840.6" stroke="#222" stroke-width="2.2"/><line x1="416.4" y1="840.6" x2="436.8" y2="840.6" stroke="#222" stroke-width="2.2"/><circle cx="412.5" cy="842.5" r="5.9" fill="#222"/><circle cx="426.9" cy="867.2" r="5.9" fill="#222"/><circle cx="441.8" cy="850.3" r="5.9" fill="#222"/><rect x="468.9" y="927.3" width="40.3" height="180.0" fill="#0E5F8C" stroke="#2a2a2a" stroke-width="1.5"/><line x1="489.0" y1="927.3" x2="489.0" y2="895.4" stroke="#222" stroke-width="2.2"/><line x1="478.7" y1="895.4" x2="499.4" y2="895.4" stroke="#222" stroke-width="2.2"/><circle cx="488.8" cy="896.9" r="5.9" fill="#222"/><circle cx="488.8" cy="924.8" r="5.9" fill="#222"/><circle cx="488.8" cy="962.4" r="5.9" fill="#222"/><rect x="531.1" y="824.4" width="38.9" height="282.9" fill="#1D6294" stroke="#2a2a2a" stroke-width="1.5"/><line x1="550.5" y1="824.4" x2="550.5" y2="807.3" stroke="#222" stroke-width="2.2"/><line x1="540.5" y1="807.3" x2="560.9" y2="807.3" stroke="#222" stroke-width="2.2"/><circle cx="535.8" cy="835.9" r="5.9" fill="#222"/><circle cx="550.3" cy="805.3" r="5.9" fill="#222"/><circle cx="565.2" cy="830.0" r="5.9" fill="#222"/><path d="M242 883V875H304.4V883" fill="none" stroke="#222" stroke-width="2"/><path d="M365.5 873V807.3H426.2V817" fill="none" stroke="#222" stroke-width="2"/><path d="M488.8 867V775H552.3V784" fill="none" stroke="#222" stroke-width="2"/><text x="258.5" y="857.0" font-size="30" fill="#222" textLength="31.5" lengthAdjust="spacingAndGlyphs">ns</text><text x="383.5" y="815.0" font-size="34" font-weight="bold" fill="#222" textLength="27.5" lengthAdjust="spacingAndGlyphs">**</text><text x="508.0" y="778.0" font-size="34" font-weight="bold" fill="#222" textLength="28.0" lengthAdjust="spacingAndGlyphs">**</text><text x="241.7" y="1140.5" font-size="31" font-weight="bold" text-anchor="middle" fill="#222">-</text><text x="298.9" y="1139.5" font-size="31" font-weight="bold" text-anchor="middle" fill="#222">+</text><text x="366.2" y="1140.5" font-size="31" font-weight="bold" text-anchor="middle" fill="#222">-</text><text x="432.8" y="1139.5" font-size="31" font-weight="bold" text-anchor="middle" fill="#222">+</text><text x="490.4" y="1140.5" font-size="31" font-weight="bold" text-anchor="middle" fill="#222">-</text><text x="557.0" y="1139.5" font-size="31" font-weight="bold" text-anchor="middle" fill="#222">+</text><text x="127.0" y="1148.5" font-size="36.5" fill="#222" textLength="85.5" lengthAdjust="spacingAndGlyphs">Doxy</text><defs><filter id="grain" x="0" y="0" width="100%" height="100%"><feTurbulence type="fractalNoise" baseFrequency="0.9" numOctaves="2" seed="4"/><feColorMatrix values="0 0 0 0 0.5  0 0 0 0 0.5  0 0 0 0 0.5  0 0 0 0.12 0"/><feComposite in2="SourceGraphic" operator="in"/></filter><radialGradient id="cellg"><stop offset="0" stop-color="#b8b8b8"/><stop offset="0.7" stop-color="#a0a0a0"/><stop offset="1" stop-color="#555"/></radialGradient></defs><rect x="701.5" y="744.7" width="406.5" height="400.0" fill="#EBCB00"/><rect x="713.1" y="756.3" width="383.3" height="376.8" fill="#979797"/><rect x="713.1" y="756.3" width="383.3" height="376.8" fill="#fff" filter="url(#grain)" opacity="0.6"/><line x1="751.5" y1="1111.3" x2="790.6" y2="1111.3" stroke="#fff" stroke-width="2.8"/><line x1="751.5" y1="1106.8" x2="751.5" y2="1115.8" stroke="#fff" stroke-width="2.4"/><line x1="790.6" y1="1106.8" x2="790.6" y2="1115.8" stroke="#fff" stroke-width="2.4"/><rect x="1117.0" y="745.3" width="406.3" height="399.9" fill="#008A3B"/><rect x="1128.6" y="756.9" width="383.1" height="376.7" fill="#8d8e8e"/><rect x="1128.6" y="756.9" width="383.1" height="376.7" fill="#fff" filter="url(#grain)" opacity="0.6"/><line x1="1168.8" y1="1108.3" x2="1219.9" y2="1108.3" stroke="#fff" stroke-width="2.8"/><line x1="1168.8" y1="1103.8" x2="1168.8" y2="1112.8" stroke="#fff" stroke-width="2.4"/><line x1="1219.9" y1="1103.8" x2="1219.9" y2="1112.8" stroke="#fff" stroke-width="2.4"/><rect x="1534.6" y="745.3" width="406.0" height="400.3" fill="#3E51A0"/><rect x="1546.2" y="756.9" width="382.8" height="377.1" fill="#939393"/><rect x="1546.2" y="756.9" width="382.8" height="377.1" fill="#fff" filter="url(#grain)" opacity="0.6"/><line x1="1587.2" y1="1113.6" x2="1628.7" y2="1113.6" stroke="#fff" stroke-width="2.8"/><line x1="1587.2" y1="1109.1" x2="1587.2" y2="1118.1" stroke="#fff" stroke-width="2.4"/><line x1="1628.7" y1="1109.1" x2="1628.7" y2="1118.1" stroke="#fff" stroke-width="2.4"/><circle cx="836.7" cy="1002.3" r="10.4" fill="#a6a6a6" stroke="#4a4a4a" stroke-width="1.4"/><circle cx="835.1" cy="1001.3" r="5.7" fill="#c4c4c4" opacity="0.7"/><circle cx="839.8" cy="1004.9" r="1.9" fill="#707070" opacity="0.6"/><circle cx="1031.4" cy="817.5" r="7.0" fill="#a6a6a6" stroke="#4a4a4a" stroke-width="1.4"/><circle cx="1030.4" cy="816.8" r="3.9" fill="#c4c4c4" opacity="0.7"/><circle cx="1033.5" cy="819.2" r="1.3" fill="#707070" opacity="0.6"/><circle cx="1046.4" cy="813.4" r="5.0" fill="#a6a6a6" stroke="#4a4a4a" stroke-width="1.4"/><circle cx="1045.7" cy="812.9" r="2.8" fill="#c4c4c4" opacity="0.7"/><circle cx="1047.9" cy="814.6" r="0.9" fill="#707070" opacity="0.6"/><circle cx="1040.6" cy="903.9" r="4.0" fill="#a6a6a6" stroke="#4a4a4a" stroke-width="1.4"/><circle cx="1040.0" cy="903.5" r="2.2" fill="#c4c4c4" opacity="0.7"/><circle cx="1041.8" cy="904.9" r="0.7" fill="#707070" opacity="0.6"/><circle cx="860.9" cy="797.2" r="3.2" fill="#a6a6a6" stroke="#4a4a4a" stroke-width="1.4"/><circle cx="826.4" cy="927.4" r="3.2" fill="#a6a6a6" stroke="#4a4a4a" stroke-width="1.4"/><circle cx="867.8" cy="889.9" r="2.5" fill="#a6a6a6" stroke="#4a4a4a" stroke-width="1.4"/><circle cx="748.0" cy="824.9" r="2.8" fill="#a6a6a6" stroke="#4a4a4a" stroke-width="1.4"/><circle cx="737.6" cy="914.7" r="2.8" fill="#a6a6a6" stroke="#4a4a4a" stroke-width="1.4"/><circle cx="1079.8" cy="789.2" r="2.8" fill="#a6a6a6" stroke="#4a4a4a" stroke-width="1.4"/><circle cx="1024.5" cy="889.4" r="3.0" fill="#a6a6a6" stroke="#4a4a4a" stroke-width="1.4"/><circle cx="1023.3" cy="843.3" r="3.0" fill="#a6a6a6" stroke="#4a4a4a" stroke-width="1.4"/><circle cx="767.1" cy="983.2" r="3.0" fill="#a6a6a6" stroke="#4a4a4a" stroke-width="1.4"/><circle cx="771.7" cy="1033.9" r="3.2" fill="#a6a6a6" stroke="#4a4a4a" stroke-width="1.4"/><circle cx="904.7" cy="818.0" r="3.0" fill="#a6a6a6" stroke="#4a4a4a" stroke-width="1.4"/><circle cx="871.2" cy="1007.5" r="4.2" fill="#b4b4b4" stroke="#555" stroke-width="1.1"/><circle cx="874.3" cy="1007.7" r="4.0" fill="#b4b4b4" stroke="#555" stroke-width="1.1"/><circle cx="871.4" cy="1006.0" r="3.3" fill="#b4b4b4" stroke="#555" stroke-width="1.1"/><circle cx="869.4" cy="1002.9" r="3.1" fill="#b4b4b4" stroke="#555" stroke-width="1.1"/><circle cx="809.0" cy="998.4" r="3.7" fill="#b4b4b4" stroke="#555" stroke-width="1.1"/><circle cx="807.5" cy="997.4" r="3.2" fill="#b4b4b4" stroke="#555" stroke-width="1.1"/><circle cx="807.0" cy="997.8" r="3.6" fill="#b4b4b4" stroke="#555" stroke-width="1.1"/><circle cx="809.5" cy="999.1" r="3.3" fill="#b4b4b4" stroke="#555" stroke-width="1.1"/><circle cx="805.0" cy="999.0" r="3.6" fill="#b4b4b4" stroke="#555" stroke-width="1.1"/><circle cx="809.4" cy="997.3" r="3.5" fill="#b4b4b4" stroke="#555" stroke-width="1.1"/><circle cx="807.4" cy="996.2" r="2.5" fill="#b4b4b4" stroke="#555" stroke-width="1.1"/><circle cx="773.9" cy="1002.3" r="4.5" fill="#b4b4b4" stroke="#555" stroke-width="1.1"/><circle cx="774.2" cy="1005.2" r="3.4" fill="#b4b4b4" stroke="#555" stroke-width="1.1"/><circle cx="771.3" cy="1002.4" r="4.3" fill="#b4b4b4" stroke="#555" stroke-width="1.1"/><circle cx="765.8" cy="1001.9" r="3.6" fill="#b4b4b4" stroke="#555" stroke-width="1.1"/><circle cx="766.7" cy="1005.4" r="4.5" fill="#b4b4b4" stroke="#555" stroke-width="1.1"/><circle cx="767.0" cy="1007.6" r="4.4" fill="#b4b4b4" stroke="#555" stroke-width="1.1"/><circle cx="772.6" cy="1006.7" r="4.0" fill="#b4b4b4" stroke="#555" stroke-width="1.1"/><circle cx="945.5" cy="899.8" r="3.7" fill="#b4b4b4" stroke="#555" stroke-width="1.1"/><circle cx="943.8" cy="904.7" r="3.5" fill="#b4b4b4" stroke="#555" stroke-width="1.1"/><circle cx="943.7" cy="904.5" r="2.9" fill="#b4b4b4" stroke="#555" stroke-width="1.1"/><circle cx="947.8" cy="904.4" r="3.2" fill="#b4b4b4" stroke="#555" stroke-width="1.1"/><circle cx="1053.9" cy="797.0" r="1.7" fill="#b4b4b4" stroke="#555" stroke-width="1.1"/><circle cx="1052.8" cy="799.3" r="1.9" fill="#b4b4b4" stroke="#555" stroke-width="1.1"/><circle cx="1054.4" cy="796.3" r="2.0" fill="#b4b4b4" stroke="#555" stroke-width="1.1"/><circle cx="1055.0" cy="797.3" r="2.1" fill="#b4b4b4" stroke="#555" stroke-width="1.1"/><circle cx="862.5" cy="945.1" r="2.1" fill="#b4b4b4" stroke="#555" stroke-width="1.1"/><circle cx="864.5" cy="947.9" r="2.1" fill="#b4b4b4" stroke="#555" stroke-width="1.1"/><circle cx="866.9" cy="947.1" r="2.1" fill="#b4b4b4" stroke="#555" stroke-width="1.1"/><circle cx="863.5" cy="947.2" r="1.6" fill="#b4b4b4" stroke="#555" stroke-width="1.1"/><circle cx="934.8" cy="795.5" r="4.0" fill="#b4b4b4" stroke="#555" stroke-width="1.1"/><circle cx="939.6" cy="783.1" r="4.2" fill="#b4b4b4" stroke="#555" stroke-width="1.1"/><circle cx="935.6" cy="790.2" r="3.6" fill="#b4b4b4" stroke="#555" stroke-width="1.1"/><circle cx="936.4" cy="789.4" r="3.9" fill="#b4b4b4" stroke="#555" stroke-width="1.1"/><circle cx="938.7" cy="790.5" r="5.0" fill="#b4b4b4" stroke="#555" stroke-width="1.1"/><circle cx="936.5" cy="790.1" r="4.6" fill="#b4b4b4" stroke="#555" stroke-width="1.1"/><circle cx="934.4" cy="786.4" r="5.2" fill="#b4b4b4" stroke="#555" stroke-width="1.1"/><circle cx="939.7" cy="791.4" r="3.9" fill="#b4b4b4" stroke="#555" stroke-width="1.1"/><circle cx="808.7" cy="840.1" r="2.7" fill="#b4b4b4" stroke="#555" stroke-width="1.1"/><circle cx="808.4" cy="838.0" r="3.0" fill="#b4b4b4" stroke="#555" stroke-width="1.1"/><circle cx="810.4" cy="838.0" r="2.0" fill="#b4b4b4" stroke="#555" stroke-width="1.1"/><circle cx="806.0" cy="841.8" r="2.0" fill="#b4b4b4" stroke="#555" stroke-width="1.1"/><circle cx="811.4" cy="841.1" r="3.1" fill="#b4b4b4" stroke="#555" stroke-width="1.1"/><ellipse cx="779.0" cy="1065.6" rx="10" ry="5" fill="#b8b8b8" opacity="0.5" transform="rotate(0 779.0 1065.6)"/><ellipse cx="989.5" cy="864.0" rx="5" ry="5" fill="#b8b8b8" opacity="0.5" transform="rotate(0 989.5 864.0)"/><circle cx="1350.8" cy="873.7" r="10.4" fill="#a6a6a6" stroke="#4a4a4a" stroke-width="1.4"/><circle cx="1349.2" cy="872.7" r="5.7" fill="#c4c4c4" opacity="0.7"/><circle cx="1353.9" cy="876.3" r="1.9" fill="#707070" opacity="0.6"/><circle cx="1313.9" cy="935.5" r="10.0" fill="#a6a6a6" stroke="#4a4a4a" stroke-width="1.4"/><circle cx="1312.4" cy="934.5" r="5.5" fill="#c4c4c4" opacity="0.7"/><circle cx="1316.9" cy="938.0" r="1.8" fill="#707070" opacity="0.6"/><circle cx="1445.3" cy="955.7" r="10.5" fill="#a6a6a6" stroke="#4a4a4a" stroke-width="1.4"/><circle cx="1443.7" cy="954.7" r="5.8" fill="#c4c4c4" opacity="0.7"/><circle cx="1448.5" cy="958.3" r="1.9" fill="#707070" opacity="0.6"/><circle cx="1401.0" cy="1042.6" r="9.7" fill="#a6a6a6" stroke="#4a4a4a" stroke-width="1.4"/><circle cx="1399.5" cy="1041.6" r="5.3" fill="#c4c4c4" opacity="0.7"/><circle cx="1403.9" cy="1045.0" r="1.7" fill="#707070" opacity="0.6"/><circle cx="1486.0" cy="1051.8" r="8.8" fill="#a6a6a6" stroke="#4a4a4a" stroke-width="1.4"/><circle cx="1484.7" cy="1050.9" r="4.8" fill="#c4c4c4" opacity="0.7"/><circle cx="1488.6" cy="1054.0" r="1.6" fill="#707070" opacity="0.6"/><circle cx="1135.4" cy="814.0" r="8.0" fill="#a6a6a6" stroke="#4a4a4a" stroke-width="1.4"/><circle cx="1134.2" cy="813.2" r="4.4" fill="#c4c4c4" opacity="0.7"/><circle cx="1137.8" cy="816.0" r="1.4" fill="#707070" opacity="0.6"/><circle cx="1501.7" cy="955.0" r="7.5" fill="#a6a6a6" stroke="#4a4a4a" stroke-width="1.4"/><circle cx="1500.6" cy="954.2" r="4.1" fill="#c4c4c4" opacity="0.7"/><circle cx="1504.0" cy="956.9" r="1.3" fill="#707070" opacity="0.6"/><circle cx="1192.3" cy="788.7" r="4.6" fill="#a6a6a6" stroke="#4a4a4a" stroke-width="1.4"/><circle cx="1191.6" cy="788.2" r="2.5" fill="#c4c4c4" opacity="0.7"/><circle cx="1193.7" cy="789.9" r="0.8" fill="#707070" opacity="0.6"/><circle cx="1273.6" cy="857.0" r="3.5" fill="#a6a6a6" stroke="#4a4a4a" stroke-width="1.4"/><circle cx="1399.2" cy="843.3" r="3.5" fill="#a6a6a6" stroke="#4a4a4a" stroke-width="1.4"/><circle cx="1386.5" cy="890.5" r="3.0" fill="#a6a6a6" stroke="#4a4a4a" stroke-width="1.4"/><circle cx="1489.0" cy="929.7" r="4.0" fill="#a6a6a6" stroke="#4a4a4a" stroke-width="1.4"/><circle cx="1488.4" cy="929.3" r="2.2" fill="#c4c4c4" opacity="0.7"/><circle cx="1490.2" cy="930.7" r="0.7" fill="#707070" opacity="0.6"/><circle cx="1391.1" cy="1015.0" r="8.0" fill="#c0c0c0" stroke="#999" stroke-width="1"/><circle cx="1220.6" cy="911.3" r="3.5" fill="#d0d0d0" stroke="#888" stroke-width="1"/><ellipse cx="1276.0" cy="921.0" rx="8" ry="24" fill="#b8b8b8" opacity="0.35" transform="rotate(20 1276.0 921.0)"/><ellipse cx="1160.0" cy="878.0" rx="28" ry="6" fill="#b8b8b8" opacity="0.35" transform="rotate(25 1160.0 878.0)"/><ellipse cx="1180.0" cy="1064.0" rx="6" ry="18" fill="#b8b8b8" opacity="0.35" transform="rotate(-30 1180.0 1064.0)"/><ellipse cx="1365.0" cy="980.0" rx="15" ry="14" fill="#b8b8b8" opacity="0.35" transform="rotate(0 1365.0 980.0)"/><ellipse cx="1318.0" cy="985.0" rx="8" ry="16" fill="#b8b8b8" opacity="0.35" transform="rotate(10 1318.0 985.0)"/><ellipse cx="1148.0" cy="938.0" rx="8" ry="12" fill="#b8b8b8" opacity="0.35" transform="rotate(0 1148.0 938.0)"/><ellipse cx="1239.0" cy="953.0" rx="9" ry="12" fill="#b8b8b8" opacity="0.35" transform="rotate(0 1239.0 953.0)"/><ellipse cx="1263.2" cy="993" rx="6" ry="3" fill="#333" opacity="0.7"/><ellipse cx="1403.8" cy="982.7" rx="4" ry="3" fill="#333" opacity="0.7"/><ellipse cx="1411.8" cy="1000" rx="2" ry="2" fill="#333" opacity="0.7"/><circle cx="1433.1" cy="807.0" r="3.1" fill="#b4b4b4" stroke="#555" stroke-width="1.1"/><circle cx="1432.1" cy="805.4" r="3.5" fill="#b4b4b4" stroke="#555" stroke-width="1.1"/><circle cx="1432.0" cy="805.6" r="3.5" fill="#b4b4b4" stroke="#555" stroke-width="1.1"/><circle cx="1430.1" cy="804.1" r="2.9" fill="#b4b4b4" stroke="#555" stroke-width="1.1"/><circle cx="1430.7" cy="804.2" r="2.4" fill="#b4b4b4" stroke="#555" stroke-width="1.1"/><circle cx="1380.0" cy="1129.0" r="2.2" fill="#b4b4b4" stroke="#555" stroke-width="1.1"/><circle cx="1380.6" cy="1126.3" r="2.2" fill="#b4b4b4" stroke="#555" stroke-width="1.1"/><circle cx="1379.8" cy="1124.6" r="3.0" fill="#b4b4b4" stroke="#555" stroke-width="1.1"/><circle cx="1380.0" cy="1125.0" r="2.6" fill="#b4b4b4" stroke="#555" stroke-width="1.1"/><circle cx="1821.5" cy="801.3" r="8.4" fill="#b4b4b4" stroke="#555" stroke-width="1.1"/><circle cx="1826.7" cy="813.0" r="9.4" fill="#b4b4b4" stroke="#555" stroke-width="1.1"/><circle cx="1818.7" cy="809.5" r="9.3" fill="#b4b4b4" stroke="#555" stroke-width="1.1"/><circle cx="1818.9" cy="806.6" r="8.3" fill="#b4b4b4" stroke="#555" stroke-width="1.1"/><circle cx="1822.6" cy="808.7" r="8.9" fill="#b4b4b4" stroke="#555" stroke-width="1.1"/><circle cx="1819.1" cy="806.1" r="6.5" fill="#b4b4b4" stroke="#555" stroke-width="1.1"/><circle cx="1824.1" cy="807.6" r="7.5" fill="#b4b4b4" stroke="#555" stroke-width="1.1"/><circle cx="1816.9" cy="804.2" r="5.9" fill="#b4b4b4" stroke="#555" stroke-width="1.1"/><circle cx="1819.6" cy="814.7" r="8.6" fill="#b4b4b4" stroke="#555" stroke-width="1.1"/><circle cx="1815.7" cy="805.4" r="6.6" fill="#b4b4b4" stroke="#555" stroke-width="1.1"/><circle cx="1820.5" cy="806.5" r="8.5" fill="#b4b4b4" stroke="#555" stroke-width="1.1"/><circle cx="1813.0" cy="808.9" r="7.3" fill="#b4b4b4" stroke="#555" stroke-width="1.1"/><circle cx="1820.6" cy="810.8" r="8.2" fill="#b4b4b4" stroke="#555" stroke-width="1.1"/><circle cx="1820.0" cy="809.0" r="6.6" fill="#b4b4b4" stroke="#555" stroke-width="1.1"/><circle cx="1827.9" cy="804.5" r="8.0" fill="#b4b4b4" stroke="#555" stroke-width="1.1"/><circle cx="1811.6" cy="814.8" r="6.8" fill="#b4b4b4" stroke="#555" stroke-width="1.1"/><circle cx="1819.9" cy="808.7" r="8.2" fill="#b4b4b4" stroke="#555" stroke-width="1.1"/><circle cx="1828.8" cy="807.3" r="6.2" fill="#b4b4b4" stroke="#555" stroke-width="1.1"/><circle cx="1816.7" cy="806.6" r="9.2" fill="#b4b4b4" stroke="#555" stroke-width="1.1"/><circle cx="1820.1" cy="808.8" r="6.2" fill="#b4b4b4" stroke="#555" stroke-width="1.1"/><circle cx="1814.1" cy="818.2" r="7.9" fill="#b4b4b4" stroke="#555" stroke-width="1.1"/><circle cx="1819.7" cy="808.3" r="6.5" fill="#b4b4b4" stroke="#555" stroke-width="1.1"/><circle cx="1814.2" cy="814.2" r="8.6" fill="#b4b4b4" stroke="#555" stroke-width="1.1"/><circle cx="1816.9" cy="807.2" r="6.5" fill="#b4b4b4" stroke="#555" stroke-width="1.1"/><circle cx="1817.2" cy="810.3" r="8.6" fill="#b4b4b4" stroke="#555" stroke-width="1.1"/><circle cx="1827.9" cy="802.5" r="6.3" fill="#b4b4b4" stroke="#555" stroke-width="1.1"/><circle cx="1820.0" cy="808.6" r="6.4" fill="#b4b4b4" stroke="#555" stroke-width="1.1"/><circle cx="1818.8" cy="804.9" r="8.8" fill="#b4b4b4" stroke="#555" stroke-width="1.1"/><circle cx="1817.0" cy="801.3" r="8.0" fill="#b4b4b4" stroke="#555" stroke-width="1.1"/><circle cx="1829.0" cy="803.4" r="6.0" fill="#b4b4b4" stroke="#555" stroke-width="1.1"/><circle cx="1825.4" cy="808.3" r="6.9" fill="#b4b4b4" stroke="#555" stroke-width="1.1"/><circle cx="1827.9" cy="800.3" r="8.6" fill="#b4b4b4" stroke="#555" stroke-width="1.1"/><circle cx="1820.0" cy="808.7" r="6.9" fill="#b4b4b4" stroke="#555" stroke-width="1.1"/><circle cx="1824.8" cy="797.2" r="6.9" fill="#b4b4b4" stroke="#555" stroke-width="1.1"/><circle cx="1820.1" cy="807.4" r="8.5" fill="#b4b4b4" stroke="#555" stroke-width="1.1"/><circle cx="1819.4" cy="809.6" r="6.5" fill="#b4b4b4" stroke="#555" stroke-width="1.1"/><circle cx="1814.6" cy="806.3" r="8.3" fill="#b4b4b4" stroke="#555" stroke-width="1.1"/><circle cx="1815.6" cy="814.9" r="7.2" fill="#b4b4b4" stroke="#555" stroke-width="1.1"/><circle cx="1820.0" cy="808.7" r="8.0" fill="#b4b4b4" stroke="#555" stroke-width="1.1"/><circle cx="1819.4" cy="808.4" r="8.6" fill="#b4b4b4" stroke="#555" stroke-width="1.1"/><circle cx="1820.0" cy="808.8" r="21.5" fill="none" stroke="#555" stroke-width="1.2"/><circle cx="1775.1" cy="916.6" r="4.0" fill="#b4b4b4" stroke="#555" stroke-width="1.1"/><circle cx="1774.1" cy="912.3" r="6.0" fill="#b4b4b4" stroke="#555" stroke-width="1.1"/><circle cx="1780.2" cy="910.0" r="3.9" fill="#b4b4b4" stroke="#555" stroke-width="1.1"/><circle cx="1771.6" cy="913.7" r="3.9" fill="#b4b4b4" stroke="#555" stroke-width="1.1"/><circle cx="1773.6" cy="915.8" r="4.3" fill="#b4b4b4" stroke="#555" stroke-width="1.1"/><circle cx="1777.2" cy="912.1" r="4.0" fill="#b4b4b4" stroke="#555" stroke-width="1.1"/><circle cx="1771.2" cy="920.8" r="4.7" fill="#b4b4b4" stroke="#555" stroke-width="1.1"/><circle cx="1776.4" cy="915.9" r="5.0" fill="#b4b4b4" stroke="#555" stroke-width="1.1"/><circle cx="1774.5" cy="912.5" r="5.7" fill="#b4b4b4" stroke="#555" stroke-width="1.1"/><circle cx="1769.8" cy="914.4" r="5.1" fill="#b4b4b4" stroke="#555" stroke-width="1.1"/><circle cx="1773.4" cy="913.6" r="4.0" fill="#b4b4b4" stroke="#555" stroke-width="1.1"/><circle cx="1774.2" cy="908.7" r="5.4" fill="#b4b4b4" stroke="#555" stroke-width="1.1"/><circle cx="1775.6" cy="915.7" r="4.2" fill="#b4b4b4" stroke="#555" stroke-width="1.1"/><circle cx="1771.1" cy="913.7" r="3.8" fill="#b4b4b4" stroke="#555" stroke-width="1.1"/><circle cx="1781.6" cy="913.4" r="5.4" fill="#b4b4b4" stroke="#555" stroke-width="1.1"/><circle cx="1781.2" cy="915.0" r="4.9" fill="#b4b4b4" stroke="#555" stroke-width="1.1"/><circle cx="1777.1" cy="920.9" r="5.4" fill="#b4b4b4" stroke="#555" stroke-width="1.1"/><circle cx="1783.4" cy="913.2" r="4.9" fill="#b4b4b4" stroke="#555" stroke-width="1.1"/><circle cx="1794.9" cy="940.4" r="4.5" fill="#b4b4b4" stroke="#555" stroke-width="1.1"/><circle cx="1801.3" cy="949.7" r="6.4" fill="#b4b4b4" stroke="#555" stroke-width="1.1"/><circle cx="1797.5" cy="947.7" r="6.0" fill="#b4b4b4" stroke="#555" stroke-width="1.1"/><circle cx="1793.2" cy="946.5" r="5.1" fill="#b4b4b4" stroke="#555" stroke-width="1.1"/><circle cx="1800.7" cy="947.4" r="5.0" fill="#b4b4b4" stroke="#555" stroke-width="1.1"/><circle cx="1793.2" cy="948.9" r="5.9" fill="#b4b4b4" stroke="#555" stroke-width="1.1"/><circle cx="1792.2" cy="941.1" r="4.2" fill="#b4b4b4" stroke="#555" stroke-width="1.1"/><circle cx="1794.1" cy="941.8" r="6.4" fill="#b4b4b4" stroke="#555" stroke-width="1.1"/><circle cx="1797.0" cy="945.8" r="6.3" fill="#b4b4b4" stroke="#555" stroke-width="1.1"/><circle cx="1796.8" cy="951.4" r="6.1" fill="#b4b4b4" stroke="#555" stroke-width="1.1"/><circle cx="1801.7" cy="938.9" r="5.8" fill="#b4b4b4" stroke="#555" stroke-width="1.1"/><circle cx="1799.7" cy="942.3" r="4.8" fill="#b4b4b4" stroke="#555" stroke-width="1.1"/><circle cx="1799.3" cy="949.6" r="6.1" fill="#b4b4b4" stroke="#555" stroke-width="1.1"/><circle cx="1791.1" cy="947.7" r="4.5" fill="#b4b4b4" stroke="#555" stroke-width="1.1"/><circle cx="1801.1" cy="945.0" r="6.3" fill="#b4b4b4" stroke="#555" stroke-width="1.1"/><circle cx="1796.0" cy="938.8" r="5.2" fill="#b4b4b4" stroke="#555" stroke-width="1.1"/><circle cx="1800.0" cy="948.4" r="5.0" fill="#b4b4b4" stroke="#555" stroke-width="1.1"/><circle cx="1789.7" cy="951.1" r="5.0" fill="#b4b4b4" stroke="#555" stroke-width="1.1"/><ellipse cx="1760.0" cy="952.8" rx="16" ry="14" fill="#b8b8b8" opacity="0.45" transform="rotate(0 1760.0 952.8)"/><ellipse cx="1867.2" cy="936.6" rx="20" ry="18" fill="#b8b8b8" opacity="0.4" transform="rotate(0 1867.2 936.6)"/><circle cx="1582.6" cy="806.4" r="8.0" fill="#a6a6a6" stroke="#4a4a4a" stroke-width="1.4"/><circle cx="1581.4" cy="805.6" r="4.4" fill="#c4c4c4" opacity="0.7"/><circle cx="1585.0" cy="808.4" r="1.4" fill="#707070" opacity="0.6"/><circle cx="1573.4" cy="815.7" r="4.6" fill="#a6a6a6" stroke="#4a4a4a" stroke-width="1.4"/><circle cx="1572.7" cy="815.2" r="2.5" fill="#c4c4c4" opacity="0.7"/><circle cx="1574.8" cy="816.9" r="0.8" fill="#707070" opacity="0.6"/><circle cx="1581.0" cy="821.0" r="4.6" fill="#a6a6a6" stroke="#4a4a4a" stroke-width="1.4"/><circle cx="1580.3" cy="820.5" r="2.5" fill="#c4c4c4" opacity="0.7"/><circle cx="1582.4" cy="822.1" r="0.8" fill="#707070" opacity="0.6"/><circle cx="1722.0" cy="1018.4" r="9.2" fill="#a6a6a6" stroke="#4a4a4a" stroke-width="1.4"/><circle cx="1720.6" cy="1017.5" r="5.1" fill="#c4c4c4" opacity="0.7"/><circle cx="1724.8" cy="1020.7" r="1.7" fill="#707070" opacity="0.6"/><circle cx="1697.8" cy="1026.5" r="6.4" fill="#a6a6a6" stroke="#4a4a4a" stroke-width="1.4"/><circle cx="1696.8" cy="1025.9" r="3.5" fill="#c4c4c4" opacity="0.7"/><circle cx="1699.7" cy="1028.1" r="1.2" fill="#707070" opacity="0.6"/><circle cx="1697.4" cy="1017.3" r="4.6" fill="#a6a6a6" stroke="#4a4a4a" stroke-width="1.4"/><circle cx="1696.7" cy="1016.8" r="2.5" fill="#c4c4c4" opacity="0.7"/><circle cx="1698.8" cy="1018.4" r="0.8" fill="#707070" opacity="0.6"/><circle cx="1719.7" cy="845.0" r="4.0" fill="#a6a6a6" stroke="#4a4a4a" stroke-width="1.4"/><circle cx="1719.1" cy="844.6" r="2.2" fill="#c4c4c4" opacity="0.7"/><circle cx="1720.9" cy="846.0" r="0.7" fill="#707070" opacity="0.6"/><circle cx="1681.0" cy="845.0" r="3.5" fill="#a6a6a6" stroke="#4a4a4a" stroke-width="1.4"/><circle cx="1570.4" cy="878.3" r="4.6" fill="#a6a6a6" stroke="#4a4a4a" stroke-width="1.4"/><circle cx="1569.7" cy="877.8" r="2.5" fill="#c4c4c4" opacity="0.7"/><circle cx="1571.8" cy="879.4" r="0.8" fill="#707070" opacity="0.6"/><circle cx="1605.7" cy="858.3" r="3.5" fill="#a6a6a6" stroke="#4a4a4a" stroke-width="1.4"/><circle cx="1561.9" cy="924.4" r="4.0" fill="#a6a6a6" stroke="#4a4a4a" stroke-width="1.4"/><circle cx="1561.3" cy="924.0" r="2.2" fill="#c4c4c4" opacity="0.7"/><circle cx="1563.1" cy="925.4" r="0.7" fill="#707070" opacity="0.6"/><circle cx="1676.0" cy="1055.3" r="4.6" fill="#a6a6a6" stroke="#4a4a4a" stroke-width="1.4"/><circle cx="1675.3" cy="1054.8" r="2.5" fill="#c4c4c4" opacity="0.7"/><circle cx="1677.4" cy="1056.5" r="0.8" fill="#707070" opacity="0.6"/><circle cx="1636.3" cy="878.3" r="3.0" fill="#a6a6a6" stroke="#4a4a4a" stroke-width="1.4"/><circle cx="1551.7" cy="812.1" r="2.4" fill="#b4b4b4" stroke="#555" stroke-width="1.1"/><circle cx="1549.1" cy="812.6" r="1.7" fill="#b4b4b4" stroke="#555" stroke-width="1.1"/><circle cx="1552.1" cy="812.4" r="2.7" fill="#b4b4b4" stroke="#555" stroke-width="1.1"/><circle cx="1550.8" cy="814.2" r="2.7" fill="#b4b4b4" stroke="#555" stroke-width="1.1"/><circle cx="1551.3" cy="811.5" r="2.1" fill="#b4b4b4" stroke="#555" stroke-width="1.1"/><circle cx="1660.0" cy="996.2" r="2.4" fill="#b4b4b4" stroke="#555" stroke-width="1.1"/><circle cx="1657.4" cy="996.8" r="3.1" fill="#b4b4b4" stroke="#555" stroke-width="1.1"/><circle cx="1661.5" cy="993.6" r="2.9" fill="#b4b4b4" stroke="#555" stroke-width="1.1"/><circle cx="1657.4" cy="994.5" r="2.6" fill="#b4b4b4" stroke="#555" stroke-width="1.1"/><circle cx="1655.6" cy="991.9" r="2.4" fill="#b4b4b4" stroke="#555" stroke-width="1.1"/><circle cx="1657.1" cy="993.7" r="2.1" fill="#b4b4b4" stroke="#555" stroke-width="1.1"/><circle cx="1664.5" cy="1015.8" r="3.0" fill="#b4b4b4" stroke="#555" stroke-width="1.1"/><circle cx="1666.6" cy="1017.5" r="2.4" fill="#b4b4b4" stroke="#555" stroke-width="1.1"/><circle cx="1666.8" cy="1012.7" r="2.2" fill="#b4b4b4" stroke="#555" stroke-width="1.1"/><circle cx="1665.7" cy="1014.9" r="2.0" fill="#b4b4b4" stroke="#555" stroke-width="1.1"/><circle cx="1667.8" cy="1015.9" r="2.0" fill="#b4b4b4" stroke="#555" stroke-width="1.1"/><circle cx="1737.8" cy="1034.6" r="1.9" fill="#b4b4b4" stroke="#555" stroke-width="1.1"/><circle cx="1733.7" cy="1033.1" r="2.5" fill="#b4b4b4" stroke="#555" stroke-width="1.1"/><circle cx="1737.1" cy="1032.3" r="2.2" fill="#b4b4b4" stroke="#555" stroke-width="1.1"/><circle cx="1737.9" cy="1033.8" r="2.4" fill="#b4b4b4" stroke="#555" stroke-width="1.1"/><circle cx="1734.7" cy="1033.9" r="2.6" fill="#b4b4b4" stroke="#555" stroke-width="1.1"/><circle cx="1801.8" cy="1047.5" r="2.9" fill="#b4b4b4" stroke="#555" stroke-width="1.1"/><circle cx="1803.1" cy="1045.9" r="1.8" fill="#b4b4b4" stroke="#555" stroke-width="1.1"/><circle cx="1799.3" cy="1047.0" r="2.7" fill="#b4b4b4" stroke="#555" stroke-width="1.1"/><circle cx="1805.3" cy="1044.2" r="2.0" fill="#b4b4b4" stroke="#555" stroke-width="1.1"/><circle cx="1804.1" cy="1045.8" r="1.8" fill="#b4b4b4" stroke="#555" stroke-width="1.1"/><circle cx="1802.8" cy="1046.0" r="2.5" fill="#b4b4b4" stroke="#555" stroke-width="1.1"/><circle cx="1769.7" cy="853.0" r="1.9" fill="#b4b4b4" stroke="#555" stroke-width="1.1"/><circle cx="1767.7" cy="853.1" r="1.7" fill="#b4b4b4" stroke="#555" stroke-width="1.1"/><circle cx="1766.9" cy="851.5" r="1.4" fill="#b4b4b4" stroke="#555" stroke-width="1.1"/><path d="M1898 1038q-8 14 -2 30" fill="none" stroke="#555" stroke-width="6" opacity="0.6" stroke-linecap="round"/><path d="M1898 1038q-8 14 -2 30" fill="none" stroke="#bbb" stroke-width="3" opacity="0.8" stroke-linecap="round"/><defs><filter id="fcy" x="-30%" y="-20%" width="160%" height="140%" color-interpolation-filters="sRGB"><feTurbulence type="fractalNoise" baseFrequency="0.47" numOctaves="1" seed="3" result="n"/><feColorMatrix in="n" type="matrix" values="0 0 0 0 0 0 0 0 0 0 0 0 0 0 0 1 0 0 0 0" result="n0"/><feComponentTransfer in="n0" result="na"><feFuncA type="table" tableValues="0 0 0 0 0 0 0 0 0 .001 .004 .013 .028 .051 .089 .128 .183 .241 .314 .414 .496 .59 .69 .762 .825 .87 .909 .945 .969 .986 .995 .998 1 1 1 1 1 1 1 1 1"/></feComponentTransfer><feGaussianBlur in="SourceAlpha" stdDeviation="5" result="d"/><feComposite in="d" in2="na" operator="arithmetic" k2="1.25" k3="-1" k4="-0.01" result="df"/><feComponentTransfer in="df" result="th"><feFuncA type="linear" slope="30" intercept="0"/></feComponentTransfer><feFlood flood-color="#42BCEB"/><feComposite operator="in" in2="th"/></filter><filter id="frd" x="-30%" y="-20%" width="160%" height="140%" color-interpolation-filters="sRGB"><feTurbulence type="fractalNoise" baseFrequency="0.47" numOctaves="1" seed="11" result="n"/><feColorMatrix in="n" type="matrix" values="0 0 0 0 0 0 0 0 0 0 0 0 0 0 0 1 0 0 0 0" result="n0"/><feComponentTransfer in="n0" result="na"><feFuncA type="table" tableValues="0 0 0 0 0 0 0 0 0 .001 .004 .013 .028 .051 .089 .128 .183 .241 .314 .414 .496 .59 .69 .762 .825 .87 .909 .945 .969 .986 .995 .998 1 1 1 1 1 1 1 1 1"/></feComponentTransfer><feGaussianBlur in="SourceAlpha" stdDeviation="5" result="d"/><feComposite in="d" in2="na" operator="arithmetic" k2="1.25" k3="-1" k4="-0.01" result="df"/><feComponentTransfer in="df" result="th"><feFuncA type="linear" slope="30" intercept="0"/></feComponentTransfer><feFlood flood-color="#E63B3A"/><feComposite operator="in" in2="th"/></filter><filter id="frd2" x="-30%" y="-20%" width="160%" height="140%" color-interpolation-filters="sRGB"><feTurbulence type="fractalNoise" baseFrequency="0.47" numOctaves="1" seed="23" result="n"/><feColorMatrix in="n" type="matrix" values="0 0 0 0 0 0 0 0 0 0 0 0 0 0 0 1 0 0 0 0" result="n0"/><feComponentTransfer in="n0" result="na"><feFuncA type="table" tableValues="0 0 0 0 0 0 0 0 0 .001 .004 .013 .028 .051 .089 .128 .183 .241 .314 .414 .496 .59 .69 .762 .825 .87 .909 .945 .969 .986 .995 .998 1 1 1 1 1 1 1 1 1"/></feComponentTransfer><feGaussianBlur in="SourceAlpha" stdDeviation="5" result="d"/><feComposite in="d" in2="na" operator="arithmetic" k2="1.25" k3="-1" k4="-0.01" result="df"/><feComponentTransfer in="df" result="th"><feFuncA type="linear" slope="30" intercept="0"/></feComponentTransfer><feFlood flood-color="#E63B3A"/><feComposite operator="in" in2="th"/></filter></defs><text x="3.1" y="1234.5" font-size="54" font-weight="bold" textLength="33.5" lengthAdjust="spacingAndGlyphs">D</text><rect x="196.8" y="1209.5" width="37.8" height="37.6" fill="#42BCEB"/><rect x="398.9" y="1208.4" width="37.5" height="37.3" fill="#E63B3A"/><text x="241.5" y="1240.2" font-size="28.5" fill="#222">+</text><text x="278.5" y="1239.9" font-size="28.5" fill="#222" textLength="81.5" lengthAdjust="spacingAndGlyphs">DEAB</text><text x="446.2" y="1240.2" font-size="28.5" fill="#222">-</text><text x="473.7" y="1239.5" font-size="28.5" fill="#222" textLength="80.5" lengthAdjust="spacingAndGlyphs">DEAB</text><text x="458.3" y="1311.3" font-size="38" font-weight="bold" textLength="252.0" lengthAdjust="spacingAndGlyphs">D425 Parental</text><line x1="201.6" y1="1318.8" x2="996.5" y2="1318.8" stroke="#111" stroke-width="2.4"/><text x="1348.5" y="1311.7" font-size="38" font-weight="bold" textLength="250.0" lengthAdjust="spacingAndGlyphs">D425 KBTBD4</text><text x="1600.5" y="1296.7" font-size="21" font-weight="bold" textLength="33.0" lengthAdjust="spacingAndGlyphs">WT</text><line x1="1098.0" y1="1320.7" x2="1894.5" y2="1320.7" stroke="#111" stroke-width="2.4"/><text x="416.8" y="1826.2" font-size="38" font-weight="bold" textLength="250.5" lengthAdjust="spacingAndGlyphs">D425 KBTBD4</text><text x="669.3" y="1811.2" font-size="21" font-weight="bold" textLength="97.0" lengthAdjust="spacingAndGlyphs">R313PRR</text><line x1="197.0" y1="1833.5" x2="991.9" y2="1833.5" stroke="#111" stroke-width="2.4"/><text x="1354.1" y="1825.3" font-size="38" font-weight="bold" textLength="250.5" lengthAdjust="spacingAndGlyphs">D425 KBTBD4</text><text x="1606.6" y="1810.3" font-size="21" font-weight="bold" textLength="80.0" lengthAdjust="spacingAndGlyphs">P311PP</text><line x1="1126.3" y1="1832.2" x2="1920.8" y2="1832.2" stroke="#111" stroke-width="2.4"/><line x1="93.0" y1="1329.4" x2="93.0" y2="2235.0" stroke="#111" stroke-width="2.4"/><line x1="210.0" y1="2301.4" x2="1862.6" y2="2301.4" stroke="#111" stroke-width="2.4"/><text x="0.0" y="0.0" font-size="40" font-weight="900" fill="#1a1a1a" textLength="128.0" lengthAdjust="spacingAndGlyphs" stroke="#1a1a1a" stroke-width="1.2" transform="translate(78.4 1845.8) rotate(-90)">SSC-H</text><text x="793.3" y="2348.8" font-size="38" font-weight="900" fill="#1a1a1a" textLength="476.3" lengthAdjust="spacingAndGlyphs" stroke="#1a1a1a" stroke-width="1.2">Fluorescence Intensity</text><g filter="url(#frd)"><rect x="272" y="1395" width="148" height="297" rx="52" ry="59" fill-opacity="0.08"/><rect x="290" y="1400" width="90" height="280" rx="31" ry="45" fill-opacity="0.13"/><rect x="358" y="1500" width="42" height="165" rx="15" ry="21" fill-opacity="0.55"/><rect x="366" y="1420" width="44" height="100" rx="15" ry="20" fill-opacity="0.3"/></g><g filter="url(#fcy)"><rect x="300" y="1388" width="70" height="274" rx="24" ry="35" fill-opacity="0.5"/><rect x="312" y="1530" width="54" height="122" rx="19" ry="24" fill-opacity="0.9"/><rect x="282" y="1650" width="53" height="42" rx="19" ry="8" fill-opacity="0.15"/></g><g filter="url(#frd2)"><rect x="312" y="1530" width="54" height="122" rx="19" ry="24" fill-opacity="0.03"/><rect x="300" y="1390" width="70" height="140" rx="24" ry="28" fill-opacity="0.05"/></g><path d="M419 1627h2M404 1396h2M300 1684h2M253 1643h2M281 1409h2M389 1697h2M389 1429h2M415 1464h2M316 1410h2M378 1390h2M396 1639h2M357 1360h2M416 1482h2M328 1709h2M391 1711h2M278 1629h2M265 1591h2M415 1566h2M331 1683h2M389 1687h2M425 1566h2M282 1460h2M364 1382h2M275 1688h2M339 1377h2M262 1616h2M301 1348h2M285 1415h2M410 1511h2M304 1667h2M418 1549h2M275 1614h2M410 1616h2M293 1714h2M349 1692h2M273 1618h2M311 1408h2M318 1683h2M280 1426h2M322 1357h2M409 1610h2M427 1543h2M425 1524h2M328 1676h2M348 1384h2" stroke="#E63B3A" stroke-width="2" fill="none"/><path d="M283 1421h2M379 1486h2M371 1522h2M368 1618h2M296 1457h2M296 1660h2M279 1433h2M285 1396h2M311 1396h2M357 1448h2M368 1642h2M297 1697h2M332 1713h2M282 1519h2M277 1629h2M350 1411h2M345 1681h2M356 1423h2M302 1389h2M309 1385h2M303 1687h2M371 1433h2M384 1511h2M260 1521h2M299 1664h2" stroke="#42BCEB" stroke-width="2" fill="none"/><rect x="192.7" y="1333.8" width="385.4" height="385.1" fill="none" stroke="#111" stroke-width="2.0"/><polygon points="365.0,1362.6 530.6,1357.4 527.7,1703.9 303.9,1706.8 340.5,1671.9 364.4,1633.9 373.6,1587.8 375.9,1527.4 372.2,1492.8 367.8,1406.4" fill="none" stroke="#111" stroke-width="2.2" stroke-linejoin="miter"/><rect x="182.7" y="1335.4" width="10" height="6.6" fill="#111"/><rect x="182.7" y="1462.1" width="10" height="6.6" fill="#111"/><rect x="182.7" y="1587.4" width="10" height="6.6" fill="#111"/><rect x="182.7" y="1714.1" width="10" height="6.6" fill="#111"/><rect x="187.2" y="1684.4" width="5.5" height="2.8" fill="#111"/><rect x="187.2" y="1652.9" width="5.5" height="2.8" fill="#111"/><rect x="187.2" y="1621.3" width="5.5" height="2.8" fill="#111"/><rect x="187.2" y="1558.2" width="5.5" height="2.8" fill="#111"/><rect x="187.2" y="1526.7" width="5.5" height="2.8" fill="#111"/><rect x="187.2" y="1495.1" width="5.5" height="2.8" fill="#111"/><rect x="187.2" y="1432.0" width="5.5" height="2.8" fill="#111"/><rect x="187.2" y="1400.4" width="5.5" height="2.8" fill="#111"/><rect x="187.2" y="1368.9" width="5.5" height="2.8" fill="#111"/><text x="176.5" y="1351.4" font-size="30.5" text-anchor="end" fill="#111">6.0M</text><text x="176.5" y="1476.6" font-size="30.5" text-anchor="end" fill="#111">4.0M</text><text x="176.5" y="1601.9" font-size="30.5" text-anchor="end" fill="#111">2.0M</text><text x="176.5" y="1728.6" font-size="30.5" text-anchor="end" fill="#111">0</text><rect x="190.8" y="1718.9" width="7" height="10" fill="#111"/><rect x="256.6" y="1718.9" width="7" height="10" fill="#111"/><rect x="323.2" y="1718.9" width="7" height="10" fill="#111"/><rect x="390.3" y="1718.9" width="7" height="10" fill="#111"/><rect x="456.5" y="1718.9" width="7" height="10" fill="#111"/><rect x="524.2" y="1718.9" width="7" height="10" fill="#111"/><rect x="212.7" y="1718.9" width="3.4" height="4.5" fill="#111"/><rect x="224.4" y="1718.9" width="3.4" height="4.5" fill="#111"/><rect x="232.7" y="1718.9" width="3.4" height="4.5" fill="#111"/><rect x="238.3" y="1718.9" width="5.2" height="7" fill="#111"/><rect x="244.5" y="1718.9" width="3.4" height="4.5" fill="#111"/><rect x="249.0" y="1718.9" width="3.4" height="4.5" fill="#111"/><rect x="252.8" y="1718.9" width="3.4" height="4.5" fill="#111"/><rect x="256.2" y="1718.9" width="3.4" height="4.5" fill="#111"/><rect x="278.5" y="1718.9" width="3.4" height="4.5" fill="#111"/><rect x="290.2" y="1718.9" width="3.4" height="4.5" fill="#111"/><rect x="298.5" y="1718.9" width="3.4" height="4.5" fill="#111"/><rect x="304.1" y="1718.9" width="5.2" height="7" fill="#111"/><rect x="310.3" y="1718.9" width="3.4" height="4.5" fill="#111"/><rect x="314.8" y="1718.9" width="3.4" height="4.5" fill="#111"/><rect x="318.6" y="1718.9" width="3.4" height="4.5" fill="#111"/><rect x="322.0" y="1718.9" width="3.4" height="4.5" fill="#111"/><rect x="345.1" y="1718.9" width="3.4" height="4.5" fill="#111"/><rect x="356.8" y="1718.9" width="3.4" height="4.5" fill="#111"/><rect x="365.1" y="1718.9" width="3.4" height="4.5" fill="#111"/><rect x="370.7" y="1718.9" width="5.2" height="7" fill="#111"/><rect x="376.9" y="1718.9" width="3.4" height="4.5" fill="#111"/><rect x="381.4" y="1718.9" width="3.4" height="4.5" fill="#111"/><rect x="385.2" y="1718.9" width="3.4" height="4.5" fill="#111"/><rect x="388.6" y="1718.9" width="3.4" height="4.5" fill="#111"/><rect x="412.2" y="1718.9" width="3.4" height="4.5" fill="#111"/><rect x="423.9" y="1718.9" width="3.4" height="4.5" fill="#111"/><rect x="432.2" y="1718.9" width="3.4" height="4.5" fill="#111"/><rect x="437.8" y="1718.9" width="5.2" height="7" fill="#111"/><rect x="444.0" y="1718.9" width="3.4" height="4.5" fill="#111"/><rect x="448.5" y="1718.9" width="3.4" height="4.5" fill="#111"/><rect x="452.3" y="1718.9" width="3.4" height="4.5" fill="#111"/><rect x="455.7" y="1718.9" width="3.4" height="4.5" fill="#111"/><rect x="478.4" y="1718.9" width="3.4" height="4.5" fill="#111"/><rect x="490.1" y="1718.9" width="3.4" height="4.5" fill="#111"/><rect x="498.4" y="1718.9" width="3.4" height="4.5" fill="#111"/><rect x="504.0" y="1718.9" width="5.2" height="7" fill="#111"/><rect x="510.2" y="1718.9" width="3.4" height="4.5" fill="#111"/><rect x="514.7" y="1718.9" width="3.4" height="4.5" fill="#111"/><rect x="518.5" y="1718.9" width="3.4" height="4.5" fill="#111"/><rect x="521.9" y="1718.9" width="3.4" height="4.5" fill="#111"/><rect x="546.1" y="1718.9" width="3.4" height="4.5" fill="#111"/><rect x="557.8" y="1718.9" width="3.4" height="4.5" fill="#111"/><rect x="566.1" y="1718.9" width="3.4" height="4.5" fill="#111"/><rect x="571.7" y="1718.9" width="5.2" height="7" fill="#111"/><text x="194.6" y="1754.6" font-size="30.4" fill="#111" textLength="31.0" lengthAdjust="spacingAndGlyphs">10</text><text x="226.6" y="1745.1" font-size="18" fill="#111">3</text><text x="254.7" y="1754.6" font-size="30.4" fill="#111" textLength="31.0" lengthAdjust="spacingAndGlyphs">10</text><text x="286.7" y="1745.1" font-size="18" fill="#111">4</text><text x="321.5" y="1754.6" font-size="30.4" fill="#111" textLength="31.0" lengthAdjust="spacingAndGlyphs">10</text><text x="353.5" y="1745.1" font-size="18" fill="#111">5</text><text x="389.5" y="1754.6" font-size="30.4" fill="#111" textLength="31.0" lengthAdjust="spacingAndGlyphs">10</text><text x="421.5" y="1745.1" font-size="18" fill="#111">6</text><text x="455.5" y="1754.6" font-size="30.4" fill="#111" textLength="31.0" lengthAdjust="spacingAndGlyphs">10</text><text x="487.5" y="1745.1" font-size="18" fill="#111">7</text><text x="523.3" y="1754.6" font-size="30.4" fill="#111" textLength="31.0" lengthAdjust="spacingAndGlyphs">10</text><text x="555.3" y="1745.1" font-size="18" fill="#111">8</text><text x="211.8" y="1374.3" font-size="31" font-weight="bold" fill="#111" textLength="103.0" lengthAdjust="spacingAndGlyphs">- LSD1i</text><text x="462.4" y="1391.9" font-size="27.4" fill="#111" textLength="61.5" lengthAdjust="spacingAndGlyphs">8.8%</text><g filter="url(#frd)"><rect x="680" y="1395" width="170" height="297" rx="59" ry="59" fill-opacity="0.07"/><rect x="700" y="1395" width="75" height="265" rx="26" ry="38" fill-opacity="0.12"/><rect x="762" y="1520" width="50" height="135" rx="18" ry="25" fill-opacity="0.62"/><rect x="770" y="1415" width="60" height="115" rx="21" ry="23" fill-opacity="0.28"/></g><g filter="url(#fcy)"><rect x="704" y="1388" width="68" height="274" rx="24" ry="34" fill-opacity="0.5"/><rect x="720" y="1522" width="48" height="128" rx="17" ry="24" fill-opacity="0.9"/><rect x="680" y="1650" width="42" height="45" rx="15" ry="9" fill-opacity="0.15"/></g><g filter="url(#frd2)"><rect x="720" y="1522" width="48" height="128" rx="17" ry="24" fill-opacity="0.03"/><rect x="704" y="1390" width="68" height="130" rx="24" ry="26" fill-opacity="0.05"/></g><path d="M796 1407h2M855 1545h2M865 1487h2M661 1532h2M878 1549h2M735 1707h2M754 1361h2M716 1685h2M694 1503h2M844 1513h2M742 1405h2M675 1498h2M798 1414h2M668 1619h2M831 1656h2M816 1347h2M875 1472h2M819 1402h2M689 1421h2M803 1376h2M821 1704h2M825 1709h2M849 1642h2M730 1358h2M752 1712h2M833 1398h2M867 1526h2M686 1641h2M714 1433h2M723 1401h2M731 1701h2M857 1471h2M846 1481h2M831 1579h2M705 1660h2M784 1368h2M850 1407h2M646 1561h2M809 1343h2M755 1369h2M722 1677h2M840 1557h2M764 1395h2M797 1710h2M812 1343h2" stroke="#E63B3A" stroke-width="2" fill="none"/><path d="M752 1367h2M718 1705h2M769 1511h2M683 1456h2M675 1591h2M702 1683h2M717 1706h2M684 1634h2M705 1389h2M687 1430h2M683 1496h2M755 1641h2M759 1462h2M726 1359h2M678 1591h2M674 1341h2M682 1699h2M697 1655h2M767 1344h2M763 1459h2M766 1651h2M773 1568h2M769 1478h2M726 1397h2M770 1517h2" stroke="#42BCEB" stroke-width="2" fill="none"/><rect x="607.3" y="1332.5" width="384.5" height="383.7" fill="none" stroke="#111" stroke-width="2.0"/><polygon points="760.5,1361.9 923.2,1357.6 921.8,1699.7 703.5,1702.6 759.0,1635.5 769.1,1590.9 772.9,1533.3 768.3,1461.3" fill="none" stroke="#111" stroke-width="2.2" stroke-linejoin="miter"/><rect x="597.3" y="1332.7" width="10" height="6.6" fill="#111"/><rect x="597.3" y="1460.0" width="10" height="6.6" fill="#111"/><rect x="597.3" y="1587.0" width="10" height="6.6" fill="#111"/><rect x="597.3" y="1711.4" width="10" height="6.6" fill="#111"/><rect x="601.8" y="1681.7" width="5.5" height="2.8" fill="#111"/><rect x="601.8" y="1650.2" width="5.5" height="2.8" fill="#111"/><rect x="601.8" y="1618.6" width="5.5" height="2.8" fill="#111"/><rect x="601.8" y="1555.5" width="5.5" height="2.8" fill="#111"/><rect x="601.8" y="1523.9" width="5.5" height="2.8" fill="#111"/><rect x="601.8" y="1492.4" width="5.5" height="2.8" fill="#111"/><rect x="601.8" y="1429.3" width="5.5" height="2.8" fill="#111"/><rect x="601.8" y="1397.7" width="5.5" height="2.8" fill="#111"/><rect x="601.8" y="1366.2" width="5.5" height="2.8" fill="#111"/><rect x="604.3" y="1716.2" width="7" height="10" fill="#111"/><rect x="671.2" y="1716.2" width="7" height="10" fill="#111"/><rect x="736.8" y="1716.2" width="7" height="10" fill="#111"/><rect x="803.6" y="1716.2" width="7" height="10" fill="#111"/><rect x="870.7" y="1716.2" width="7" height="10" fill="#111"/><rect x="937.8" y="1716.2" width="7" height="10" fill="#111"/><rect x="626.2" y="1716.2" width="3.4" height="4.5" fill="#111"/><rect x="637.9" y="1716.2" width="3.4" height="4.5" fill="#111"/><rect x="646.3" y="1716.2" width="3.4" height="4.5" fill="#111"/><rect x="651.8" y="1716.2" width="5.2" height="7" fill="#111"/><rect x="658.0" y="1716.2" width="3.4" height="4.5" fill="#111"/><rect x="662.5" y="1716.2" width="3.4" height="4.5" fill="#111"/><rect x="666.3" y="1716.2" width="3.4" height="4.5" fill="#111"/><rect x="669.7" y="1716.2" width="3.4" height="4.5" fill="#111"/><rect x="693.1" y="1716.2" width="3.4" height="4.5" fill="#111"/><rect x="704.8" y="1716.2" width="3.4" height="4.5" fill="#111"/><rect x="713.2" y="1716.2" width="3.4" height="4.5" fill="#111"/><rect x="718.7" y="1716.2" width="5.2" height="7" fill="#111"/><rect x="724.9" y="1716.2" width="3.4" height="4.5" fill="#111"/><rect x="729.4" y="1716.2" width="3.4" height="4.5" fill="#111"/><rect x="733.2" y="1716.2" width="3.4" height="4.5" fill="#111"/><rect x="736.6" y="1716.2" width="3.4" height="4.5" fill="#111"/><rect x="758.7" y="1716.2" width="3.4" height="4.5" fill="#111"/><rect x="770.4" y="1716.2" width="3.4" height="4.5" fill="#111"/><rect x="778.8" y="1716.2" width="3.4" height="4.5" fill="#111"/><rect x="784.3" y="1716.2" width="5.2" height="7" fill="#111"/><rect x="790.5" y="1716.2" width="3.4" height="4.5" fill="#111"/><rect x="795.0" y="1716.2" width="3.4" height="4.5" fill="#111"/><rect x="798.8" y="1716.2" width="3.4" height="4.5" fill="#111"/><rect x="802.2" y="1716.2" width="3.4" height="4.5" fill="#111"/><rect x="825.5" y="1716.2" width="3.4" height="4.5" fill="#111"/><rect x="837.2" y="1716.2" width="3.4" height="4.5" fill="#111"/><rect x="845.6" y="1716.2" width="3.4" height="4.5" fill="#111"/><rect x="851.1" y="1716.2" width="5.2" height="7" fill="#111"/><rect x="857.3" y="1716.2" width="3.4" height="4.5" fill="#111"/><rect x="861.8" y="1716.2" width="3.4" height="4.5" fill="#111"/><rect x="865.6" y="1716.2" width="3.4" height="4.5" fill="#111"/><rect x="869.0" y="1716.2" width="3.4" height="4.5" fill="#111"/><rect x="892.6" y="1716.2" width="3.4" height="4.5" fill="#111"/><rect x="904.3" y="1716.2" width="3.4" height="4.5" fill="#111"/><rect x="912.7" y="1716.2" width="3.4" height="4.5" fill="#111"/><rect x="918.2" y="1716.2" width="5.2" height="7" fill="#111"/><rect x="924.4" y="1716.2" width="3.4" height="4.5" fill="#111"/><rect x="928.9" y="1716.2" width="3.4" height="4.5" fill="#111"/><rect x="932.7" y="1716.2" width="3.4" height="4.5" fill="#111"/><rect x="936.1" y="1716.2" width="3.4" height="4.5" fill="#111"/><rect x="959.7" y="1716.2" width="3.4" height="4.5" fill="#111"/><rect x="971.4" y="1716.2" width="3.4" height="4.5" fill="#111"/><rect x="979.8" y="1716.2" width="3.4" height="4.5" fill="#111"/><rect x="985.3" y="1716.2" width="5.2" height="7" fill="#111"/><text x="607.5" y="1752.5" font-size="30.4" fill="#111" textLength="31.0" lengthAdjust="spacingAndGlyphs">10</text><text x="639.5" y="1743.0" font-size="18" fill="#111">3</text><text x="668.3" y="1752.5" font-size="30.4" fill="#111" textLength="31.0" lengthAdjust="spacingAndGlyphs">10</text><text x="700.3" y="1743.0" font-size="18" fill="#111">4</text><text x="735.9" y="1752.5" font-size="30.4" fill="#111" textLength="31.0" lengthAdjust="spacingAndGlyphs">10</text><text x="767.9" y="1743.0" font-size="18" fill="#111">5</text><text x="803.5" y="1752.5" font-size="30.4" fill="#111" textLength="31.0" lengthAdjust="spacingAndGlyphs">10</text><text x="835.5" y="1743.0" font-size="18" fill="#111">6</text><text x="869.9" y="1752.5" font-size="30.4" fill="#111" textLength="31.0" lengthAdjust="spacingAndGlyphs">10</text><text x="901.9" y="1743.0" font-size="18" fill="#111">7</text><text x="937.5" y="1752.5" font-size="30.4" fill="#111" textLength="31.0" lengthAdjust="spacingAndGlyphs">10</text><text x="969.5" y="1743.0" font-size="18" fill="#111">8</text><text x="622.2" y="1372.5" font-size="31" font-weight="bold" fill="#111" textLength="111.0" lengthAdjust="spacingAndGlyphs">+ LSD1i</text><text x="827.1" y="1391.6" font-size="27.4" fill="#111" textLength="78.0" lengthAdjust="spacingAndGlyphs">48.2%</text><g filter="url(#frd)"><rect x="1275" y="1500" width="50" height="100" rx="18" ry="20" fill-opacity="0.025"/><polygon points="1265,1505 1284,1505 1284,1640 1276,1676 1254,1680 1264,1630" fill-opacity="0.72"/></g><g filter="url(#fcy)"><polygon points="1229,1503 1270,1503 1271,1600 1263,1668 1240,1684 1212,1676 1208,1640 1214,1585 1222,1540" fill-opacity="0.45"/><polygon points="1232,1530 1268,1530 1266,1640 1255,1672 1226,1674 1220,1620 1225,1560" fill-opacity="0.95"/></g><g filter="url(#frd2)"><rect x="1236" y="1580" width="28" height="88" rx="10" ry="14" fill-opacity="0.03"/></g><path d="M1279 1588h2M1272 1537h2M1318 1504h2M1282 1580h2M1266 1555h2M1311 1491h2M1287 1593h2M1327 1536h2M1277 1588h2M1319 1518h2M1320 1500h2M1295 1490h2M1318 1593h2M1315 1592h2M1335 1569h2M1317 1595h2M1322 1520h2M1287 1507h2M1318 1584h2M1315 1506h2M1320 1522h2M1284 1509h2M1273 1536h2M1307 1601h2M1293 1597h2M1300 1502h2M1266 1541h2M1296 1501h2M1316 1510h2M1291 1598h2M1269 1549h2M1311 1600h2M1294 1501h2M1324 1574h2M1312 1606h2M1312 1595h2M1290 1504h2M1312 1600h2M1274 1559h2M1339 1581h2M1283 1512h2M1302 1493h2M1316 1607h2M1268 1546h2M1303 1605h2" stroke="#E63B3A" stroke-width="2" fill="none"/><rect x="1096.2" y="1333.3" width="384.5" height="384.2" fill="none" stroke="#111" stroke-width="2.0"/><polygon points="1271.8,1347.0 1271.8,1348.4 1425.8,1351.2 1421.7,1351.1 1421.6,1706.5 1219.3,1707.8 1253.0,1667.2 1266.8,1629.0 1272.4,1587.6" fill="none" stroke="#111" stroke-width="2.2" stroke-linejoin="miter"/><rect x="1086.2" y="1352.0" width="10" height="6.6" fill="#111"/><rect x="1086.2" y="1424.7" width="10" height="6.6" fill="#111"/><rect x="1086.2" y="1496.3" width="10" height="6.6" fill="#111"/><rect x="1086.2" y="1569.1" width="10" height="6.6" fill="#111"/><rect x="1086.2" y="1640.9" width="10" height="6.6" fill="#111"/><rect x="1086.2" y="1712.8" width="10" height="6.6" fill="#111"/><rect x="1090.7" y="1696.7" width="5.5" height="2.8" fill="#111"/><rect x="1090.7" y="1678.6" width="5.5" height="2.8" fill="#111"/><rect x="1090.7" y="1660.6" width="5.5" height="2.8" fill="#111"/><rect x="1090.7" y="1624.5" width="5.5" height="2.8" fill="#111"/><rect x="1090.7" y="1606.5" width="5.5" height="2.8" fill="#111"/><rect x="1090.7" y="1588.4" width="5.5" height="2.8" fill="#111"/><rect x="1090.7" y="1552.3" width="5.5" height="2.8" fill="#111"/><rect x="1090.7" y="1534.3" width="5.5" height="2.8" fill="#111"/><rect x="1090.7" y="1516.3" width="5.5" height="2.8" fill="#111"/><rect x="1090.7" y="1480.2" width="5.5" height="2.8" fill="#111"/><rect x="1090.7" y="1462.1" width="5.5" height="2.8" fill="#111"/><rect x="1090.7" y="1444.1" width="5.5" height="2.8" fill="#111"/><rect x="1090.7" y="1408.0" width="5.5" height="2.8" fill="#111"/><rect x="1090.7" y="1390.0" width="5.5" height="2.8" fill="#111"/><rect x="1090.7" y="1371.9" width="5.5" height="2.8" fill="#111"/><rect x="1090.7" y="1335.9" width="5.5" height="2.8" fill="#111"/><text x="1082.4" y="1362.6" font-size="30.5" text-anchor="end" fill="#111">5.0M</text><text x="1082.4" y="1439.2" font-size="30.5" text-anchor="end" fill="#111">4.0M</text><text x="1082.4" y="1510.8" font-size="30.5" text-anchor="end" fill="#111">3.0M</text><text x="1082.4" y="1583.6" font-size="30.5" text-anchor="end" fill="#111">2.0M</text><text x="1082.4" y="1655.4" font-size="30.5" text-anchor="end" fill="#111">1.0M</text><text x="1082.4" y="1727.3" font-size="30.5" text-anchor="end" fill="#111">0</text><rect x="1093.8" y="1717.5" width="7" height="10" fill="#111"/><rect x="1165.7" y="1717.5" width="7" height="10" fill="#111"/><rect x="1239.8" y="1717.5" width="7" height="10" fill="#111"/><rect x="1311.7" y="1717.5" width="7" height="10" fill="#111"/><rect x="1385.0" y="1717.5" width="7" height="10" fill="#111"/><rect x="1458.3" y="1717.5" width="7" height="10" fill="#111"/><rect x="1117.5" y="1717.5" width="3.4" height="4.5" fill="#111"/><rect x="1130.4" y="1717.5" width="3.4" height="4.5" fill="#111"/><rect x="1139.5" y="1717.5" width="3.4" height="4.5" fill="#111"/><rect x="1145.7" y="1717.5" width="5.2" height="7" fill="#111"/><rect x="1152.3" y="1717.5" width="3.4" height="4.5" fill="#111"/><rect x="1157.2" y="1717.5" width="3.4" height="4.5" fill="#111"/><rect x="1161.4" y="1717.5" width="3.4" height="4.5" fill="#111"/><rect x="1165.2" y="1717.5" width="3.4" height="4.5" fill="#111"/><rect x="1189.4" y="1717.5" width="3.4" height="4.5" fill="#111"/><rect x="1202.3" y="1717.5" width="3.4" height="4.5" fill="#111"/><rect x="1211.4" y="1717.5" width="3.4" height="4.5" fill="#111"/><rect x="1217.6" y="1717.5" width="5.2" height="7" fill="#111"/><rect x="1224.2" y="1717.5" width="3.4" height="4.5" fill="#111"/><rect x="1229.1" y="1717.5" width="3.4" height="4.5" fill="#111"/><rect x="1233.3" y="1717.5" width="3.4" height="4.5" fill="#111"/><rect x="1237.1" y="1717.5" width="3.4" height="4.5" fill="#111"/><rect x="1263.5" y="1717.5" width="3.4" height="4.5" fill="#111"/><rect x="1276.4" y="1717.5" width="3.4" height="4.5" fill="#111"/><rect x="1285.5" y="1717.5" width="3.4" height="4.5" fill="#111"/><rect x="1291.7" y="1717.5" width="5.2" height="7" fill="#111"/><rect x="1298.3" y="1717.5" width="3.4" height="4.5" fill="#111"/><rect x="1303.2" y="1717.5" width="3.4" height="4.5" fill="#111"/><rect x="1307.4" y="1717.5" width="3.4" height="4.5" fill="#111"/><rect x="1311.2" y="1717.5" width="3.4" height="4.5" fill="#111"/><rect x="1335.4" y="1717.5" width="3.4" height="4.5" fill="#111"/><rect x="1348.3" y="1717.5" width="3.4" height="4.5" fill="#111"/><rect x="1357.4" y="1717.5" width="3.4" height="4.5" fill="#111"/><rect x="1363.6" y="1717.5" width="5.2" height="7" fill="#111"/><rect x="1370.2" y="1717.5" width="3.4" height="4.5" fill="#111"/><rect x="1375.1" y="1717.5" width="3.4" height="4.5" fill="#111"/><rect x="1379.3" y="1717.5" width="3.4" height="4.5" fill="#111"/><rect x="1383.1" y="1717.5" width="3.4" height="4.5" fill="#111"/><rect x="1408.7" y="1717.5" width="3.4" height="4.5" fill="#111"/><rect x="1421.6" y="1717.5" width="3.4" height="4.5" fill="#111"/><rect x="1430.7" y="1717.5" width="3.4" height="4.5" fill="#111"/><rect x="1436.9" y="1717.5" width="5.2" height="7" fill="#111"/><rect x="1443.5" y="1717.5" width="3.4" height="4.5" fill="#111"/><rect x="1448.4" y="1717.5" width="3.4" height="4.5" fill="#111"/><rect x="1452.6" y="1717.5" width="3.4" height="4.5" fill="#111"/><rect x="1456.4" y="1717.5" width="3.4" height="4.5" fill="#111"/><text x="1093.9" y="1753.5" font-size="30.4" fill="#111" textLength="31.0" lengthAdjust="spacingAndGlyphs">10</text><text x="1125.9" y="1744.0" font-size="18" fill="#111">2</text><text x="1164.5" y="1753.5" font-size="30.4" fill="#111" textLength="31.0" lengthAdjust="spacingAndGlyphs">10</text><text x="1196.5" y="1744.0" font-size="18" fill="#111">3</text><text x="1234.9" y="1753.5" font-size="30.4" fill="#111" textLength="31.0" lengthAdjust="spacingAndGlyphs">10</text><text x="1266.9" y="1744.0" font-size="18" fill="#111">4</text><text x="1308.2" y="1753.5" font-size="30.4" fill="#111" textLength="31.0" lengthAdjust="spacingAndGlyphs">10</text><text x="1340.2" y="1744.0" font-size="18" fill="#111">5</text><text x="1382.8" y="1753.5" font-size="30.4" fill="#111" textLength="31.0" lengthAdjust="spacingAndGlyphs">10</text><text x="1414.8" y="1744.0" font-size="18" fill="#111">6</text><text x="1122.5" y="1374.7" font-size="31" font-weight="bold" fill="#111" textLength="103.0" lengthAdjust="spacingAndGlyphs">- LSD1i</text><text x="1330.7" y="1392.6" font-size="27.4" fill="#111" textLength="75.0" lengthAdjust="spacingAndGlyphs">12.2%</text><g filter="url(#frd)"><rect x="1610" y="1495" width="150" height="191" rx="52" ry="38" fill-opacity="0.05"/><rect x="1684" y="1496" width="68" height="188" rx="24" ry="34" fill-opacity="0.35"/><rect x="1682" y="1510" width="50" height="168" rx="18" ry="25" fill-opacity="0.62"/></g><g filter="url(#fcy)"><rect x="1618" y="1500" width="75" height="178" rx="26" ry="36" fill-opacity="0.45"/><rect x="1628" y="1518" width="62" height="156" rx="22" ry="31" fill-opacity="0.95"/></g><g filter="url(#frd2)"><rect x="1630" y="1540" width="60" height="132" rx="21" ry="26" fill-opacity="0.03"/></g><path d="M1686 1489h2M1731 1491h2M1649 1489h2M1586 1621h2M1761 1686h2M1688 1689h2M1637 1677h2M1622 1517h2M1643 1508h2M1692 1701h2M1727 1688h2M1700 1488h2M1657 1684h2M1720 1499h2M1604 1500h2M1594 1651h2M1678 1481h2M1747 1545h2M1666 1457h2M1666 1493h2M1774 1631h2M1585 1603h2M1613 1677h2M1760 1508h2M1614 1661h2M1665 1450h2M1758 1596h2M1628 1652h2M1745 1507h2M1605 1624h2M1660 1501h2M1613 1587h2M1751 1623h2M1596 1510h2M1702 1495h2M1653 1501h2M1686 1494h2M1738 1684h2M1649 1500h2M1731 1667h2M1698 1702h2M1643 1704h2M1739 1711h2M1773 1557h2M1608 1631h2" stroke="#E63B3A" stroke-width="2" fill="none"/><path d="M1656 1471h2M1667 1674h2M1610 1538h2M1620 1588h2M1658 1491h2M1687 1531h2M1630 1514h2M1656 1485h2M1702 1571h2M1685 1524h2M1658 1499h2M1628 1487h2M1662 1685h2M1654 1671h2M1667 1498h2M1691 1518h2M1663 1467h2M1645 1674h2M1677 1673h2M1682 1510h2M1600 1525h2M1697 1618h2M1646 1682h2M1687 1646h2M1705 1593h2" stroke="#42BCEB" stroke-width="2" fill="none"/><rect x="1510.3" y="1332.7" width="384.7" height="385.0" fill="none" stroke="#111" stroke-width="2.0"/><polygon points="1691.3,1362.0 1850.3,1360.0 1845.6,1360.0 1840.5,1705.0 1636.0,1707.0 1685.8,1654.3 1691.9,1593.4 1694.7,1551.5" fill="none" stroke="#111" stroke-width="2.2" stroke-linejoin="miter"/><rect x="1500.3" y="1351.2" width="10" height="6.6" fill="#111"/><rect x="1500.3" y="1423.7" width="10" height="6.6" fill="#111"/><rect x="1500.3" y="1495.7" width="10" height="6.6" fill="#111"/><rect x="1500.3" y="1567.7" width="10" height="6.6" fill="#111"/><rect x="1500.3" y="1639.7" width="10" height="6.6" fill="#111"/><rect x="1500.3" y="1712.2" width="10" height="6.6" fill="#111"/><rect x="1504.8" y="1696.0" width="5.5" height="2.8" fill="#111"/><rect x="1504.8" y="1678.0" width="5.5" height="2.8" fill="#111"/><rect x="1504.8" y="1659.9" width="5.5" height="2.8" fill="#111"/><rect x="1504.8" y="1623.8" width="5.5" height="2.8" fill="#111"/><rect x="1504.8" y="1605.8" width="5.5" height="2.8" fill="#111"/><rect x="1504.8" y="1587.8" width="5.5" height="2.8" fill="#111"/><rect x="1504.8" y="1551.6" width="5.5" height="2.8" fill="#111"/><rect x="1504.8" y="1533.6" width="5.5" height="2.8" fill="#111"/><rect x="1504.8" y="1515.5" width="5.5" height="2.8" fill="#111"/><rect x="1504.8" y="1479.4" width="5.5" height="2.8" fill="#111"/><rect x="1504.8" y="1461.4" width="5.5" height="2.8" fill="#111"/><rect x="1504.8" y="1443.3" width="5.5" height="2.8" fill="#111"/><rect x="1504.8" y="1407.2" width="5.5" height="2.8" fill="#111"/><rect x="1504.8" y="1389.2" width="5.5" height="2.8" fill="#111"/><rect x="1504.8" y="1371.1" width="5.5" height="2.8" fill="#111"/><rect x="1504.8" y="1335.0" width="5.5" height="2.8" fill="#111"/><rect x="1507.4" y="1717.7" width="7" height="10" fill="#111"/><rect x="1580.3" y="1717.7" width="7" height="10" fill="#111"/><rect x="1653.5" y="1717.7" width="7" height="10" fill="#111"/><rect x="1726.1" y="1717.7" width="7" height="10" fill="#111"/><rect x="1799.5" y="1717.7" width="7" height="10" fill="#111"/><rect x="1872.8" y="1717.7" width="7" height="10" fill="#111"/><rect x="1531.2" y="1717.7" width="3.4" height="4.5" fill="#111"/><rect x="1544.1" y="1717.7" width="3.4" height="4.5" fill="#111"/><rect x="1553.2" y="1717.7" width="3.4" height="4.5" fill="#111"/><rect x="1559.4" y="1717.7" width="5.2" height="7" fill="#111"/><rect x="1566.1" y="1717.7" width="3.4" height="4.5" fill="#111"/><rect x="1571.0" y="1717.7" width="3.4" height="4.5" fill="#111"/><rect x="1575.2" y="1717.7" width="3.4" height="4.5" fill="#111"/><rect x="1578.9" y="1717.7" width="3.4" height="4.5" fill="#111"/><rect x="1604.1" y="1717.7" width="3.4" height="4.5" fill="#111"/><rect x="1617.0" y="1717.7" width="3.4" height="4.5" fill="#111"/><rect x="1626.1" y="1717.7" width="3.4" height="4.5" fill="#111"/><rect x="1632.3" y="1717.7" width="5.2" height="7" fill="#111"/><rect x="1639.0" y="1717.7" width="3.4" height="4.5" fill="#111"/><rect x="1643.9" y="1717.7" width="3.4" height="4.5" fill="#111"/><rect x="1648.1" y="1717.7" width="3.4" height="4.5" fill="#111"/><rect x="1651.8" y="1717.7" width="3.4" height="4.5" fill="#111"/><rect x="1677.3" y="1717.7" width="3.4" height="4.5" fill="#111"/><rect x="1690.2" y="1717.7" width="3.4" height="4.5" fill="#111"/><rect x="1699.3" y="1717.7" width="3.4" height="4.5" fill="#111"/><rect x="1705.5" y="1717.7" width="5.2" height="7" fill="#111"/><rect x="1712.2" y="1717.7" width="3.4" height="4.5" fill="#111"/><rect x="1717.1" y="1717.7" width="3.4" height="4.5" fill="#111"/><rect x="1721.3" y="1717.7" width="3.4" height="4.5" fill="#111"/><rect x="1725.0" y="1717.7" width="3.4" height="4.5" fill="#111"/><rect x="1749.9" y="1717.7" width="3.4" height="4.5" fill="#111"/><rect x="1762.8" y="1717.7" width="3.4" height="4.5" fill="#111"/><rect x="1771.9" y="1717.7" width="3.4" height="4.5" fill="#111"/><rect x="1778.1" y="1717.7" width="5.2" height="7" fill="#111"/><rect x="1784.8" y="1717.7" width="3.4" height="4.5" fill="#111"/><rect x="1789.7" y="1717.7" width="3.4" height="4.5" fill="#111"/><rect x="1793.9" y="1717.7" width="3.4" height="4.5" fill="#111"/><rect x="1797.6" y="1717.7" width="3.4" height="4.5" fill="#111"/><rect x="1823.3" y="1717.7" width="3.4" height="4.5" fill="#111"/><rect x="1836.2" y="1717.7" width="3.4" height="4.5" fill="#111"/><rect x="1845.3" y="1717.7" width="3.4" height="4.5" fill="#111"/><rect x="1851.5" y="1717.7" width="5.2" height="7" fill="#111"/><rect x="1858.2" y="1717.7" width="3.4" height="4.5" fill="#111"/><rect x="1863.1" y="1717.7" width="3.4" height="4.5" fill="#111"/><rect x="1867.3" y="1717.7" width="3.4" height="4.5" fill="#111"/><rect x="1871.0" y="1717.7" width="3.4" height="4.5" fill="#111"/><text x="1510.2" y="1753.5" font-size="30.4" fill="#111" textLength="31.0" lengthAdjust="spacingAndGlyphs">10</text><text x="1542.2" y="1744.0" font-size="18" fill="#111">2</text><text x="1581.5" y="1753.5" font-size="30.4" fill="#111" textLength="31.0" lengthAdjust="spacingAndGlyphs">10</text><text x="1613.5" y="1744.0" font-size="18" fill="#111">3</text><text x="1652.5" y="1753.5" font-size="30.4" fill="#111" textLength="31.0" lengthAdjust="spacingAndGlyphs">10</text><text x="1684.5" y="1744.0" font-size="18" fill="#111">4</text><text x="1726.5" y="1753.5" font-size="30.4" fill="#111" textLength="31.0" lengthAdjust="spacingAndGlyphs">10</text><text x="1758.5" y="1744.0" font-size="18" fill="#111">5</text><text x="1800.5" y="1753.5" font-size="30.4" fill="#111" textLength="31.0" lengthAdjust="spacingAndGlyphs">10</text><text x="1832.5" y="1744.0" font-size="18" fill="#111">6</text><text x="1543.7" y="1374.0" font-size="31" font-weight="bold" fill="#111" textLength="111.0" lengthAdjust="spacingAndGlyphs">+ LSD1i</text><text x="1755.1" y="1397.8" font-size="27.4" fill="#111" textLength="77.0" lengthAdjust="spacingAndGlyphs">40.7%</text><g filter="url(#frd)"><rect x="286" y="2000" width="159" height="206" rx="56" ry="41" fill-opacity="0.07"/><rect x="364" y="2005" width="61" height="197" rx="21" ry="30" fill-opacity="0.4"/><rect x="362" y="2045" width="52" height="150" rx="18" ry="26" fill-opacity="0.66"/></g><g filter="url(#fcy)"><rect x="304" y="2008" width="67" height="192" rx="23" ry="34" fill-opacity="0.5"/><rect x="316" y="2035" width="54" height="155" rx="19" ry="27" fill-opacity="0.95"/></g><g filter="url(#frd2)"><rect x="316" y="2035" width="54" height="155" rx="19" ry="27" fill-opacity="0.03"/></g><path d="M396 2222h2M368 2209h2M353 1967h2M287 2091h2M404 1994h2M428 2055h2M280 2125h2M431 2169h2M352 2212h2M337 1992h2M420 2190h2M424 2186h2M438 2179h2M292 2060h2M468 2055h2M479 2083h2M391 2214h2M310 2181h2M299 2171h2M444 2215h2M399 1993h2M254 2065h2M289 2040h2M300 2161h2M349 2005h2M487 2063h2M408 1969h2M298 2042h2M282 2086h2M445 2032h2M402 2202h2M458 2084h2M434 2047h2M339 1987h2M426 2194h2M354 2201h2M343 1997h2M479 2186h2M352 2223h2M438 2188h2M274 2096h2M298 2167h2M369 2210h2M314 2021h2M340 2013h2" stroke="#E63B3A" stroke-width="2" fill="none"/><path d="M359 2029h2M370 2119h2M369 2006h2M351 2214h2M357 1988h2M304 2012h2M316 2022h2M295 2092h2M330 2012h2M306 2039h2M371 2067h2M317 2195h2M347 2202h2M295 2107h2M313 2029h2M307 2113h2M329 1976h2M376 2115h2M312 2050h2M307 1982h2M321 2188h2M325 2221h2M295 2031h2M369 2064h2M306 2096h2" stroke="#42BCEB" stroke-width="2" fill="none"/><rect x="191.6" y="1853.4" width="385.0" height="384.6" fill="none" stroke="#111" stroke-width="2.0"/><polygon points="370.7,1906.7 535.5,1906.7 534.0,2227.8 312.5,2229.3 352.0,2193.3 367.8,2160.2 372.2,2096.8 371.6,1981.6" fill="none" stroke="#111" stroke-width="2.2" stroke-linejoin="miter"/><rect x="181.6" y="1873.2" width="10" height="6.6" fill="#111"/><rect x="181.6" y="1945.2" width="10" height="6.6" fill="#111"/><rect x="181.6" y="2017.2" width="10" height="6.6" fill="#111"/><rect x="181.6" y="2089.2" width="10" height="6.6" fill="#111"/><rect x="181.6" y="2161.2" width="10" height="6.6" fill="#111"/><rect x="181.6" y="2233.2" width="10" height="6.6" fill="#111"/><rect x="186.1" y="2217.1" width="5.5" height="2.8" fill="#111"/><rect x="186.1" y="2199.1" width="5.5" height="2.8" fill="#111"/><rect x="186.1" y="2181.1" width="5.5" height="2.8" fill="#111"/><rect x="186.1" y="2145.1" width="5.5" height="2.8" fill="#111"/><rect x="186.1" y="2127.1" width="5.5" height="2.8" fill="#111"/><rect x="186.1" y="2109.1" width="5.5" height="2.8" fill="#111"/><rect x="186.1" y="2073.1" width="5.5" height="2.8" fill="#111"/><rect x="186.1" y="2055.1" width="5.5" height="2.8" fill="#111"/><rect x="186.1" y="2037.1" width="5.5" height="2.8" fill="#111"/><rect x="186.1" y="2001.1" width="5.5" height="2.8" fill="#111"/><rect x="186.1" y="1983.1" width="5.5" height="2.8" fill="#111"/><rect x="186.1" y="1965.1" width="5.5" height="2.8" fill="#111"/><rect x="186.1" y="1929.1" width="5.5" height="2.8" fill="#111"/><rect x="186.1" y="1911.1" width="5.5" height="2.8" fill="#111"/><rect x="186.1" y="1893.1" width="5.5" height="2.8" fill="#111"/><rect x="186.1" y="1857.1" width="5.5" height="2.8" fill="#111"/><text x="177.8" y="1888.0" font-size="30.5" text-anchor="end" fill="#111">5.0M</text><text x="177.8" y="1959.7" font-size="30.5" text-anchor="end" fill="#111">4.0M</text><text x="177.8" y="2031.7" font-size="30.5" text-anchor="end" fill="#111">3.0M</text><text x="177.8" y="2103.7" font-size="30.5" text-anchor="end" fill="#111">2.0M</text><text x="177.8" y="2175.7" font-size="30.5" text-anchor="end" fill="#111">1.0M</text><text x="177.8" y="2247.7" font-size="30.5" text-anchor="end" fill="#111">0</text><rect x="190.1" y="2238.0" width="7" height="10" fill="#111"/><rect x="262.1" y="2238.0" width="7" height="10" fill="#111"/><rect x="335.0" y="2238.0" width="7" height="10" fill="#111"/><rect x="407.5" y="2238.0" width="7" height="10" fill="#111"/><rect x="480.5" y="2238.0" width="7" height="10" fill="#111"/><rect x="554.5" y="2238.0" width="7" height="10" fill="#111"/><rect x="213.8" y="2238.0" width="3.4" height="4.5" fill="#111"/><rect x="226.7" y="2238.0" width="3.4" height="4.5" fill="#111"/><rect x="235.8" y="2238.0" width="3.4" height="4.5" fill="#111"/><rect x="241.9" y="2238.0" width="5.2" height="7" fill="#111"/><rect x="248.6" y="2238.0" width="3.4" height="4.5" fill="#111"/><rect x="253.5" y="2238.0" width="3.4" height="4.5" fill="#111"/><rect x="257.7" y="2238.0" width="3.4" height="4.5" fill="#111"/><rect x="261.4" y="2238.0" width="3.4" height="4.5" fill="#111"/><rect x="285.8" y="2238.0" width="3.4" height="4.5" fill="#111"/><rect x="298.7" y="2238.0" width="3.4" height="4.5" fill="#111"/><rect x="307.8" y="2238.0" width="3.4" height="4.5" fill="#111"/><rect x="313.9" y="2238.0" width="5.2" height="7" fill="#111"/><rect x="320.6" y="2238.0" width="3.4" height="4.5" fill="#111"/><rect x="325.5" y="2238.0" width="3.4" height="4.5" fill="#111"/><rect x="329.7" y="2238.0" width="3.4" height="4.5" fill="#111"/><rect x="333.4" y="2238.0" width="3.4" height="4.5" fill="#111"/><rect x="358.7" y="2238.0" width="3.4" height="4.5" fill="#111"/><rect x="371.6" y="2238.0" width="3.4" height="4.5" fill="#111"/><rect x="380.7" y="2238.0" width="3.4" height="4.5" fill="#111"/><rect x="386.8" y="2238.0" width="5.2" height="7" fill="#111"/><rect x="393.5" y="2238.0" width="3.4" height="4.5" fill="#111"/><rect x="398.4" y="2238.0" width="3.4" height="4.5" fill="#111"/><rect x="402.6" y="2238.0" width="3.4" height="4.5" fill="#111"/><rect x="406.3" y="2238.0" width="3.4" height="4.5" fill="#111"/><rect x="431.2" y="2238.0" width="3.4" height="4.5" fill="#111"/><rect x="444.1" y="2238.0" width="3.4" height="4.5" fill="#111"/><rect x="453.2" y="2238.0" width="3.4" height="4.5" fill="#111"/><rect x="459.3" y="2238.0" width="5.2" height="7" fill="#111"/><rect x="466.0" y="2238.0" width="3.4" height="4.5" fill="#111"/><rect x="470.9" y="2238.0" width="3.4" height="4.5" fill="#111"/><rect x="475.1" y="2238.0" width="3.4" height="4.5" fill="#111"/><rect x="478.8" y="2238.0" width="3.4" height="4.5" fill="#111"/><rect x="504.2" y="2238.0" width="3.4" height="4.5" fill="#111"/><rect x="517.1" y="2238.0" width="3.4" height="4.5" fill="#111"/><rect x="526.2" y="2238.0" width="3.4" height="4.5" fill="#111"/><rect x="532.3" y="2238.0" width="5.2" height="7" fill="#111"/><rect x="539.0" y="2238.0" width="3.4" height="4.5" fill="#111"/><rect x="543.9" y="2238.0" width="3.4" height="4.5" fill="#111"/><rect x="548.1" y="2238.0" width="3.4" height="4.5" fill="#111"/><rect x="551.8" y="2238.0" width="3.4" height="4.5" fill="#111"/><text x="189.2" y="2275.5" font-size="30.4" fill="#111" textLength="31.0" lengthAdjust="spacingAndGlyphs">10</text><text x="221.2" y="2266.0" font-size="18" fill="#111">2</text><text x="259.8" y="2275.5" font-size="30.4" fill="#111" textLength="31.0" lengthAdjust="spacingAndGlyphs">10</text><text x="291.8" y="2266.0" font-size="18" fill="#111">3</text><text x="331.8" y="2275.5" font-size="30.4" fill="#111" textLength="31.0" lengthAdjust="spacingAndGlyphs">10</text><text x="363.8" y="2266.0" font-size="18" fill="#111">4</text><text x="403.8" y="2275.5" font-size="30.4" fill="#111" textLength="31.0" lengthAdjust="spacingAndGlyphs">10</text><text x="435.8" y="2266.0" font-size="18" fill="#111">5</text><text x="477.2" y="2275.5" font-size="30.4" fill="#111" textLength="31.0" lengthAdjust="spacingAndGlyphs">10</text><text x="509.2" y="2266.0" font-size="18" fill="#111">6</text><text x="214.7" y="1891.0" font-size="31" font-weight="bold" fill="#111" textLength="103.0" lengthAdjust="spacingAndGlyphs">- LSD1i</text><text x="447.4" y="1944.2" font-size="27.4" fill="#111" textLength="76.0" lengthAdjust="spacingAndGlyphs">59.1%</text><g filter="url(#frd)"><rect x="698" y="1998" width="174" height="208" rx="61" ry="42" fill-opacity="0.07"/><rect x="782" y="2000" width="66" height="202" rx="23" ry="33" fill-opacity="0.4"/><rect x="780" y="2040" width="48" height="152" rx="17" ry="24" fill-opacity="0.66"/></g><g filter="url(#fcy)"><rect x="720" y="2006" width="72" height="192" rx="25" ry="36" fill-opacity="0.5"/><rect x="733" y="2040" width="56" height="150" rx="20" ry="28" fill-opacity="0.95"/></g><g filter="url(#frd2)"><rect x="733" y="2040" width="56" height="150" rx="20" ry="28" fill-opacity="0.03"/></g><path d="M749 1991h2M786 2220h2M806 2224h2M786 2212h2M691 2150h2M869 2068h2M859 2204h2M859 2057h2M922 2088h2M841 2209h2M688 2083h2M737 2009h2M700 2030h2M849 1991h2M730 2183h2M705 2111h2M742 1987h2M723 2177h2M693 2152h2M692 2001h2M879 2084h2M869 2163h2M663 2131h2M761 2213h2M863 2042h2M692 2087h2M693 2063h2M749 1999h2M698 2059h2M681 2100h2M879 2082h2M861 2056h2M849 2012h2M885 2077h2M824 2222h2M864 2036h2M667 2052h2M870 2130h2M893 2110h2M745 2016h2M689 2060h2M837 2009h2M773 2230h2M687 2053h2M689 2050h2" stroke="#E63B3A" stroke-width="2" fill="none"/><path d="M787 2056h2M721 2151h2M725 2033h2M743 2217h2M723 2067h2M736 2001h2M801 2100h2M703 2070h2M750 1994h2M791 2149h2M785 2022h2M722 2194h2M801 2089h2M777 2014h2M710 2175h2M727 2182h2M748 2210h2M715 2107h2M723 2140h2M733 1992h2M773 2232h2M792 2122h2M738 2012h2M777 1996h2M733 2005h2" stroke="#42BCEB" stroke-width="2" fill="none"/><rect x="612.7" y="1851.4" width="385.3" height="385.1" fill="none" stroke="#111" stroke-width="2.0"/><polygon points="792.2,1882.2 945.7,1882.2 945.7,2225.0 749.0,2223.5 785.0,2167.4 789.3,2125.6 795.0,2081.0" fill="none" stroke="#111" stroke-width="2.2" stroke-linejoin="miter"/><rect x="602.7" y="1870.3" width="10" height="6.6" fill="#111"/><rect x="602.7" y="1942.9" width="10" height="6.6" fill="#111"/><rect x="602.7" y="2015.2" width="10" height="6.6" fill="#111"/><rect x="602.7" y="2087.2" width="10" height="6.6" fill="#111"/><rect x="602.7" y="2159.2" width="10" height="6.6" fill="#111"/><rect x="602.7" y="2231.2" width="10" height="6.6" fill="#111"/><rect x="607.2" y="2215.1" width="5.5" height="2.8" fill="#111"/><rect x="607.2" y="2197.0" width="5.5" height="2.8" fill="#111"/><rect x="607.2" y="2179.0" width="5.5" height="2.8" fill="#111"/><rect x="607.2" y="2142.9" width="5.5" height="2.8" fill="#111"/><rect x="607.2" y="2124.8" width="5.5" height="2.8" fill="#111"/><rect x="607.2" y="2106.8" width="5.5" height="2.8" fill="#111"/><rect x="607.2" y="2070.7" width="5.5" height="2.8" fill="#111"/><rect x="607.2" y="2052.7" width="5.5" height="2.8" fill="#111"/><rect x="607.2" y="2034.6" width="5.5" height="2.8" fill="#111"/><rect x="607.2" y="1998.5" width="5.5" height="2.8" fill="#111"/><rect x="607.2" y="1980.5" width="5.5" height="2.8" fill="#111"/><rect x="607.2" y="1962.4" width="5.5" height="2.8" fill="#111"/><rect x="607.2" y="1926.3" width="5.5" height="2.8" fill="#111"/><rect x="607.2" y="1908.3" width="5.5" height="2.8" fill="#111"/><rect x="607.2" y="1890.2" width="5.5" height="2.8" fill="#111"/><rect x="607.2" y="1854.2" width="5.5" height="2.8" fill="#111"/><rect x="610.1" y="2236.5" width="7" height="10" fill="#111"/><rect x="682.7" y="2236.5" width="7" height="10" fill="#111"/><rect x="755.5" y="2236.5" width="7" height="10" fill="#111"/><rect x="828.4" y="2236.5" width="7" height="10" fill="#111"/><rect x="901.0" y="2236.5" width="7" height="10" fill="#111"/><rect x="975.3" y="2236.5" width="7" height="10" fill="#111"/><rect x="633.9" y="2236.5" width="3.4" height="4.5" fill="#111"/><rect x="646.7" y="2236.5" width="3.4" height="4.5" fill="#111"/><rect x="655.9" y="2236.5" width="3.4" height="4.5" fill="#111"/><rect x="662.1" y="2236.5" width="5.2" height="7" fill="#111"/><rect x="668.7" y="2236.5" width="3.4" height="4.5" fill="#111"/><rect x="673.6" y="2236.5" width="3.4" height="4.5" fill="#111"/><rect x="677.9" y="2236.5" width="3.4" height="4.5" fill="#111"/><rect x="681.6" y="2236.5" width="3.4" height="4.5" fill="#111"/><rect x="706.5" y="2236.5" width="3.4" height="4.5" fill="#111"/><rect x="719.3" y="2236.5" width="3.4" height="4.5" fill="#111"/><rect x="728.5" y="2236.5" width="3.4" height="4.5" fill="#111"/><rect x="734.7" y="2236.5" width="5.2" height="7" fill="#111"/><rect x="741.3" y="2236.5" width="3.4" height="4.5" fill="#111"/><rect x="746.2" y="2236.5" width="3.4" height="4.5" fill="#111"/><rect x="750.5" y="2236.5" width="3.4" height="4.5" fill="#111"/><rect x="754.2" y="2236.5" width="3.4" height="4.5" fill="#111"/><rect x="779.3" y="2236.5" width="3.4" height="4.5" fill="#111"/><rect x="792.1" y="2236.5" width="3.4" height="4.5" fill="#111"/><rect x="801.3" y="2236.5" width="3.4" height="4.5" fill="#111"/><rect x="807.5" y="2236.5" width="5.2" height="7" fill="#111"/><rect x="814.1" y="2236.5" width="3.4" height="4.5" fill="#111"/><rect x="819.0" y="2236.5" width="3.4" height="4.5" fill="#111"/><rect x="823.3" y="2236.5" width="3.4" height="4.5" fill="#111"/><rect x="827.0" y="2236.5" width="3.4" height="4.5" fill="#111"/><rect x="852.2" y="2236.5" width="3.4" height="4.5" fill="#111"/><rect x="865.0" y="2236.5" width="3.4" height="4.5" fill="#111"/><rect x="874.2" y="2236.5" width="3.4" height="4.5" fill="#111"/><rect x="880.4" y="2236.5" width="5.2" height="7" fill="#111"/><rect x="887.0" y="2236.5" width="3.4" height="4.5" fill="#111"/><rect x="891.9" y="2236.5" width="3.4" height="4.5" fill="#111"/><rect x="896.2" y="2236.5" width="3.4" height="4.5" fill="#111"/><rect x="899.9" y="2236.5" width="3.4" height="4.5" fill="#111"/><rect x="924.8" y="2236.5" width="3.4" height="4.5" fill="#111"/><rect x="937.6" y="2236.5" width="3.4" height="4.5" fill="#111"/><rect x="946.8" y="2236.5" width="3.4" height="4.5" fill="#111"/><rect x="953.0" y="2236.5" width="5.2" height="7" fill="#111"/><rect x="959.6" y="2236.5" width="3.4" height="4.5" fill="#111"/><rect x="964.5" y="2236.5" width="3.4" height="4.5" fill="#111"/><rect x="968.8" y="2236.5" width="3.4" height="4.5" fill="#111"/><rect x="972.5" y="2236.5" width="3.4" height="4.5" fill="#111"/><text x="606.3" y="2275.5" font-size="30.4" fill="#111" textLength="31.0" lengthAdjust="spacingAndGlyphs">10</text><text x="638.3" y="2266.0" font-size="18" fill="#111">2</text><text x="676.9" y="2275.5" font-size="30.4" fill="#111" textLength="31.0" lengthAdjust="spacingAndGlyphs">10</text><text x="708.9" y="2266.0" font-size="18" fill="#111">3</text><text x="748.9" y="2275.5" font-size="30.4" fill="#111" textLength="31.0" lengthAdjust="spacingAndGlyphs">10</text><text x="780.9" y="2266.0" font-size="18" fill="#111">4</text><text x="822.3" y="2275.5" font-size="30.4" fill="#111" textLength="31.0" lengthAdjust="spacingAndGlyphs">10</text><text x="854.3" y="2266.0" font-size="18" fill="#111">5</text><text x="895.8" y="2275.5" font-size="30.4" fill="#111" textLength="31.0" lengthAdjust="spacingAndGlyphs">10</text><text x="927.8" y="2266.0" font-size="18" fill="#111">6</text><text x="646.7" y="1892.3" font-size="31" font-weight="bold" fill="#111" textLength="111.0" lengthAdjust="spacingAndGlyphs">+ LSD1i</text><text x="857.3" y="1921.0" font-size="27.4" fill="#111" textLength="78.0" lengthAdjust="spacingAndGlyphs">60.6%</text><g filter="url(#frd)"><rect x="1220" y="2010" width="155" height="192" rx="54" ry="38" fill-opacity="0.07"/><rect x="1294" y="2012" width="58" height="188" rx="20" ry="29" fill-opacity="0.4"/><rect x="1290" y="2030" width="48" height="160" rx="17" ry="24" fill-opacity="0.66"/></g><g filter="url(#fcy)"><rect x="1232" y="2014" width="70" height="184" rx="24" ry="35" fill-opacity="0.5"/><rect x="1241" y="2054" width="60" height="129" rx="21" ry="26" fill-opacity="0.95"/></g><g filter="url(#frd2)"><rect x="1245" y="2052" width="54" height="133" rx="19" ry="27" fill-opacity="0.03"/></g><path d="M1202 2082h2M1245 2027h2M1385 2142h2M1366 2217h2M1257 2005h2M1386 2152h2M1300 1956h2M1225 2143h2M1225 2124h2M1225 2153h2M1316 2011h2M1379 2190h2M1323 2202h2M1217 2086h2M1220 1998h2M1254 2002h2M1245 1967h2M1330 2018h2M1342 2198h2M1381 2062h2M1244 2041h2M1301 1990h2M1365 2087h2M1373 2056h2M1296 1977h2M1267 1976h2M1242 2006h2M1228 2157h2M1320 2205h2M1360 2025h2M1210 1955h2M1377 2100h2M1377 2116h2M1361 2170h2M1362 2133h2M1300 2008h2M1362 2211h2M1298 2202h2M1241 2192h2M1338 2024h2M1234 1974h2M1240 2018h2M1327 2211h2M1359 2131h2M1277 2204h2" stroke="#E63B3A" stroke-width="2" fill="none"/><path d="M1307 2096h2M1217 2098h2M1301 2031h2M1296 2143h2M1246 2211h2M1232 2116h2M1234 2062h2M1300 2117h2M1301 2099h2M1234 2184h2M1239 2205h2M1238 2169h2M1300 2049h2M1286 1983h2M1285 2023h2M1306 2063h2M1307 2064h2M1251 2010h2M1248 2004h2M1283 2204h2M1266 2192h2M1283 2007h2M1277 2196h2M1247 2203h2M1229 2060h2" stroke="#42BCEB" stroke-width="2" fill="none"/><rect x="1120.4" y="1846.2" width="384.3" height="383.7" fill="none" stroke="#111" stroke-width="2.0"/><polygon points="1305.9,1873.6 1475.2,1873.6 1472.3,2214.3 1239.0,2214.3 1290.9,2171.7 1299.5,2125.6 1302.4,2068.0" fill="none" stroke="#111" stroke-width="2.2" stroke-linejoin="miter"/><rect x="1110.4" y="1866.0" width="10" height="6.6" fill="#111"/><rect x="1110.4" y="1938.0" width="10" height="6.6" fill="#111"/><rect x="1110.4" y="2010.0" width="10" height="6.6" fill="#111"/><rect x="1110.4" y="2082.0" width="10" height="6.6" fill="#111"/><rect x="1110.4" y="2153.4" width="10" height="6.6" fill="#111"/><rect x="1110.4" y="2225.4" width="10" height="6.6" fill="#111"/><rect x="1114.9" y="2209.3" width="5.5" height="2.8" fill="#111"/><rect x="1114.9" y="2191.4" width="5.5" height="2.8" fill="#111"/><rect x="1114.9" y="2173.4" width="5.5" height="2.8" fill="#111"/><rect x="1114.9" y="2137.4" width="5.5" height="2.8" fill="#111"/><rect x="1114.9" y="2119.5" width="5.5" height="2.8" fill="#111"/><rect x="1114.9" y="2101.5" width="5.5" height="2.8" fill="#111"/><rect x="1114.9" y="2065.6" width="5.5" height="2.8" fill="#111"/><rect x="1114.9" y="2047.6" width="5.5" height="2.8" fill="#111"/><rect x="1114.9" y="2029.6" width="5.5" height="2.8" fill="#111"/><rect x="1114.9" y="1993.7" width="5.5" height="2.8" fill="#111"/><rect x="1114.9" y="1975.7" width="5.5" height="2.8" fill="#111"/><rect x="1114.9" y="1957.7" width="5.5" height="2.8" fill="#111"/><rect x="1114.9" y="1921.8" width="5.5" height="2.8" fill="#111"/><rect x="1114.9" y="1903.8" width="5.5" height="2.8" fill="#111"/><rect x="1114.9" y="1885.9" width="5.5" height="2.8" fill="#111"/><rect x="1114.9" y="1849.9" width="5.5" height="2.8" fill="#111"/><text x="1100.8" y="1878.0" font-size="30.5" text-anchor="end" fill="#111">5.0M</text><text x="1100.8" y="1952.5" font-size="30.5" text-anchor="end" fill="#111">4.0M</text><text x="1100.8" y="2024.5" font-size="30.5" text-anchor="end" fill="#111">3.0M</text><text x="1100.8" y="2096.5" font-size="30.5" text-anchor="end" fill="#111">2.0M</text><text x="1100.8" y="2167.9" font-size="30.5" text-anchor="end" fill="#111">1.0M</text><text x="1100.8" y="2239.9" font-size="30.5" text-anchor="end" fill="#111">0</text><rect x="1117.5" y="2229.9" width="7" height="10" fill="#111"/><rect x="1190.0" y="2229.9" width="7" height="10" fill="#111"/><rect x="1262.9" y="2229.9" width="7" height="10" fill="#111"/><rect x="1335.8" y="2229.9" width="7" height="10" fill="#111"/><rect x="1408.3" y="2229.9" width="7" height="10" fill="#111"/><rect x="1482.5" y="2229.9" width="7" height="10" fill="#111"/><rect x="1141.3" y="2229.9" width="3.4" height="4.5" fill="#111"/><rect x="1154.1" y="2229.9" width="3.4" height="4.5" fill="#111"/><rect x="1163.3" y="2229.9" width="3.4" height="4.5" fill="#111"/><rect x="1169.4" y="2229.9" width="5.2" height="7" fill="#111"/><rect x="1176.1" y="2229.9" width="3.4" height="4.5" fill="#111"/><rect x="1181.0" y="2229.9" width="3.4" height="4.5" fill="#111"/><rect x="1185.2" y="2229.9" width="3.4" height="4.5" fill="#111"/><rect x="1189.0" y="2229.9" width="3.4" height="4.5" fill="#111"/><rect x="1213.8" y="2229.9" width="3.4" height="4.5" fill="#111"/><rect x="1226.6" y="2229.9" width="3.4" height="4.5" fill="#111"/><rect x="1235.8" y="2229.9" width="3.4" height="4.5" fill="#111"/><rect x="1241.9" y="2229.9" width="5.2" height="7" fill="#111"/><rect x="1248.6" y="2229.9" width="3.4" height="4.5" fill="#111"/><rect x="1253.5" y="2229.9" width="3.4" height="4.5" fill="#111"/><rect x="1257.7" y="2229.9" width="3.4" height="4.5" fill="#111"/><rect x="1261.5" y="2229.9" width="3.4" height="4.5" fill="#111"/><rect x="1286.7" y="2229.9" width="3.4" height="4.5" fill="#111"/><rect x="1299.5" y="2229.9" width="3.4" height="4.5" fill="#111"/><rect x="1308.7" y="2229.9" width="3.4" height="4.5" fill="#111"/><rect x="1314.8" y="2229.9" width="5.2" height="7" fill="#111"/><rect x="1321.5" y="2229.9" width="3.4" height="4.5" fill="#111"/><rect x="1326.4" y="2229.9" width="3.4" height="4.5" fill="#111"/><rect x="1330.6" y="2229.9" width="3.4" height="4.5" fill="#111"/><rect x="1334.4" y="2229.9" width="3.4" height="4.5" fill="#111"/><rect x="1359.6" y="2229.9" width="3.4" height="4.5" fill="#111"/><rect x="1372.4" y="2229.9" width="3.4" height="4.5" fill="#111"/><rect x="1381.6" y="2229.9" width="3.4" height="4.5" fill="#111"/><rect x="1387.7" y="2229.9" width="5.2" height="7" fill="#111"/><rect x="1394.4" y="2229.9" width="3.4" height="4.5" fill="#111"/><rect x="1399.3" y="2229.9" width="3.4" height="4.5" fill="#111"/><rect x="1403.5" y="2229.9" width="3.4" height="4.5" fill="#111"/><rect x="1407.3" y="2229.9" width="3.4" height="4.5" fill="#111"/><rect x="1432.1" y="2229.9" width="3.4" height="4.5" fill="#111"/><rect x="1444.9" y="2229.9" width="3.4" height="4.5" fill="#111"/><rect x="1454.1" y="2229.9" width="3.4" height="4.5" fill="#111"/><rect x="1460.2" y="2229.9" width="5.2" height="7" fill="#111"/><rect x="1466.9" y="2229.9" width="3.4" height="4.5" fill="#111"/><rect x="1471.8" y="2229.9" width="3.4" height="4.5" fill="#111"/><rect x="1476.0" y="2229.9" width="3.4" height="4.5" fill="#111"/><rect x="1479.8" y="2229.9" width="3.4" height="4.5" fill="#111"/><text x="1119.5" y="2268.5" font-size="30.4" fill="#111" textLength="31.0" lengthAdjust="spacingAndGlyphs">10</text><text x="1151.5" y="2259.0" font-size="18" fill="#111">2</text><text x="1190.0" y="2268.5" font-size="30.4" fill="#111" textLength="31.0" lengthAdjust="spacingAndGlyphs">10</text><text x="1222.0" y="2259.0" font-size="18" fill="#111">3</text><text x="1262.0" y="2268.5" font-size="30.4" fill="#111" textLength="31.0" lengthAdjust="spacingAndGlyphs">10</text><text x="1294.0" y="2259.0" font-size="18" fill="#111">4</text><text x="1335.5" y="2268.5" font-size="30.4" fill="#111" textLength="31.0" lengthAdjust="spacingAndGlyphs">10</text><text x="1367.5" y="2259.0" font-size="18" fill="#111">5</text><text x="1408.9" y="2268.5" font-size="30.4" fill="#111" textLength="31.0" lengthAdjust="spacingAndGlyphs">10</text><text x="1440.9" y="2259.0" font-size="18" fill="#111">6</text><text x="1139.1" y="1888.0" font-size="31" font-weight="bold" fill="#111" textLength="103.0" lengthAdjust="spacingAndGlyphs">- LSD1i</text><text x="1379.1" y="1905.0" font-size="27.4" fill="#111" textLength="77.0" lengthAdjust="spacingAndGlyphs">59.0%</text><g filter="url(#frd)"><rect x="1626" y="1976" width="176" height="216" rx="62" ry="43" fill-opacity="0.07"/><rect x="1712" y="1978" width="73" height="212" rx="26" ry="36" fill-opacity="0.4"/><rect x="1710" y="2025" width="54" height="160" rx="19" ry="27" fill-opacity="0.66"/></g><g filter="url(#fcy)"><rect x="1648" y="1980" width="74" height="208" rx="26" ry="37" fill-opacity="0.5"/><rect x="1661" y="2050" width="58" height="130" rx="20" ry="26" fill-opacity="0.95"/></g><g filter="url(#frd2)"><rect x="1661" y="2050" width="58" height="130" rx="20" ry="26" fill-opacity="0.03"/></g><path d="M1794 2146h2M1680 1967h2M1700 1917h2M1800 2177h2M1608 2029h2M1619 2019h2M1622 2046h2M1661 2183h2M1672 1990h2M1645 2007h2M1780 2150h2M1789 2163h2M1742 1951h2M1797 2067h2M1730 1970h2M1672 2220h2M1713 1968h2M1788 2120h2M1594 2067h2M1598 2053h2M1750 2197h2M1609 2074h2M1729 2193h2M1805 2047h2M1592 2049h2M1736 2218h2M1753 2177h2M1773 2156h2M1706 1959h2M1650 2009h2M1618 2021h2M1663 2185h2M1632 2037h2M1798 2109h2M1668 2210h2M1697 1962h2M1787 2004h2M1656 2191h2M1633 2123h2M1757 2215h2M1779 2191h2M1826 2076h2M1790 2062h2M1810 2132h2M1834 2185h2" stroke="#E63B3A" stroke-width="2" fill="none"/><path d="M1695 2196h2M1713 2127h2M1684 2199h2M1668 2180h2M1686 2196h2M1728 2026h2M1724 2109h2M1687 2200h2M1665 1986h2M1709 1965h2M1725 2084h2M1675 1983h2M1664 1964h2M1655 1958h2M1685 2207h2M1661 2195h2M1702 1973h2M1656 2019h2M1711 2206h2M1716 2044h2M1727 2057h2M1713 2179h2M1645 2058h2M1646 2043h2M1734 2066h2" stroke="#42BCEB" stroke-width="2" fill="none"/><rect x="1539.5" y="1847.1" width="385.0" height="383.6" fill="none" stroke="#111" stroke-width="2.0"/><polygon points="1718.6,1864.4 1893.7,1867.8 1890.0,2218.6 1656.7,2216.9 1704.2,2171.7 1720.0,2119.8 1722.9,1996.0" fill="none" stroke="#111" stroke-width="2.2" stroke-linejoin="miter"/><rect x="1529.5" y="1866.0" width="10" height="6.6" fill="#111"/><rect x="1529.5" y="1938.6" width="10" height="6.6" fill="#111"/><rect x="1529.5" y="2010.6" width="10" height="6.6" fill="#111"/><rect x="1529.5" y="2082.6" width="10" height="6.6" fill="#111"/><rect x="1529.5" y="2154.6" width="10" height="6.6" fill="#111"/><rect x="1529.5" y="2226.0" width="10" height="6.6" fill="#111"/><rect x="1534.0" y="2209.9" width="5.5" height="2.8" fill="#111"/><rect x="1534.0" y="2191.9" width="5.5" height="2.8" fill="#111"/><rect x="1534.0" y="2173.9" width="5.5" height="2.8" fill="#111"/><rect x="1534.0" y="2137.9" width="5.5" height="2.8" fill="#111"/><rect x="1534.0" y="2119.9" width="5.5" height="2.8" fill="#111"/><rect x="1534.0" y="2101.9" width="5.5" height="2.8" fill="#111"/><rect x="1534.0" y="2065.9" width="5.5" height="2.8" fill="#111"/><rect x="1534.0" y="2047.9" width="5.5" height="2.8" fill="#111"/><rect x="1534.0" y="2029.9" width="5.5" height="2.8" fill="#111"/><rect x="1534.0" y="1993.9" width="5.5" height="2.8" fill="#111"/><rect x="1534.0" y="1975.9" width="5.5" height="2.8" fill="#111"/><rect x="1534.0" y="1957.9" width="5.5" height="2.8" fill="#111"/><rect x="1534.0" y="1921.9" width="5.5" height="2.8" fill="#111"/><rect x="1534.0" y="1903.9" width="5.5" height="2.8" fill="#111"/><rect x="1534.0" y="1885.9" width="5.5" height="2.8" fill="#111"/><rect x="1534.0" y="1849.9" width="5.5" height="2.8" fill="#111"/><rect x="1536.5" y="2230.7" width="7" height="10" fill="#111"/><rect x="1609.4" y="2230.7" width="7" height="10" fill="#111"/><rect x="1682.8" y="2230.7" width="7" height="10" fill="#111"/><rect x="1755.4" y="2230.7" width="7" height="10" fill="#111"/><rect x="1828.3" y="2230.7" width="7" height="10" fill="#111"/><rect x="1902.3" y="2230.7" width="7" height="10" fill="#111"/><rect x="1560.3" y="2230.7" width="3.4" height="4.5" fill="#111"/><rect x="1573.2" y="2230.7" width="3.4" height="4.5" fill="#111"/><rect x="1582.3" y="2230.7" width="3.4" height="4.5" fill="#111"/><rect x="1588.5" y="2230.7" width="5.2" height="7" fill="#111"/><rect x="1595.2" y="2230.7" width="3.4" height="4.5" fill="#111"/><rect x="1600.1" y="2230.7" width="3.4" height="4.5" fill="#111"/><rect x="1604.4" y="2230.7" width="3.4" height="4.5" fill="#111"/><rect x="1608.1" y="2230.7" width="3.4" height="4.5" fill="#111"/><rect x="1633.2" y="2230.7" width="3.4" height="4.5" fill="#111"/><rect x="1646.1" y="2230.7" width="3.4" height="4.5" fill="#111"/><rect x="1655.2" y="2230.7" width="3.4" height="4.5" fill="#111"/><rect x="1661.4" y="2230.7" width="5.2" height="7" fill="#111"/><rect x="1668.1" y="2230.7" width="3.4" height="4.5" fill="#111"/><rect x="1673.0" y="2230.7" width="3.4" height="4.5" fill="#111"/><rect x="1677.3" y="2230.7" width="3.4" height="4.5" fill="#111"/><rect x="1681.0" y="2230.7" width="3.4" height="4.5" fill="#111"/><rect x="1706.6" y="2230.7" width="3.4" height="4.5" fill="#111"/><rect x="1719.5" y="2230.7" width="3.4" height="4.5" fill="#111"/><rect x="1728.6" y="2230.7" width="3.4" height="4.5" fill="#111"/><rect x="1734.8" y="2230.7" width="5.2" height="7" fill="#111"/><rect x="1741.5" y="2230.7" width="3.4" height="4.5" fill="#111"/><rect x="1746.4" y="2230.7" width="3.4" height="4.5" fill="#111"/><rect x="1750.7" y="2230.7" width="3.4" height="4.5" fill="#111"/><rect x="1754.4" y="2230.7" width="3.4" height="4.5" fill="#111"/><rect x="1779.2" y="2230.7" width="3.4" height="4.5" fill="#111"/><rect x="1792.1" y="2230.7" width="3.4" height="4.5" fill="#111"/><rect x="1801.2" y="2230.7" width="3.4" height="4.5" fill="#111"/><rect x="1807.4" y="2230.7" width="5.2" height="7" fill="#111"/><rect x="1814.1" y="2230.7" width="3.4" height="4.5" fill="#111"/><rect x="1819.0" y="2230.7" width="3.4" height="4.5" fill="#111"/><rect x="1823.3" y="2230.7" width="3.4" height="4.5" fill="#111"/><rect x="1827.0" y="2230.7" width="3.4" height="4.5" fill="#111"/><rect x="1852.1" y="2230.7" width="3.4" height="4.5" fill="#111"/><rect x="1865.0" y="2230.7" width="3.4" height="4.5" fill="#111"/><rect x="1874.1" y="2230.7" width="3.4" height="4.5" fill="#111"/><rect x="1880.3" y="2230.7" width="5.2" height="7" fill="#111"/><rect x="1887.0" y="2230.7" width="3.4" height="4.5" fill="#111"/><rect x="1891.9" y="2230.7" width="3.4" height="4.5" fill="#111"/><rect x="1896.2" y="2230.7" width="3.4" height="4.5" fill="#111"/><rect x="1899.9" y="2230.7" width="3.4" height="4.5" fill="#111"/><text x="1538.5" y="2268.0" font-size="30.4" fill="#111" textLength="31.0" lengthAdjust="spacingAndGlyphs">10</text><text x="1570.5" y="2258.5" font-size="18" fill="#111">2</text><text x="1607.5" y="2268.0" font-size="30.4" fill="#111" textLength="31.0" lengthAdjust="spacingAndGlyphs">10</text><text x="1639.5" y="2258.5" font-size="18" fill="#111">3</text><text x="1679.5" y="2268.0" font-size="30.4" fill="#111" textLength="31.0" lengthAdjust="spacingAndGlyphs">10</text><text x="1711.5" y="2258.5" font-size="18" fill="#111">4</text><text x="1753.1" y="2268.0" font-size="30.4" fill="#111" textLength="31.0" lengthAdjust="spacingAndGlyphs">10</text><text x="1785.1" y="2258.5" font-size="18" fill="#111">5</text><text x="1828.0" y="2268.0" font-size="30.4" fill="#111" textLength="31.0" lengthAdjust="spacingAndGlyphs">10</text><text x="1860.0" y="2258.5" font-size="18" fill="#111">6</text><text x="1555.8" y="1888.0" font-size="31" font-weight="bold" fill="#111" textLength="111.0" lengthAdjust="spacingAndGlyphs">+ LSD1i</text><text x="1793.9" y="1902.4" font-size="27.4" fill="#111" textLength="77.0" lengthAdjust="spacingAndGlyphs">59.7%</text></svg></body></html>
